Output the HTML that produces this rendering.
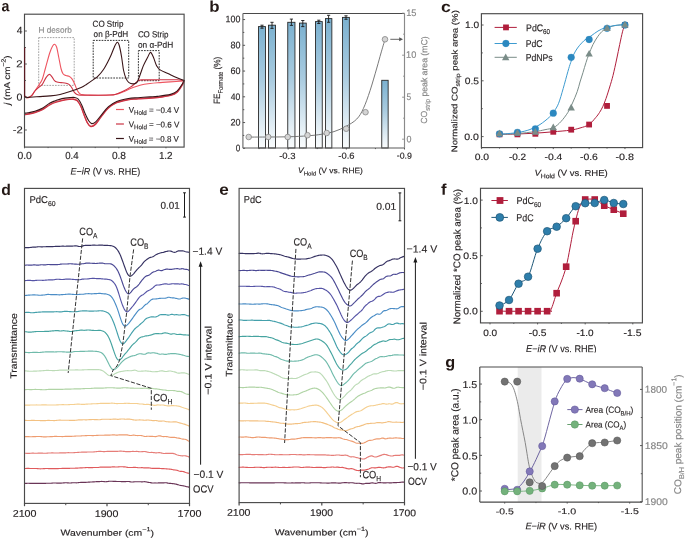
<!DOCTYPE html>
<html><head><meta charset="utf-8"><style>
html,body{margin:0;padding:0;background:#fff;width:685px;height:538px;overflow:hidden}
svg{display:block;font-family:"Liberation Sans",sans-serif;will-change:transform} text{text-rendering:geometricPrecision;paint-order:stroke}
</style></head><body>
<svg width="685" height="538" viewBox="0 0 685 538">
<rect x="0" y="0" width="685" height="538" fill="#fff"/>
<text x="1.44" y="11.22" font-size="15.5" text-anchor="start" fill="#231815" font-weight="bold" textLength="7.89" lengthAdjust="spacingAndGlyphs" transform="rotate(0.2 1.44 11.22)" >a</text>
<rect x="38.7" y="37.6" width="35.5" height="47.8" fill="none" stroke="#9a9a9a" stroke-width="0.9" stroke-dasharray="1.7,1.1" />
<rect x="93.2" y="40.4" width="35.5" height="37.6" fill="none" stroke="#333" stroke-width="1.0" stroke-dasharray="1.7,1.1" />
<rect x="138.4" y="50.6" width="20.8" height="30.1" fill="none" stroke="#333" stroke-width="1.0" stroke-dasharray="1.7,1.1" />
<path d="M184,80.6 C183.7,81.27 183.37,82.72 182.2,84.6 C181.03,86.48 178.95,90.15 177,91.9 C175.05,93.65 173.75,94.22 170.5,95.1 C167.25,95.98 162.92,96.62 157.5,97.2 C152.08,97.78 142.92,98.23 138,98.6 C133.08,98.97 131.58,98.77 128,99.4 C124.42,100.03 119.83,100.97 116.5,102.4 C113.17,103.83 110.58,105.65 108,108 C105.42,110.35 103.08,113.87 101,116.5 C98.92,119.13 97.23,122.18 95.5,123.8 C93.77,125.42 91.98,126.42 90.6,126.2 C89.22,125.98 88.3,124.4 87.2,122.5 C86.1,120.6 85.1,117.58 84,114.8 C82.9,112.02 81.77,108.2 80.6,105.8 C79.43,103.4 78.27,101.55 77,100.4 C75.73,99.25 75,99.03 73,98.9 C71,98.77 67.83,99.12 65,99.6 C62.17,100.08 58.5,101.02 56,101.8 C53.5,102.58 52.28,103.07 50,104.3 C47.72,105.53 44.82,107.88 42.3,109.2 C39.78,110.52 37.28,111.43 34.9,112.2 C32.52,112.97 29.68,113.47 28,113.8 C26.32,114.13 25.33,114.13 24.8,114.2" fill="none" stroke="#ee5560" stroke-width="1.2" stroke-linejoin="round" stroke-linecap="round" />
<path d="M184.2,81 C183.9,81.67 183.57,83.12 182.4,85 C181.23,86.88 179.15,90.55 177.2,92.3 C175.25,94.05 173.95,94.62 170.7,95.5 C167.45,96.38 163.12,97.02 157.7,97.6 C152.28,98.18 143.12,98.63 138.2,99 C133.28,99.37 131.78,99.17 128.2,99.8 C124.62,100.43 120.03,101.37 116.7,102.8 C113.37,104.23 110.78,106.05 108.2,108.4 C105.62,110.75 103.28,114.27 101.2,116.9 C99.12,119.53 97.43,122.58 95.7,124.2 C93.97,125.82 92.18,126.82 90.8,126.6 C89.42,126.38 88.5,124.8 87.4,122.9 C86.3,121 85.3,117.98 84.2,115.2 C83.1,112.42 81.97,108.6 80.8,106.2 C79.63,103.8 78.47,101.95 77.2,100.8 C75.93,99.65 75.2,99.43 73.2,99.3 C71.2,99.17 68.03,99.52 65.2,100 C62.37,100.48 58.7,101.42 56.2,102.2 C53.7,102.98 52.48,103.47 50.2,104.7 C47.92,105.93 45.02,108.28 42.5,109.6 C39.98,110.92 37.48,111.83 35.1,112.6 C32.72,113.37 29.88,113.87 28.2,114.2 C26.52,114.53 25.53,114.53 25,114.6" fill="none" stroke="#cc3344" stroke-width="1.2" stroke-linejoin="round" stroke-linecap="round" />
<path d="M24.8,96.3 C25.08,96.52 25.8,97.45 26.5,97.6 C27.2,97.75 28.08,97.58 29,97.2 C29.92,96.82 31,96.37 32,95.3 C33,94.23 33.88,92.48 35,90.8 C36.12,89.12 37.48,87.13 38.7,85.2 C39.92,83.27 41.17,82.07 42.3,79.2 C43.43,76.33 44.27,72.37 45.5,68 C46.73,63.63 48.53,56.63 49.7,53 C50.87,49.37 51.68,47.65 52.5,46.2 C53.32,44.75 53.92,44.17 54.6,44.3 C55.28,44.43 55.9,44.8 56.6,47 C57.3,49.2 58.07,53.92 58.8,57.5 C59.53,61.08 60.3,65.78 61,68.5 C61.7,71.22 62.17,72.62 63,73.8 C63.83,74.98 65,75.18 66,75.6 C67,76.02 68,75.77 69,76.3 C70,76.83 71.08,77.6 72,78.8 C72.92,80 73.63,81.58 74.5,83.5 C75.37,85.42 76.33,88.62 77.2,90.3 C78.07,91.98 78.73,92.85 79.7,93.6 C80.67,94.35 81.28,94.55 83,94.8 C84.72,95.05 87.17,95.03 90,95.1 C92.83,95.17 96.67,95.22 100,95.2 C103.33,95.18 107.33,95.15 110,95 C112.67,94.85 113.9,94.8 116,94.3 C118.1,93.8 119.95,93.05 122.6,92 C125.25,90.95 129,89.13 131.9,88 C134.8,86.87 136.98,85.95 140,85.2 C143.02,84.45 146.67,83.93 150,83.5 C153.33,83.07 156.67,82.87 160,82.6 C163.33,82.33 166,82.18 170,81.9 C174,81.62 181.67,81.07 184,80.9" fill="none" stroke="#ee5560" stroke-width="1.1" stroke-linejoin="round" stroke-linecap="round" />
<path d="M24.8,96.3 C25.08,96.52 25.8,97.42 26.5,97.6 C27.2,97.78 28.08,97.8 29,97.4 C29.92,97 31.02,96.27 32,95.2 C32.98,94.13 33.82,92.28 34.9,91 C35.98,89.72 37.27,88.6 38.5,87.5 C39.73,86.4 41.05,86.05 42.3,84.4 C43.55,82.75 44.83,79.27 46,77.6 C47.17,75.93 48.3,74.53 49.3,74.4 C50.3,74.27 51.13,75.77 52,76.8 C52.87,77.83 53.67,79.73 54.5,80.6 C55.33,81.47 55.92,81.67 57,82 C58.08,82.33 59.5,82.4 61,82.6 C62.5,82.8 64.67,82.9 66,83.2 C67.33,83.5 68.08,83.72 69,84.4 C69.92,85.08 70.67,86.07 71.5,87.3 C72.33,88.53 73.08,90.62 74,91.8 C74.92,92.98 75.83,93.85 77,94.4 C78.17,94.95 78.83,94.97 81,95.1 C83.17,95.23 85.17,95.22 90,95.2 C94.83,95.18 105.67,95.17 110,95 C114.33,94.83 113.9,94.77 116,94.2 C118.1,93.63 120.27,92.73 122.6,91.6 C124.93,90.47 127.93,88.73 130,87.4 C132.07,86.07 133.57,84.73 135,83.6 C136.43,82.47 137.43,81.22 138.6,80.6 C139.77,79.98 138.43,80.05 142,79.9 C145.57,79.75 154.17,79.72 160,79.7 C165.83,79.68 173,79.67 177,79.8 C181,79.93 182.83,80.38 184,80.5" fill="none" stroke="#cc3344" stroke-width="1.1" stroke-linejoin="round" stroke-linecap="round" />
<path d="M24.8,96.3 C25.08,96.48 25.63,97.25 26.5,97.4 C27.37,97.55 27.75,97.33 30,97.2 C32.25,97.07 36.67,96.82 40,96.6 C43.33,96.38 46.67,96.25 50,95.9 C53.33,95.55 56.67,95.22 60,94.5 C63.33,93.78 66.38,92.82 70,91.6 C73.62,90.38 78.92,88.43 81.7,87.2 C84.48,85.97 84.75,85.47 86.7,84.2 C88.65,82.93 91.52,80.93 93.4,79.6 C95.28,78.27 96.32,77.88 98,76.2 C99.68,74.52 101.83,71.95 103.5,69.5 C105.17,67.05 106.75,63.87 108,61.5 C109.25,59.13 109.93,57.73 111,55.3 C112.07,52.87 113.35,49.07 114.4,46.9 C115.45,44.73 116.47,42.45 117.3,42.3 C118.13,42.15 118.68,43.55 119.4,46 C120.12,48.45 120.9,52.92 121.6,57 C122.3,61.08 122.85,66.9 123.6,70.5 C124.35,74.1 125.2,76.58 126.1,78.6 C127,80.62 127.85,81.72 129,82.6 C130.15,83.48 131.75,83.87 133,83.9 C134.25,83.93 135.62,83.52 136.5,82.8 C137.38,82.08 137.55,81.37 138.3,79.6 C139.05,77.83 140.15,74.53 141,72.2 C141.85,69.87 142.27,68.15 143.4,65.6 C144.53,63.05 146.6,59.1 147.8,56.9 C149,54.7 149.63,52.25 150.6,52.4 C151.57,52.55 152.6,55.57 153.6,57.8 C154.6,60.03 155.52,63.78 156.6,65.8 C157.68,67.82 158.22,68.62 160.1,69.9 C161.98,71.18 165.08,72.2 167.9,73.5 C170.72,74.8 174.32,76.55 177,77.7 C179.68,78.85 182.83,79.95 184,80.4" fill="none" stroke="#3a1518" stroke-width="1.1" stroke-linejoin="round" stroke-linecap="round" />
<path d="M184,80.4 C183.7,81.03 183.37,82.4 182.2,84.2 C181.03,86 178.95,89.5 177,91.2 C175.05,92.9 173.75,93.53 170.5,94.4 C167.25,95.27 160.92,95.98 157.5,96.4 C154.08,96.82 153.25,96.68 150,96.9 C146.75,97.12 141.6,97.43 138,97.7 C134.4,97.97 131.95,97.88 128.4,98.5 C124.85,99.12 120.02,100.03 116.7,101.4 C113.38,102.77 111.03,104.47 108.5,106.7 C105.97,108.93 103.63,112.28 101.5,114.8 C99.37,117.32 97.33,120.33 95.7,121.8 C94.07,123.27 92.87,123.77 91.7,123.6 C90.53,123.43 89.78,122.43 88.7,120.8 C87.62,119.17 86.37,116.43 85.2,113.8 C84.03,111.17 82.87,107.43 81.7,105 C80.53,102.57 79.37,100.45 78.2,99.2 C77.03,97.95 76.07,97.77 74.7,97.5 C73.33,97.23 72.12,97.42 70,97.6 C67.88,97.78 64.42,98.08 62,98.6 C59.58,99.12 57.5,99.97 55.5,100.7 C53.5,101.43 52.2,101.75 50,103 C47.8,104.25 44.82,106.82 42.3,108.2 C39.78,109.58 37.28,110.53 34.9,111.3 C32.52,112.07 29.68,112.48 28,112.8 C26.32,113.12 25.33,113.13 24.8,113.2" fill="none" stroke="#3a1518" stroke-width="1.1" stroke-linejoin="round" stroke-linecap="round" />
<rect x="24.5" y="14.2" width="159.6" height="132.9" fill="none" stroke="#4a4a4a" stroke-width="1.15" />
<line x1="24.6" y1="47" x2="24.6" y2="97" stroke="#5a1a22" stroke-width="1.2" />
<line x1="24.5" y1="130" x2="26.9" y2="130" stroke="#4a4a4a" stroke-width="0.9" />
<line x1="24.5" y1="97" x2="26.9" y2="97" stroke="#4a4a4a" stroke-width="0.9" />
<line x1="24.5" y1="64" x2="26.9" y2="64" stroke="#4a4a4a" stroke-width="0.9" />
<line x1="24.5" y1="31" x2="26.9" y2="31" stroke="#4a4a4a" stroke-width="0.9" />
<line x1="24.5" y1="113.5" x2="26" y2="113.5" stroke="#4a4a4a" stroke-width="0.9" />
<line x1="24.5" y1="80.5" x2="26" y2="80.5" stroke="#4a4a4a" stroke-width="0.9" />
<line x1="24.5" y1="47.5" x2="26" y2="47.5" stroke="#4a4a4a" stroke-width="0.9" />
<line x1="24.5" y1="147.1" x2="24.5" y2="148.3" stroke="#4a4a4a" stroke-width="0.9" />
<line x1="71.66" y1="147.1" x2="71.66" y2="148.3" stroke="#4a4a4a" stroke-width="0.9" />
<line x1="118.82" y1="147.1" x2="118.82" y2="148.3" stroke="#4a4a4a" stroke-width="0.9" />
<line x1="165.98" y1="147.1" x2="165.98" y2="148.3" stroke="#4a4a4a" stroke-width="0.9" />
<line x1="48.08" y1="147.1" x2="48.08" y2="148.1" stroke="#4a4a4a" stroke-width="0.9" />
<line x1="95.24" y1="147.1" x2="95.24" y2="148.1" stroke="#4a4a4a" stroke-width="0.9" />
<line x1="142.4" y1="147.1" x2="142.4" y2="148.1" stroke="#4a4a4a" stroke-width="0.9" />
<text x="16.68" y="33.73" font-size="10" text-anchor="start" fill="#231f20" stroke="#231f20" stroke-width="0.15" textLength="5.67" lengthAdjust="spacingAndGlyphs" transform="rotate(0.2 16.68 33.73)" >4</text>
<text x="16.18" y="67.39" font-size="10" text-anchor="start" fill="#231f20" stroke="#231f20" stroke-width="0.15" textLength="6.32" lengthAdjust="spacingAndGlyphs" transform="rotate(0.2 16.18 67.39)" >2</text>
<text x="16.5" y="100.4" font-size="10" text-anchor="start" fill="#231f20" stroke="#231f20" stroke-width="0.15" textLength="5.9" lengthAdjust="spacingAndGlyphs" transform="rotate(0.2 16.5 100.4)" >0</text>
<text x="12.76" y="133.2" font-size="10" text-anchor="start" fill="#231f20" stroke="#231f20" stroke-width="0.15" textLength="9.97" lengthAdjust="spacingAndGlyphs" transform="rotate(0.2 12.76 133.2)" >-2</text>
<text x="17.44" y="159.1" font-size="10.2" text-anchor="start" fill="#231f20" stroke="#231f20" stroke-width="0.15" textLength="14.46" lengthAdjust="spacingAndGlyphs" transform="rotate(0.2 17.44 159.1)" >0.0</text>
<text x="65.13" y="159.09" font-size="10.2" text-anchor="start" fill="#231f20" stroke="#231f20" stroke-width="0.15" textLength="13.4" lengthAdjust="spacingAndGlyphs" transform="rotate(0.2 65.13 159.09)" >0.4</text>
<text x="111.91" y="158.94" font-size="10.2" text-anchor="start" fill="#231f20" stroke="#231f20" stroke-width="0.15" textLength="14.12" lengthAdjust="spacingAndGlyphs" transform="rotate(0.2 111.91 158.94)" >0.8</text>
<text x="158.89" y="159.1" font-size="10.2" text-anchor="start" fill="#231f20" stroke="#231f20" stroke-width="0.15" textLength="13.73" lengthAdjust="spacingAndGlyphs" transform="rotate(0.2 158.89 159.1)" >1.2</text>
<text x="70.6" y="174.49" font-size="9.51" text-anchor="start" fill="#231f20" stroke="#231f20" stroke-width="0.15" textLength="69.56" lengthAdjust="spacingAndGlyphs" transform="rotate(0.2 70.6 174.49)" ><tspan font-style="italic">E</tspan>−<tspan font-style="italic">iR</tspan> (V vs. RHE)</text>
<text x="9.9" y="105.11" font-size="8.51" text-anchor="start" fill="#231f20" stroke="#231f20" stroke-width="0.15" textLength="49.72" lengthAdjust="spacingAndGlyphs" transform="rotate(-89.8 9.9 105.11)" ><tspan font-style="italic">j</tspan> (mA cm<tspan font-size="70%" dy="-0.75em">−2</tspan><tspan dy="0.525em">)</tspan></text>
<text x="38.42" y="32.69" font-size="8.2" text-anchor="start" fill="#8a8a8a" stroke="#8a8a8a" stroke-width="0.15" textLength="33.37" lengthAdjust="spacingAndGlyphs" transform="rotate(0.2 38.42 32.69)" >H desorb</text>
<text x="92.6" y="26.76" font-size="8.7" text-anchor="start" fill="#231f20" stroke="#231f20" stroke-width="0.15" textLength="30.77" lengthAdjust="spacingAndGlyphs" transform="rotate(0.2 92.6 26.76)" >CO Strip</text>
<text x="93.6" y="36.91" font-size="8.7" text-anchor="start" fill="#231f20" stroke="#231f20" stroke-width="0.15" textLength="34.59" lengthAdjust="spacingAndGlyphs" transform="rotate(0.2 93.6 36.91)" >on β-PdH</text>
<text x="137.88" y="37.31" font-size="8.7" text-anchor="start" fill="#231f20" stroke="#231f20" stroke-width="0.15" textLength="30.52" lengthAdjust="spacingAndGlyphs" transform="rotate(0.2 137.88 37.31)" >CO Strip</text>
<text x="137.92" y="47.66" font-size="8.7" text-anchor="start" fill="#231f20" stroke="#231f20" stroke-width="0.15" textLength="35.31" lengthAdjust="spacingAndGlyphs" transform="rotate(0.2 137.92 47.66)" >on α-PdH</text>
<line x1="116" y1="109.5" x2="123.9" y2="109.5" stroke="#ee5560" stroke-width="1.2" />
<text x="128.68" y="112.77" font-size="8.25" text-anchor="start" fill="#231f20" stroke="#231f20" stroke-width="0.15" textLength="50.4" lengthAdjust="spacingAndGlyphs" transform="rotate(0.2 128.68 112.77)" >V<tspan font-size="78%" dy="0.32em">Hold</tspan><tspan dy="-0.25em"> = −0.4 V</tspan></text>
<line x1="116" y1="124" x2="123.9" y2="124" stroke="#cc3344" stroke-width="1.2" />
<text x="128.77" y="127.26" font-size="8.25" text-anchor="start" fill="#231f20" stroke="#231f20" stroke-width="0.15" textLength="50.49" lengthAdjust="spacingAndGlyphs" transform="rotate(0.2 128.77 127.26)" >V<tspan font-size="78%" dy="0.32em">Hold</tspan><tspan dy="-0.25em"> = −0.6 V</tspan></text>
<line x1="116" y1="138.5" x2="123.9" y2="138.5" stroke="#3a1518" stroke-width="1.2" />
<text x="128.64" y="141.67" font-size="8.25" text-anchor="start" fill="#231f20" stroke="#231f20" stroke-width="0.15" textLength="50.21" lengthAdjust="spacingAndGlyphs" transform="rotate(0.2 128.64 141.67)" >V<tspan font-size="78%" dy="0.32em">Hold</tspan><tspan dy="-0.25em"> = −0.8 V</tspan></text>
<text x="209.24" y="11.77" font-size="15.5" text-anchor="start" fill="#231815" font-weight="bold" textLength="10.26" lengthAdjust="spacingAndGlyphs" transform="rotate(0.2 209.24 11.77)" >b</text>
<defs><linearGradient id="bg" x1="0" y1="0" x2="0" y2="1"><stop offset="0" stop-color="#7bb1d0"/><stop offset="0.45" stop-color="#aacce0"/><stop offset="0.85" stop-color="#e6f0f6"/><stop offset="1" stop-color="#fafcfd"/></linearGradient></defs>
<rect x="258.45" y="26.6" width="7" height="121.4" fill="url(#bg)" stroke="#2a2a2a" stroke-width="0.9" />
<rect x="268.45" y="25.2" width="7" height="122.8" fill="url(#bg)" stroke="#2a2a2a" stroke-width="0.9" />
<rect x="287.75" y="22.3" width="7.2" height="125.7" fill="url(#bg)" stroke="#2a2a2a" stroke-width="0.9" />
<rect x="299.45" y="23.1" width="6.8" height="124.9" fill="url(#bg)" stroke="#2a2a2a" stroke-width="0.9" />
<rect x="315.45" y="21.6" width="6.8" height="126.4" fill="url(#bg)" stroke="#2a2a2a" stroke-width="0.9" />
<rect x="325.45" y="18.6" width="6.4" height="129.4" fill="url(#bg)" stroke="#2a2a2a" stroke-width="0.9" />
<rect x="342.55" y="17.4" width="6.8" height="130.6" fill="url(#bg)" stroke="#2a2a2a" stroke-width="0.9" />
<rect x="381.75" y="80.3" width="6.4" height="67.7" fill="url(#bg)" stroke="#2a2a2a" stroke-width="0.9" />
<line x1="262" y1="25.2" x2="262" y2="28.2" stroke="#1a1a1a" stroke-width="0.9" />
<line x1="260.4" y1="25.2" x2="263.6" y2="25.2" stroke="#1a1a1a" stroke-width="0.9" />
<line x1="260.4" y1="28.2" x2="263.6" y2="28.2" stroke="#1a1a1a" stroke-width="0.9" />
<line x1="272" y1="22.3" x2="272" y2="28.4" stroke="#1a1a1a" stroke-width="0.9" />
<line x1="270.4" y1="22.3" x2="273.6" y2="22.3" stroke="#1a1a1a" stroke-width="0.9" />
<line x1="270.4" y1="28.4" x2="273.6" y2="28.4" stroke="#1a1a1a" stroke-width="0.9" />
<line x1="291.4" y1="19.1" x2="291.4" y2="25.4" stroke="#1a1a1a" stroke-width="0.9" />
<line x1="289.8" y1="19.1" x2="293" y2="19.1" stroke="#1a1a1a" stroke-width="0.9" />
<line x1="289.8" y1="25.4" x2="293" y2="25.4" stroke="#1a1a1a" stroke-width="0.9" />
<line x1="302.8" y1="20.5" x2="302.8" y2="26.6" stroke="#1a1a1a" stroke-width="0.9" />
<line x1="301.2" y1="20.5" x2="304.4" y2="20.5" stroke="#1a1a1a" stroke-width="0.9" />
<line x1="301.2" y1="26.6" x2="304.4" y2="26.6" stroke="#1a1a1a" stroke-width="0.9" />
<line x1="318.8" y1="20.2" x2="318.8" y2="23.5" stroke="#1a1a1a" stroke-width="0.9" />
<line x1="317.2" y1="20.2" x2="320.4" y2="20.2" stroke="#1a1a1a" stroke-width="0.9" />
<line x1="317.2" y1="23.5" x2="320.4" y2="23.5" stroke="#1a1a1a" stroke-width="0.9" />
<line x1="328.6" y1="15.3" x2="328.6" y2="22.3" stroke="#1a1a1a" stroke-width="0.9" />
<line x1="327" y1="15.3" x2="330.2" y2="15.3" stroke="#1a1a1a" stroke-width="0.9" />
<line x1="327" y1="22.3" x2="330.2" y2="22.3" stroke="#1a1a1a" stroke-width="0.9" />
<line x1="346" y1="15.8" x2="346" y2="19.3" stroke="#1a1a1a" stroke-width="0.9" />
<line x1="344.4" y1="15.8" x2="347.6" y2="15.8" stroke="#1a1a1a" stroke-width="0.9" />
<line x1="344.4" y1="19.3" x2="347.6" y2="19.3" stroke="#1a1a1a" stroke-width="0.9" />
<path d="M248.7,137.1 C251.92,137.08 261.45,137.05 268,137 C274.55,136.95 281.33,137 288,136.8 C294.67,136.6 302.33,136.23 308,135.8 C313.67,135.37 317.67,134.9 322,134.2 C326.33,133.5 330,132.9 334,131.6 C338,130.3 342.22,128.48 346,126.4 C349.78,124.32 353.8,122.08 356.7,119.1 C359.6,116.12 361.17,113.27 363.4,108.5 C365.63,103.73 367.87,97.25 370.1,90.5 C372.33,83.75 374.98,74.25 376.8,68 C378.62,61.75 379.63,57.77 381,53 C382.37,48.23 384.33,41.67 385,39.4" fill="none" stroke="#6a6a6a" stroke-width="0.9" stroke-linejoin="round" stroke-linecap="round" />
<circle cx="248.7" cy="137" r="2.8" fill="#d4d4d4" stroke="#858585" stroke-width="0.8"/>
<circle cx="268.2" cy="137" r="2.8" fill="#d4d4d4" stroke="#858585" stroke-width="0.8"/>
<circle cx="287.7" cy="137" r="2.8" fill="#d4d4d4" stroke="#858585" stroke-width="0.8"/>
<circle cx="307.5" cy="135.2" r="2.8" fill="#d4d4d4" stroke="#858585" stroke-width="0.8"/>
<circle cx="326.7" cy="133" r="2.8" fill="#d4d4d4" stroke="#858585" stroke-width="0.8"/>
<circle cx="346.2" cy="128.7" r="2.8" fill="#d4d4d4" stroke="#858585" stroke-width="0.8"/>
<circle cx="365.5" cy="112.2" r="2.8" fill="#d4d4d4" stroke="#858585" stroke-width="0.8"/>
<circle cx="385" cy="39.3" r="2.8" fill="#d4d4d4" stroke="#858585" stroke-width="0.8"/>
<line x1="390.3" y1="39.3" x2="400.5" y2="39.3" stroke="#555" stroke-width="0.9" />
<path d="M403,39.3 L399.2,37.3 L399.2,41.3 Z" fill="#555"/>
<line x1="242.9" y1="13.5" x2="404.5" y2="13.5" stroke="#4a4a4a" stroke-width="1.15" />
<line x1="242.9" y1="148" x2="404.5" y2="148" stroke="#5a5a5a" stroke-width="1.15" />
<line x1="242.9" y1="13.5" x2="242.9" y2="148" stroke="#7a7a7a" stroke-width="1.3" />
<line x1="404.5" y1="13.5" x2="404.5" y2="148" stroke="#8a8a8a" stroke-width="1.15" />
<line x1="242.9" y1="148.3" x2="245.1" y2="148.3" stroke="#4a4a4a" stroke-width="0.9" />
<line x1="242.9" y1="122.55" x2="245.1" y2="122.55" stroke="#4a4a4a" stroke-width="0.9" />
<line x1="242.9" y1="96.8" x2="245.1" y2="96.8" stroke="#4a4a4a" stroke-width="0.9" />
<line x1="242.9" y1="71.05" x2="245.1" y2="71.05" stroke="#4a4a4a" stroke-width="0.9" />
<line x1="242.9" y1="45.3" x2="245.1" y2="45.3" stroke="#4a4a4a" stroke-width="0.9" />
<line x1="242.9" y1="19.55" x2="245.1" y2="19.55" stroke="#4a4a4a" stroke-width="0.9" />
<line x1="242.9" y1="135.43" x2="244.3" y2="135.43" stroke="#4a4a4a" stroke-width="0.9" />
<line x1="242.9" y1="109.68" x2="244.3" y2="109.68" stroke="#4a4a4a" stroke-width="0.9" />
<line x1="242.9" y1="83.93" x2="244.3" y2="83.93" stroke="#4a4a4a" stroke-width="0.9" />
<line x1="242.9" y1="58.18" x2="244.3" y2="58.18" stroke="#4a4a4a" stroke-width="0.9" />
<line x1="242.9" y1="32.42" x2="244.3" y2="32.42" stroke="#4a4a4a" stroke-width="0.9" />
<line x1="288.17" y1="148" x2="288.17" y2="149.5" stroke="#4a4a4a" stroke-width="0.9" />
<line x1="346.34" y1="148" x2="346.34" y2="149.5" stroke="#4a4a4a" stroke-width="0.9" />
<line x1="404.51" y1="148" x2="404.51" y2="149.5" stroke="#4a4a4a" stroke-width="0.9" />
<line x1="259.08" y1="148" x2="259.08" y2="149.1" stroke="#4a4a4a" stroke-width="0.9" />
<line x1="317.25" y1="148" x2="317.25" y2="149.1" stroke="#4a4a4a" stroke-width="0.9" />
<line x1="375.43" y1="148" x2="375.43" y2="149.1" stroke="#4a4a4a" stroke-width="0.9" />
<text x="235.75" y="151.31" font-size="9.45" text-anchor="start" fill="#231f20" stroke="#231f20" stroke-width="0.15" textLength="4.54" lengthAdjust="spacingAndGlyphs" transform="rotate(0.2 235.75 151.31)" >0</text>
<text x="230.59" y="125.48" font-size="9.45" text-anchor="start" fill="#231f20" stroke="#231f20" stroke-width="0.15" textLength="10" lengthAdjust="spacingAndGlyphs" transform="rotate(0.2 230.59 125.48)" >20</text>
<text x="230.67" y="100" font-size="9.45" text-anchor="start" fill="#231f20" stroke="#231f20" stroke-width="0.15" textLength="9.53" lengthAdjust="spacingAndGlyphs" transform="rotate(0.2 230.67 100)" >40</text>
<text x="230.59" y="74.05" font-size="9.45" text-anchor="start" fill="#231f20" stroke="#231f20" stroke-width="0.15" textLength="10" lengthAdjust="spacingAndGlyphs" transform="rotate(0.2 230.59 74.05)" >60</text>
<text x="230.57" y="48.19" font-size="9.45" text-anchor="start" fill="#231f20" stroke="#231f20" stroke-width="0.15" textLength="9.96" lengthAdjust="spacingAndGlyphs" transform="rotate(0.2 230.57 48.19)" >80</text>
<text x="225.56" y="22.3" font-size="9.45" text-anchor="start" fill="#231f20" stroke="#231f20" stroke-width="0.15" textLength="14.76" lengthAdjust="spacingAndGlyphs" transform="rotate(0.2 225.56 22.3)" >100</text>
<text x="279.16" y="158.87" font-size="8.75" text-anchor="start" fill="#231f20" stroke="#231f20" stroke-width="0.15" textLength="16.31" lengthAdjust="spacingAndGlyphs" transform="rotate(0.2 279.16 158.87)" >-0.3</text>
<text x="338.36" y="158.66" font-size="8.75" text-anchor="start" fill="#231f20" stroke="#231f20" stroke-width="0.15" textLength="16.2" lengthAdjust="spacingAndGlyphs" transform="rotate(0.2 338.36 158.66)" >-0.6</text>
<text x="396.82" y="158.63" font-size="8.75" text-anchor="start" fill="#231f20" stroke="#231f20" stroke-width="0.15" textLength="15.11" lengthAdjust="spacingAndGlyphs" transform="rotate(0.2 396.82 158.63)" >-0.9</text>
<line x1="404.5" y1="139.2" x2="402.1" y2="139.2" stroke="#8a8a8a" stroke-width="0.9" />
<line x1="404.5" y1="97.2" x2="402.1" y2="97.2" stroke="#8a8a8a" stroke-width="0.9" />
<line x1="404.5" y1="55.2" x2="402.1" y2="55.2" stroke="#8a8a8a" stroke-width="0.9" />
<line x1="404.5" y1="13.2" x2="402.1" y2="13.2" stroke="#8a8a8a" stroke-width="0.9" />
<line x1="404.5" y1="118.2" x2="403.1" y2="118.2" stroke="#8a8a8a" stroke-width="0.9" />
<line x1="404.5" y1="76.2" x2="403.1" y2="76.2" stroke="#8a8a8a" stroke-width="0.9" />
<line x1="404.5" y1="34.2" x2="403.1" y2="34.2" stroke="#8a8a8a" stroke-width="0.9" />
<text x="406.13" y="15.95" font-size="9.35" text-anchor="start" fill="#858585" stroke="#858585" stroke-width="0.15" textLength="10.33" lengthAdjust="spacingAndGlyphs" transform="rotate(0.2 406.13 15.95)" >15</text>
<text x="406.1" y="57.67" font-size="9.35" text-anchor="start" fill="#858585" stroke="#858585" stroke-width="0.15" textLength="10.21" lengthAdjust="spacingAndGlyphs" transform="rotate(0.2 406.1 57.67)" >10</text>
<text x="406.55" y="100.02" font-size="9.35" text-anchor="start" fill="#858585" stroke="#858585" stroke-width="0.15" textLength="4.65" lengthAdjust="spacingAndGlyphs" transform="rotate(0.2 406.55 100.02)" >5</text>
<text x="406.57" y="142.15" font-size="9.35" text-anchor="start" fill="#858585" stroke="#858585" stroke-width="0.15" textLength="4.96" lengthAdjust="spacingAndGlyphs" transform="rotate(0.2 406.57 142.15)" >0</text>
<text x="298.03" y="173.12" font-size="7.89" text-anchor="start" fill="#231f20" stroke="#231f20" stroke-width="0.15" textLength="64.87" lengthAdjust="spacingAndGlyphs" transform="rotate(0.2 298.03 173.12)" ><tspan font-style="italic">V</tspan><tspan font-size="72%" dy="0.4em">Hold</tspan><tspan dy="-0.288em"> (V vs. RHE)</tspan></text>
<text x="220.06" y="103.93" font-size="9.18" text-anchor="start" fill="#231f20" stroke="#231f20" stroke-width="0.15" textLength="47.26" lengthAdjust="spacingAndGlyphs" transform="rotate(-89.8 220.06 103.93)" >FE<tspan font-size="72%" dy="0.4em">Formate</tspan><tspan dy="-0.288em"> (%)</tspan></text>
<text x="427.1" y="123.76" font-size="8.82" text-anchor="start" fill="#858585" stroke="#858585" stroke-width="0.15" textLength="87.37" lengthAdjust="spacingAndGlyphs" transform="rotate(-89.8 427.1 123.76)" >CO<tspan font-size="72%" dy="0.4em">strip</tspan><tspan dy="-0.288em"> peak area (mC)</tspan></text>
<text x="441" y="11.9" font-size="15.5" text-anchor="start" fill="#231815" font-weight="bold" textLength="9.76" lengthAdjust="spacingAndGlyphs" transform="rotate(0.2 441 11.9)" >c</text>
<path d="M500,134.3 C502.92,134.25 511.67,134.18 517.5,134 C523.33,133.82 529.08,133.57 535,133.2 C540.92,132.83 547.13,132.3 553,131.8 C558.87,131.3 565.7,130.83 570.2,130.2 C574.7,129.57 576.9,128.92 580,128 C583.1,127.08 586.18,126.43 588.8,124.7 C591.42,122.97 593.92,119.63 595.7,117.6 C597.48,115.57 598.33,114.3 599.5,112.5 C600.67,110.7 601.62,109.13 602.7,106.8 C603.78,104.47 604.83,101.8 606,98.5 C607.17,95.2 608.53,90.83 609.7,87 C610.87,83.17 611.83,80.17 613,75.5 C614.17,70.83 615.58,64.17 616.7,59 C617.82,53.83 618.73,49.03 619.7,44.5 C620.67,39.97 621.65,35.12 622.5,31.8 C623.35,28.48 624.42,25.8 624.8,24.6" fill="none" stroke="#b01e3c" stroke-width="1.0" stroke-linejoin="round" stroke-linecap="round" />
<path d="M500,134.4 C502.92,134.27 511.67,134.07 517.5,133.6 C523.33,133.13 530.42,132.25 535,131.6 C539.58,130.95 541.85,130.4 545,129.7 C548.15,129 551.23,128.77 553.9,127.4 C556.57,126.03 558.67,124 561,121.5 C563.33,119 565.98,115.48 567.9,112.4 C569.82,109.32 570.95,106.45 572.5,103 C574.05,99.55 575.95,95.2 577.2,91.7 C578.45,88.2 579.03,85.2 580,82 C580.97,78.8 582,75.75 583,72.5 C584,69.25 585.03,65.5 586,62.5 C586.97,59.5 587.63,57.5 588.8,54.5 C589.97,51.5 591.47,47.55 593,44.5 C594.53,41.45 596.33,38.53 598,36.2 C599.67,33.87 601.43,31.88 603,30.5 C604.57,29.12 605.4,28.72 607.4,27.9 C609.4,27.08 612.1,26.15 615,25.6 C617.9,25.05 623.17,24.77 624.8,24.6" fill="none" stroke="#7a8c88" stroke-width="1.0" stroke-linejoin="round" stroke-linecap="round" />
<path d="M500,134.2 C502.92,133.93 512.5,133.38 517.5,132.6 C522.5,131.82 526.25,130.85 530,129.5 C533.75,128.15 536.78,126.55 540,124.5 C543.22,122.45 546.97,119.37 549.3,117.2 C551.63,115.03 552.45,113.82 554,111.5 C555.55,109.18 557.07,107.13 558.6,103.3 C560.13,99.47 561.65,93.8 563.2,88.5 C564.75,83.2 566.65,75.83 567.9,71.5 C569.15,67.17 569.73,65.33 570.7,62.5 C571.67,59.67 572.57,56.92 573.7,54.5 C574.83,52.08 576.15,49.93 577.5,48 C578.85,46.07 580.38,44.4 581.8,42.9 C583.22,41.4 584.45,40.17 586,39 C587.55,37.83 589.1,37.23 591.1,35.9 C593.1,34.57 595.68,32.35 598,31 C600.32,29.65 602.33,28.7 605,27.8 C607.67,26.9 610.7,26.13 614,25.6 C617.3,25.07 623,24.77 624.8,24.6" fill="none" stroke="#3d9bd0" stroke-width="1.0" stroke-linejoin="round" stroke-linecap="round" />
<rect x="496.62" y="131.47" width="5.8" height="5.8" fill="#b01e3c" stroke="none" stroke-width="0.6"/>
<rect x="514.54" y="131.47" width="5.8" height="5.8" fill="#b01e3c" stroke="none" stroke-width="0.6"/>
<rect x="532.46" y="130.91" width="5.8" height="5.8" fill="#b01e3c" stroke="none" stroke-width="0.6"/>
<rect x="550.38" y="128.9" width="5.8" height="5.8" fill="#b01e3c" stroke="none" stroke-width="0.6"/>
<rect x="568.3" y="126.78" width="5.8" height="5.8" fill="#b01e3c" stroke="none" stroke-width="0.6"/>
<rect x="586.22" y="121.65" width="5.8" height="5.8" fill="#b01e3c" stroke="none" stroke-width="0.6"/>
<rect x="604.14" y="103.01" width="5.8" height="5.8" fill="#b01e3c" stroke="none" stroke-width="0.6"/>
<rect x="622.06" y="22.1" width="5.8" height="5.8" fill="#b01e3c" stroke="none" stroke-width="0.6"/>
<circle cx="499.52" cy="133.81" r="3.4" fill="#2b88c0" stroke="#2b88c0" stroke-width="0.3"/>
<circle cx="517.44" cy="132.36" r="3.4" fill="#2b88c0" stroke="#2b88c0" stroke-width="0.3"/>
<circle cx="535.36" cy="128.79" r="3.4" fill="#2b88c0" stroke="#2b88c0" stroke-width="0.3"/>
<circle cx="553.28" cy="113.16" r="3.4" fill="#2b88c0" stroke="#2b88c0" stroke-width="0.3"/>
<circle cx="571.2" cy="57.36" r="3.4" fill="#2b88c0" stroke="#2b88c0" stroke-width="0.3"/>
<circle cx="589.12" cy="39.51" r="3.4" fill="#2b88c0" stroke="#2b88c0" stroke-width="0.3"/>
<circle cx="607.04" cy="28.35" r="3.4" fill="#2b88c0" stroke="#2b88c0" stroke-width="0.3"/>
<circle cx="624.96" cy="25" r="3.4" fill="#2b88c0" stroke="#2b88c0" stroke-width="0.3"/>
<path d="M499.52,129.68 L503.22,136.34 L495.82,136.34 Z" fill="#7a8c88" stroke="none" stroke-width="0.6"/>
<path d="M517.44,129.12 L521.14,135.78 L513.74,135.78 Z" fill="#7a8c88" stroke="none" stroke-width="0.6"/>
<path d="M535.36,128.01 L539.06,134.67 L531.66,134.67 Z" fill="#7a8c88" stroke="none" stroke-width="0.6"/>
<path d="M553.28,123.54 L556.98,130.2 L549.58,130.2 Z" fill="#7a8c88" stroke="none" stroke-width="0.6"/>
<path d="M571.2,103.79 L574.9,110.45 L567.5,110.45 Z" fill="#7a8c88" stroke="none" stroke-width="0.6"/>
<path d="M589.12,49.89 L592.82,56.55 L585.42,56.55 Z" fill="#7a8c88" stroke="none" stroke-width="0.6"/>
<path d="M607.04,24.22 L610.74,30.88 L603.34,30.88 Z" fill="#7a8c88" stroke="none" stroke-width="0.6"/>
<path d="M624.96,20.87 L628.66,27.53 L621.26,27.53 Z" fill="#7a8c88" stroke="none" stroke-width="0.6"/>
<line x1="494.6" y1="27.4" x2="516.8" y2="27.4" stroke="#b01e3c" stroke-width="1.0" />
<rect x="503.1" y="24.5" width="5.8" height="5.8" fill="#b01e3c" stroke="none" stroke-width="0.6"/>
<line x1="494.6" y1="43.5" x2="516.8" y2="43.5" stroke="#3d9bd0" stroke-width="1.0" />
<circle cx="505.9" cy="43.5" r="3.4" fill="#2b88c0" stroke="#2b88c0" stroke-width="0.3"/>
<line x1="494.6" y1="57.3" x2="516.8" y2="57.3" stroke="#7a8c88" stroke-width="1.0" />
<path d="M505.7,53.47 L509.4,60.13 L502,60.13 Z" fill="#7a8c88" stroke="none" stroke-width="0.6"/>
<text x="526.08" y="31.22" font-size="9.8" text-anchor="start" fill="#231f20" stroke="#231f20" stroke-width="0.15" textLength="24.07" lengthAdjust="spacingAndGlyphs" transform="rotate(0.2 526.08 31.22)" >PdC<tspan font-size="72%" dy="0.4em">60</tspan><tspan dy="-0.288em"></tspan></text>
<text x="525.75" y="47.06" font-size="9.8" text-anchor="start" fill="#231f20" stroke="#231f20" stroke-width="0.15" textLength="16.75" lengthAdjust="spacingAndGlyphs" transform="rotate(0.2 525.75 47.06)" >PdC</text>
<text x="525.75" y="60.87" font-size="9.8" text-anchor="start" fill="#231f20" stroke="#231f20" stroke-width="0.15" textLength="26.95" lengthAdjust="spacingAndGlyphs" transform="rotate(0.2 525.75 60.87)" >PdNPs</text>
<rect x="481.4" y="13.7" width="161.2" height="133.9" fill="none" stroke="#4a4a4a" stroke-width="1.15" />
<line x1="481.4" y1="136.6" x2="483.6" y2="136.6" stroke="#4a4a4a" stroke-width="0.9" />
<line x1="481.4" y1="80.8" x2="483.6" y2="80.8" stroke="#4a4a4a" stroke-width="0.9" />
<line x1="481.4" y1="25" x2="483.6" y2="25" stroke="#4a4a4a" stroke-width="0.9" />
<line x1="481.4" y1="108.7" x2="482.8" y2="108.7" stroke="#4a4a4a" stroke-width="0.9" />
<line x1="481.4" y1="52.9" x2="482.8" y2="52.9" stroke="#4a4a4a" stroke-width="0.9" />
<line x1="481.6" y1="147.6" x2="481.6" y2="149.1" stroke="#4a4a4a" stroke-width="0.9" />
<line x1="499.52" y1="147.6" x2="499.52" y2="148.6" stroke="#4a4a4a" stroke-width="0.9" />
<line x1="517.44" y1="147.6" x2="517.44" y2="149.1" stroke="#4a4a4a" stroke-width="0.9" />
<line x1="535.36" y1="147.6" x2="535.36" y2="148.6" stroke="#4a4a4a" stroke-width="0.9" />
<line x1="553.28" y1="147.6" x2="553.28" y2="149.1" stroke="#4a4a4a" stroke-width="0.9" />
<line x1="571.2" y1="147.6" x2="571.2" y2="148.6" stroke="#4a4a4a" stroke-width="0.9" />
<line x1="589.12" y1="147.6" x2="589.12" y2="149.1" stroke="#4a4a4a" stroke-width="0.9" />
<line x1="607.04" y1="147.6" x2="607.04" y2="148.6" stroke="#4a4a4a" stroke-width="0.9" />
<line x1="624.96" y1="147.6" x2="624.96" y2="149.1" stroke="#4a4a4a" stroke-width="0.9" />
<text x="465.07" y="28.09" font-size="9.35" text-anchor="start" fill="#231f20" stroke="#231f20" stroke-width="0.15" textLength="14.06" lengthAdjust="spacingAndGlyphs" transform="rotate(0.2 465.07 28.09)" >1.0</text>
<text x="464.7" y="84.12" font-size="9.35" text-anchor="start" fill="#231f20" stroke="#231f20" stroke-width="0.15" textLength="14.28" lengthAdjust="spacingAndGlyphs" transform="rotate(0.2 464.7 84.12)" >0.5</text>
<text x="464.21" y="139.91" font-size="9.35" text-anchor="start" fill="#231f20" stroke="#231f20" stroke-width="0.15" textLength="14.65" lengthAdjust="spacingAndGlyphs" transform="rotate(0.2 464.21 139.91)" >0.0</text>
<text x="474.67" y="160" font-size="9.15" text-anchor="start" fill="#231f20" stroke="#231f20" stroke-width="0.15" textLength="14.38" lengthAdjust="spacingAndGlyphs" transform="rotate(0.2 474.67 160)" >0.0</text>
<text x="508.99" y="160.01" font-size="9.15" text-anchor="start" fill="#231f20" stroke="#231f20" stroke-width="0.15" textLength="17.16" lengthAdjust="spacingAndGlyphs" transform="rotate(0.2 508.99 160.01)" >-0.2</text>
<text x="544.49" y="160.09" font-size="9.15" text-anchor="start" fill="#231f20" stroke="#231f20" stroke-width="0.15" textLength="17.79" lengthAdjust="spacingAndGlyphs" transform="rotate(0.2 544.49 160.09)" >-0.4</text>
<text x="579.93" y="160.09" font-size="9.15" text-anchor="start" fill="#231f20" stroke="#231f20" stroke-width="0.15" textLength="17.92" lengthAdjust="spacingAndGlyphs" transform="rotate(0.2 579.93 160.09)" >-0.6</text>
<text x="615.42" y="160.03" font-size="9.15" text-anchor="start" fill="#231f20" stroke="#231f20" stroke-width="0.15" textLength="18.48" lengthAdjust="spacingAndGlyphs" transform="rotate(0.2 615.42 160.03)" >-0.8</text>
<text x="534.42" y="175.78" font-size="8.75" text-anchor="start" fill="#231f20" stroke="#231f20" stroke-width="0.15" textLength="73.27" lengthAdjust="spacingAndGlyphs" transform="rotate(0.2 534.42 175.78)" ><tspan font-style="italic">V</tspan><tspan font-size="72%" dy="0.4em">Hold</tspan><tspan dy="-0.288em">  (V vs. RHE)</tspan></text>
<text x="457.23" y="152.28" font-size="8.32" text-anchor="start" fill="#231f20" stroke="#231f20" stroke-width="0.15" textLength="142.15" lengthAdjust="spacingAndGlyphs" transform="rotate(-89.8 457.23 152.28)" >Normalized CO<tspan font-size="72%" dy="0.4em">strip</tspan><tspan dy="-0.288em"> peak area (%)</tspan></text>
<text x="440.97" y="194.66" font-size="15.5" text-anchor="start" fill="#231815" font-weight="bold" textLength="5.5" lengthAdjust="spacingAndGlyphs" transform="rotate(0.2 440.97 194.66)" >f</text>
<path d="M499.52,311.2 C507.45,311.2 538.54,311.48 547.12,311.2 C555.7,310.92 549.42,312.5 551,309.5 C552.58,306.5 554.85,297.95 556.6,293.2 C558.35,288.45 559.9,285.42 561.5,281 C563.1,276.58 564.78,272.2 566.2,266.7 C567.62,261.2 568.87,253.78 570,248 C571.13,242.22 572,236.83 573,232 C574,227.17 575,222.92 576,219 C577,215.08 578,211.25 579,208.5 C580,205.75 580.97,203.98 582,202.5 C583.03,201.02 583.08,200.08 585.2,199.6 C587.32,199.12 591.53,198.62 594.7,199.6 C597.87,200.58 601.02,203.82 604.2,205.5 C607.38,207.18 610.62,208.33 613.8,209.7 C616.98,211.07 621.72,213.03 623.3,213.7" fill="none" stroke="#b01e3c" stroke-width="1.0" stroke-linejoin="round" stroke-linecap="round" />
<path d="M499.52,305.5 C501.11,304.58 505.87,303.63 509.04,300 C512.21,296.37 515.39,287.58 518.56,283.7 C521.73,279.82 524.91,282.53 528.08,276.7 C531.25,270.87 534.43,256.28 537.6,248.7 C540.77,241.12 543.95,234.87 547.12,231.2 C550.29,227.53 553.47,228.87 556.64,226.7 C559.81,224.53 562.99,221.62 566.16,218.2 C569.33,214.78 572.51,208.7 575.68,206.2 C578.85,203.7 582.03,203.73 585.2,203.2 C588.37,202.67 591.55,203.53 594.72,203 C597.89,202.47 601.07,200 604.24,200 C607.41,200 610.59,202.33 613.76,203 C616.93,203.67 621.69,203.83 623.28,204" fill="none" stroke="#1e5778" stroke-width="1.0" stroke-linejoin="round" stroke-linecap="round" />
<rect x="496.22" y="307.9" width="6.6" height="6.6" fill="#b01e3c" stroke="none" stroke-width="0.6"/>
<rect x="505.74" y="307.9" width="6.6" height="6.6" fill="#b01e3c" stroke="none" stroke-width="0.6"/>
<rect x="515.26" y="307.9" width="6.6" height="6.6" fill="#b01e3c" stroke="none" stroke-width="0.6"/>
<rect x="524.78" y="307.9" width="6.6" height="6.6" fill="#b01e3c" stroke="none" stroke-width="0.6"/>
<rect x="534.3" y="307.9" width="6.6" height="6.6" fill="#b01e3c" stroke="none" stroke-width="0.6"/>
<rect x="543.82" y="307.9" width="6.6" height="6.6" fill="#b01e3c" stroke="none" stroke-width="0.6"/>
<rect x="553.34" y="289.9" width="6.6" height="6.6" fill="#b01e3c" stroke="none" stroke-width="0.6"/>
<rect x="562.86" y="263.4" width="6.6" height="6.6" fill="#b01e3c" stroke="none" stroke-width="0.6"/>
<rect x="572.38" y="217.9" width="6.6" height="6.6" fill="#b01e3c" stroke="none" stroke-width="0.6"/>
<rect x="581.9" y="196.2" width="6.6" height="6.6" fill="#b01e3c" stroke="none" stroke-width="0.6"/>
<rect x="591.42" y="196.2" width="6.6" height="6.6" fill="#b01e3c" stroke="none" stroke-width="0.6"/>
<rect x="600.94" y="202.4" width="6.6" height="6.6" fill="#b01e3c" stroke="none" stroke-width="0.6"/>
<rect x="610.46" y="206.4" width="6.6" height="6.6" fill="#b01e3c" stroke="none" stroke-width="0.6"/>
<rect x="619.98" y="210.4" width="6.6" height="6.6" fill="#b01e3c" stroke="none" stroke-width="0.6"/>
<circle cx="499.52" cy="305.5" r="3.8" fill="#2e7eab" stroke="#1e5778" stroke-width="0.7"/>
<circle cx="509.04" cy="300" r="3.8" fill="#2e7eab" stroke="#1e5778" stroke-width="0.7"/>
<circle cx="518.56" cy="283.7" r="3.8" fill="#2e7eab" stroke="#1e5778" stroke-width="0.7"/>
<circle cx="528.08" cy="276.7" r="3.8" fill="#2e7eab" stroke="#1e5778" stroke-width="0.7"/>
<circle cx="537.6" cy="248.7" r="3.8" fill="#2e7eab" stroke="#1e5778" stroke-width="0.7"/>
<circle cx="547.12" cy="231.2" r="3.8" fill="#2e7eab" stroke="#1e5778" stroke-width="0.7"/>
<circle cx="556.64" cy="226.7" r="3.8" fill="#2e7eab" stroke="#1e5778" stroke-width="0.7"/>
<circle cx="566.16" cy="218.2" r="3.8" fill="#2e7eab" stroke="#1e5778" stroke-width="0.7"/>
<circle cx="575.68" cy="206.2" r="3.8" fill="#2e7eab" stroke="#1e5778" stroke-width="0.7"/>
<circle cx="585.2" cy="203.2" r="3.8" fill="#2e7eab" stroke="#1e5778" stroke-width="0.7"/>
<circle cx="594.72" cy="203" r="3.8" fill="#2e7eab" stroke="#1e5778" stroke-width="0.7"/>
<circle cx="604.24" cy="200" r="3.8" fill="#2e7eab" stroke="#1e5778" stroke-width="0.7"/>
<circle cx="613.76" cy="203" r="3.8" fill="#2e7eab" stroke="#1e5778" stroke-width="0.7"/>
<circle cx="623.28" cy="204" r="3.8" fill="#2e7eab" stroke="#1e5778" stroke-width="0.7"/>
<line x1="491.4" y1="200.5" x2="507.9" y2="200.5" stroke="#b01e3c" stroke-width="1.0" />
<rect x="496.6" y="197.1" width="6.8" height="6.8" fill="#b01e3c" stroke="none" stroke-width="0.6"/>
<line x1="491.4" y1="217.4" x2="507.9" y2="217.4" stroke="#1e5778" stroke-width="1.0" />
<circle cx="499.8" cy="217.4" r="3.9" fill="#2e7eab" stroke="#1e5778" stroke-width="0.7"/>
<text x="516.42" y="204.01" font-size="10" text-anchor="start" fill="#231f20" stroke="#231f20" stroke-width="0.15" textLength="24.8" lengthAdjust="spacingAndGlyphs" transform="rotate(0.2 516.42 204.01)" >PdC<tspan font-size="72%" dy="0.4em">60</tspan><tspan dy="-0.288em"></tspan></text>
<text x="516.36" y="221.11" font-size="10" text-anchor="start" fill="#231f20" stroke="#231f20" stroke-width="0.15" textLength="17.28" lengthAdjust="spacingAndGlyphs" transform="rotate(0.2 516.36 221.11)" >PdC</text>
<rect x="480.5" y="188.3" width="161.9" height="134.6" fill="none" stroke="#4a4a4a" stroke-width="1.15" />
<line x1="480.5" y1="311.3" x2="482.7" y2="311.3" stroke="#4a4a4a" stroke-width="0.9" />
<line x1="480.5" y1="255.7" x2="482.7" y2="255.7" stroke="#4a4a4a" stroke-width="0.9" />
<line x1="480.5" y1="200.1" x2="482.7" y2="200.1" stroke="#4a4a4a" stroke-width="0.9" />
<line x1="480.5" y1="283.5" x2="481.9" y2="283.5" stroke="#4a4a4a" stroke-width="0.9" />
<line x1="480.5" y1="227.9" x2="481.9" y2="227.9" stroke="#4a4a4a" stroke-width="0.9" />
<line x1="490" y1="322.9" x2="490" y2="324.4" stroke="#4a4a4a" stroke-width="0.9" />
<line x1="537.6" y1="322.9" x2="537.6" y2="324.4" stroke="#4a4a4a" stroke-width="0.9" />
<line x1="585.2" y1="322.9" x2="585.2" y2="324.4" stroke="#4a4a4a" stroke-width="0.9" />
<line x1="632.8" y1="322.9" x2="632.8" y2="324.4" stroke="#4a4a4a" stroke-width="0.9" />
<line x1="513.8" y1="322.9" x2="513.8" y2="323.9" stroke="#4a4a4a" stroke-width="0.9" />
<line x1="561.4" y1="322.9" x2="561.4" y2="323.9" stroke="#4a4a4a" stroke-width="0.9" />
<line x1="609" y1="322.9" x2="609" y2="323.9" stroke="#4a4a4a" stroke-width="0.9" />
<text x="463.65" y="203.91" font-size="9.25" text-anchor="start" fill="#231f20" stroke="#231f20" stroke-width="0.15" textLength="14.17" lengthAdjust="spacingAndGlyphs" transform="rotate(0.2 463.65 203.91)" >1.0</text>
<text x="463.21" y="258.9" font-size="9.25" text-anchor="start" fill="#231f20" stroke="#231f20" stroke-width="0.15" textLength="14.58" lengthAdjust="spacingAndGlyphs" transform="rotate(0.2 463.21 258.9)" >0.5</text>
<text x="463.23" y="314.24" font-size="9.25" text-anchor="start" fill="#231f20" stroke="#231f20" stroke-width="0.15" textLength="14.53" lengthAdjust="spacingAndGlyphs" transform="rotate(0.2 463.23 314.24)" >0.0</text>
<text x="483.17" y="335.95" font-size="9.32" text-anchor="start" fill="#231f20" stroke="#231f20" stroke-width="0.15" textLength="13.91" lengthAdjust="spacingAndGlyphs" transform="rotate(0.2 483.17 335.95)" >0.0</text>
<text x="528.88" y="336.03" font-size="9.32" text-anchor="start" fill="#231f20" stroke="#231f20" stroke-width="0.15" textLength="17.71" lengthAdjust="spacingAndGlyphs" transform="rotate(0.2 528.88 336.03)" >-0.5</text>
<text x="576.53" y="336" font-size="9.32" text-anchor="start" fill="#231f20" stroke="#231f20" stroke-width="0.15" textLength="17.14" lengthAdjust="spacingAndGlyphs" transform="rotate(0.2 576.53 336)" >-1.0</text>
<text x="623.58" y="336.06" font-size="9.32" text-anchor="start" fill="#231f20" stroke="#231f20" stroke-width="0.15" textLength="17.93" lengthAdjust="spacingAndGlyphs" transform="rotate(0.2 623.58 336.06)" >-1.5</text>
<text x="526.06" y="352.12" font-size="10.11" text-anchor="start" fill="#231f20" stroke="#231f20" stroke-width="0.15" textLength="70.58" lengthAdjust="spacingAndGlyphs" transform="rotate(0.2 526.06 352.12)" ><tspan font-style="italic">E</tspan>−<tspan font-style="italic">iR</tspan> (V vs. RHE)</text>
<rect x="515" y="352.6" width="95" height="4" fill="#fff" stroke="none" stroke-width="1" />
<text x="460.14" y="324.33" font-size="9.74" text-anchor="start" fill="#231f20" stroke="#231f20" stroke-width="0.15" textLength="135.36" lengthAdjust="spacingAndGlyphs" transform="rotate(-89.8 460.14 324.33)" >Normalized *CO peak area (%)</text>
<text x="445.3" y="367.19" font-size="15.5" text-anchor="start" fill="#231815" font-weight="bold" textLength="9.9" lengthAdjust="spacingAndGlyphs" transform="rotate(0.2 445.3 367.19)" >g</text>
<rect x="517.7" y="367" width="23.8" height="135.1" fill="#ebebeb" stroke="none" stroke-width="1" />
<path d="M504.7,381.6 C505.25,381.7 507,381.87 508,382.2 C509,382.53 509.83,382.72 510.7,383.6 C511.57,384.48 512.4,385.73 513.2,387.5 C514,389.27 514.7,391.37 515.5,394.2 C516.3,397.03 517.18,400.48 518,404.5 C518.82,408.52 519.6,413.97 520.4,418.3 C521.2,422.63 522,426.47 522.8,430.5 C523.6,434.53 524.5,438.67 525.2,442.5 C525.9,446.33 526.4,449.88 527,453.5 C527.6,457.12 528.2,461.28 528.8,464.2 C529.4,467.12 530,468.98 530.6,471 C531.2,473.02 531.78,474.8 532.4,476.3 C533.02,477.8 533.68,479 534.3,480 C534.92,481 535.2,481.72 536.1,482.3 C537,482.88 538.63,483.48 539.7,483.5 C540.77,483.52 541.5,483.2 542.5,482.4 C543.5,481.6 544.45,480.33 545.7,478.7 C546.95,477.07 548.47,474.7 550,472.6 C551.53,470.5 553.2,468.1 554.9,466.1 C556.6,464.1 558.13,462.02 560.2,460.6 C562.27,459.18 565,458.27 567.3,457.6 C569.6,456.93 571.98,456.9 574,456.6 C576.02,456.3 577.57,457.03 579.4,455.8 C581.23,454.57 582.92,451.23 585,449.2 C587.08,447.17 589.73,444.7 591.9,443.6 C594.07,442.5 595.92,442.82 598,442.6 C600.08,442.38 601.25,442.65 604.4,442.3 C607.55,441.95 614.82,440.8 616.9,440.5" fill="none" stroke="#7a7a7a" stroke-width="0.9" stroke-linejoin="round" stroke-linecap="round" />
<path d="M504.7,491.3 C506.78,491.3 513.03,491.38 517.2,491.3 C521.37,491.22 525.53,491.28 529.7,490.8 C533.87,490.32 538.03,489.42 542.2,488.4 C546.37,487.38 550.53,485.32 554.7,484.7 C558.87,484.08 563.03,484.6 567.2,484.7 C571.37,484.8 575.53,485.13 579.7,485.3 C583.87,485.47 588.03,485.63 592.2,485.7 C596.37,485.77 600.53,485.73 604.7,485.7 C608.87,485.67 615.12,485.53 617.2,485.5" fill="none" stroke="#74b27c" stroke-width="0.9" stroke-linejoin="round" stroke-linecap="round" />
<path d="M504.7,489.6 C505.58,489.57 508,489.6 510,489.4 C512,489.2 514.95,489.07 516.7,488.4 C518.45,487.73 519.28,486.62 520.5,485.4 C521.72,484.18 522.92,482.58 524,481.1 C525.08,479.62 526,478.12 527,476.5 C528,474.88 529,473.18 530,471.4 C531,469.62 531.98,467.8 533,465.8 C534.02,463.8 535.1,461.53 536.1,459.4 C537.1,457.27 538,455.22 539,453 C540,450.78 541.1,448.77 542.1,446.1 C543.1,443.43 544,440.42 545,437 C546,433.58 547.02,429.6 548.1,425.6 C549.18,421.6 550.37,417.03 551.5,413 C552.63,408.97 553.9,404.48 554.9,401.4 C555.9,398.32 556.62,396.52 557.5,394.5 C558.38,392.48 559.2,391.12 560.2,389.3 C561.2,387.48 562.28,385.28 563.5,383.6 C564.72,381.92 565.92,380.2 567.5,379.2 C569.08,378.2 571.02,377.7 573,377.6 C574.98,377.5 577.32,377.97 579.4,378.6 C581.48,379.23 583.42,380.45 585.5,381.4 C587.58,382.35 589.82,383.47 591.9,384.3 C593.98,385.13 595.92,385.75 598,386.4 C600.08,387.05 602.32,387.5 604.4,388.2 C606.48,388.9 608.42,389.8 610.5,390.6 C612.58,391.4 615.83,392.6 616.9,393" fill="none" stroke="#5f5596" stroke-width="0.9" stroke-linejoin="round" stroke-linecap="round" />
<circle cx="504.7" cy="488.8" r="3.6" fill="#8278b8" stroke="#5f5596" stroke-width="0.5"/>
<circle cx="517.2" cy="489.8" r="3.6" fill="#8278b8" stroke="#5f5596" stroke-width="0.5"/>
<circle cx="529.7" cy="471.4" r="3.6" fill="#8278b8" stroke="#5f5596" stroke-width="0.5"/>
<circle cx="542.2" cy="446.1" r="3.6" fill="#8278b8" stroke="#5f5596" stroke-width="0.5"/>
<circle cx="554.7" cy="401.4" r="3.6" fill="#8278b8" stroke="#5f5596" stroke-width="0.5"/>
<circle cx="567.2" cy="378.9" r="3.6" fill="#8278b8" stroke="#5f5596" stroke-width="0.5"/>
<circle cx="579.7" cy="378.7" r="3.6" fill="#8278b8" stroke="#5f5596" stroke-width="0.5"/>
<circle cx="592.2" cy="384.3" r="3.6" fill="#8278b8" stroke="#5f5596" stroke-width="0.5"/>
<circle cx="604.7" cy="388.2" r="3.6" fill="#8278b8" stroke="#5f5596" stroke-width="0.5"/>
<circle cx="617.2" cy="393" r="3.6" fill="#8278b8" stroke="#5f5596" stroke-width="0.5"/>
<circle cx="504.7" cy="491.3" r="3.6" fill="#74b27c" stroke="#579560" stroke-width="0.5"/>
<circle cx="517.2" cy="491.3" r="3.6" fill="#74b27c" stroke="#579560" stroke-width="0.5"/>
<circle cx="529.7" cy="490.8" r="3.6" fill="#74b27c" stroke="#579560" stroke-width="0.5"/>
<circle cx="542.2" cy="488.4" r="3.6" fill="#74b27c" stroke="#579560" stroke-width="0.5"/>
<circle cx="554.7" cy="484.7" r="3.6" fill="#74b27c" stroke="#579560" stroke-width="0.5"/>
<circle cx="567.2" cy="484.7" r="3.6" fill="#74b27c" stroke="#579560" stroke-width="0.5"/>
<circle cx="579.7" cy="485.3" r="3.6" fill="#74b27c" stroke="#579560" stroke-width="0.5"/>
<circle cx="592.2" cy="485.7" r="3.6" fill="#74b27c" stroke="#579560" stroke-width="0.5"/>
<circle cx="604.7" cy="485.7" r="3.6" fill="#74b27c" stroke="#579560" stroke-width="0.5"/>
<circle cx="617.2" cy="485.5" r="3.6" fill="#74b27c" stroke="#579560" stroke-width="0.5"/>
<circle cx="504.7" cy="381.6" r="3.6" fill="#727272" stroke="#505050" stroke-width="0.5"/>
<circle cx="517.2" cy="381.6" r="3.6" fill="#727272" stroke="#505050" stroke-width="0.5"/>
<circle cx="529.7" cy="482.3" r="3.6" fill="#727272" stroke="#505050" stroke-width="0.5"/>
<circle cx="542.2" cy="486" r="3.6" fill="#727272" stroke="#505050" stroke-width="0.5"/>
<circle cx="554.7" cy="466.1" r="3.6" fill="#727272" stroke="#505050" stroke-width="0.5"/>
<circle cx="567.2" cy="457.6" r="3.6" fill="#727272" stroke="#505050" stroke-width="0.5"/>
<circle cx="579.7" cy="456.2" r="3.6" fill="#727272" stroke="#505050" stroke-width="0.5"/>
<circle cx="592.2" cy="443.2" r="3.6" fill="#727272" stroke="#505050" stroke-width="0.5"/>
<circle cx="604.7" cy="442.5" r="3.6" fill="#727272" stroke="#505050" stroke-width="0.5"/>
<circle cx="617.2" cy="440.5" r="3.6" fill="#727272" stroke="#505050" stroke-width="0.5"/>
<line x1="567.3" y1="409.6" x2="582.5" y2="409.6" stroke="#5f5596" stroke-width="0.9" />
<circle cx="574.8" cy="409.6" r="3.7" fill="#8278b8" stroke="#5f5596" stroke-width="0.5"/>
<line x1="567.3" y1="424.5" x2="582.5" y2="424.5" stroke="#579560" stroke-width="0.9" />
<circle cx="574.8" cy="424.5" r="3.7" fill="#74b27c" stroke="#579560" stroke-width="0.5"/>
<text x="585.52" y="412.77" font-size="8.8" text-anchor="start" fill="#231f20" stroke="#231f20" stroke-width="0.15" textLength="47.85" lengthAdjust="spacingAndGlyphs" transform="rotate(0.2 585.52 412.77)" >Area (CO<tspan font-size="72%" dy="0.4em">B/H</tspan><tspan dy="-0.288em">)</tspan></text>
<text x="585.58" y="427.42" font-size="8.8" text-anchor="start" fill="#231f20" stroke="#231f20" stroke-width="0.15" textLength="40.55" lengthAdjust="spacingAndGlyphs" transform="rotate(0.2 585.58 427.42)" >Area (CO<tspan font-size="72%" dy="0.4em">A</tspan><tspan dy="-0.288em">)</tspan></text>
<line x1="479.8" y1="367" x2="642.2" y2="367" stroke="#4a4a4a" stroke-width="1.15" />
<line x1="479.8" y1="502.1" x2="642.2" y2="502.1" stroke="#4a4a4a" stroke-width="1.15" />
<line x1="479.8" y1="367" x2="479.8" y2="502.1" stroke="#4a4a4a" stroke-width="1.15" />
<line x1="642.2" y1="367" x2="642.2" y2="502.1" stroke="#5a5a5a" stroke-width="1.15" />
<line x1="479.8" y1="491" x2="482" y2="491" stroke="#4a4a4a" stroke-width="0.9" />
<line x1="479.8" y1="455.35" x2="482" y2="455.35" stroke="#4a4a4a" stroke-width="0.9" />
<line x1="479.8" y1="419.7" x2="482" y2="419.7" stroke="#4a4a4a" stroke-width="0.9" />
<line x1="479.8" y1="384.05" x2="482" y2="384.05" stroke="#4a4a4a" stroke-width="0.9" />
<line x1="479.8" y1="473.18" x2="481.2" y2="473.18" stroke="#4a4a4a" stroke-width="0.9" />
<line x1="479.8" y1="437.52" x2="481.2" y2="437.52" stroke="#4a4a4a" stroke-width="0.9" />
<line x1="479.8" y1="401.88" x2="481.2" y2="401.88" stroke="#4a4a4a" stroke-width="0.9" />
<line x1="504.7" y1="502.1" x2="504.7" y2="503.6" stroke="#4a4a4a" stroke-width="0.9" />
<line x1="567.2" y1="502.1" x2="567.2" y2="503.6" stroke="#4a4a4a" stroke-width="0.9" />
<line x1="629.7" y1="502.1" x2="629.7" y2="503.6" stroke="#4a4a4a" stroke-width="0.9" />
<line x1="535.95" y1="502.1" x2="535.95" y2="503.1" stroke="#4a4a4a" stroke-width="0.9" />
<line x1="598.45" y1="502.1" x2="598.45" y2="503.1" stroke="#4a4a4a" stroke-width="0.9" />
<line x1="642.2" y1="389.4" x2="640" y2="389.4" stroke="#4a4a4a" stroke-width="0.9" />
<line x1="642.2" y1="445.6" x2="640" y2="445.6" stroke="#4a4a4a" stroke-width="0.9" />
<line x1="642.2" y1="501.8" x2="640" y2="501.8" stroke="#4a4a4a" stroke-width="0.9" />
<line x1="642.2" y1="417.5" x2="640.8" y2="417.5" stroke="#4a4a4a" stroke-width="0.9" />
<line x1="642.2" y1="473.7" x2="640.8" y2="473.7" stroke="#4a4a4a" stroke-width="0.9" />
<text x="462.4" y="388.03" font-size="9.95" text-anchor="start" fill="#231f20" stroke="#231f20" stroke-width="0.15" textLength="14.81" lengthAdjust="spacingAndGlyphs" transform="rotate(0.2 462.4 388.03)" >1.5</text>
<text x="462.53" y="423.64" font-size="9.95" text-anchor="start" fill="#231f20" stroke="#231f20" stroke-width="0.15" textLength="15.08" lengthAdjust="spacingAndGlyphs" transform="rotate(0.2 462.53 423.64)" >1.0</text>
<text x="462.25" y="459.5" font-size="9.95" text-anchor="start" fill="#231f20" stroke="#231f20" stroke-width="0.15" textLength="15.26" lengthAdjust="spacingAndGlyphs" transform="rotate(0.2 462.25 459.5)" >0.5</text>
<text x="462.29" y="494.5" font-size="9.95" text-anchor="start" fill="#231f20" stroke="#231f20" stroke-width="0.15" textLength="14.93" lengthAdjust="spacingAndGlyphs" transform="rotate(0.2 462.29 494.5)" >0.0</text>
<text x="495.82" y="514.22" font-size="8.4" text-anchor="start" fill="#231f20" stroke="#231f20" stroke-width="0.15" textLength="17.86" lengthAdjust="spacingAndGlyphs" transform="rotate(0.2 495.82 514.22)" >-0.5</text>
<text x="557.75" y="514.11" font-size="8.4" text-anchor="start" fill="#231f20" stroke="#231f20" stroke-width="0.15" textLength="18.38" lengthAdjust="spacingAndGlyphs" transform="rotate(0.2 557.75 514.11)" >-1.0</text>
<text x="620.74" y="514.08" font-size="8.4" text-anchor="start" fill="#231f20" stroke="#231f20" stroke-width="0.15" textLength="18.05" lengthAdjust="spacingAndGlyphs" transform="rotate(0.2 620.74 514.08)" >-1.5</text>
<text x="644.88" y="392.62" font-size="9.7" text-anchor="start" fill="#858585" stroke="#858585" stroke-width="0.15" textLength="22.05" lengthAdjust="spacingAndGlyphs" transform="rotate(0.2 644.88 392.62)" >1800</text>
<text x="644.66" y="449" font-size="9.7" text-anchor="start" fill="#858585" stroke="#858585" stroke-width="0.15" textLength="23.05" lengthAdjust="spacingAndGlyphs" transform="rotate(0.2 644.66 449)" >1850</text>
<text x="644.86" y="504.95" font-size="9.7" text-anchor="start" fill="#858585" stroke="#858585" stroke-width="0.15" textLength="22.93" lengthAdjust="spacingAndGlyphs" transform="rotate(0.2 644.86 504.95)" >1900</text>
<text x="525.4" y="529.31" font-size="9.48" text-anchor="start" fill="#231f20" stroke="#231f20" stroke-width="0.15" textLength="71.72" lengthAdjust="spacingAndGlyphs" transform="rotate(0.2 525.4 529.31)" ><tspan font-style="italic">E</tspan>−<tspan font-style="italic">iR</tspan> (V vs. RHE)</text>
<text x="458.27" y="481.29" font-size="10.13" text-anchor="start" fill="#231f20" stroke="#231f20" stroke-width="0.15" textLength="93.03" lengthAdjust="spacingAndGlyphs" transform="rotate(-89.8 458.27 481.29)" >*CO peak area (a.u.)</text>
<text x="681.13" y="494.12" font-size="9.85" text-anchor="start" fill="#858585" stroke="#858585" stroke-width="0.15" textLength="119.75" lengthAdjust="spacingAndGlyphs" transform="rotate(-89.8 681.13 494.12)" >CO<tspan font-size="72%" dy="0.4em">B/H</tspan><tspan dy="-0.288em"> peak position (cm</tspan><tspan font-size="70%" dy="-0.75em">−1</tspan><tspan dy="0.525em">)</tspan></text>
<text x="1.39" y="194.97" font-size="15.5" text-anchor="start" fill="#231815" font-weight="bold" textLength="9.59" lengthAdjust="spacingAndGlyphs" transform="rotate(0.2 1.39 194.97)" >d</text>
<path d="M24.5,247.59 L25.25,247.59 L26,247.57 L26.75,247.55 L27.5,247.55 L28.25,247.56 L29,247.56 L29.75,247.52 L30.5,247.43 L31.25,247.32 L32,247.23 L32.75,247.18 L33.5,247.18 L34.25,247.19 L35,247.19 L35.75,247.13 L36.5,247.01 L37.25,246.89 L38,246.79 L38.75,246.75 L39.5,246.76 L40.25,246.8 L41,246.83 L41.75,246.84 L42.5,246.81 L43.25,246.77 L44,246.73 L44.75,246.71 L45.5,246.7 L46.25,246.67 L47,246.64 L47.75,246.6 L48.5,246.58 L49.25,246.6 L50,246.63 L50.75,246.67 L51.5,246.67 L52.25,246.64 L53,246.58 L53.75,246.52 L54.5,246.46 L55.25,246.42 L56,246.38 L56.75,246.35 L57.5,246.33 L58.25,246.34 L59,246.36 L59.75,246.35 L60.5,246.29 L61.25,246.22 L62,246.16 L62.75,246.16 L63.5,246.19 L64.25,246.24 L65,246.26 L65.75,246.24 L66.5,246.18 L67.25,246.12 L68,246.07 L68.75,246.05 L69.5,246.05 L70.25,246.05 L71,246.07 L71.75,246.08 L72.5,246.07 L73.25,246.04 L74,245.97 L74.75,245.89 L75.5,245.84 L76.25,245.86 L77,245.97 L77.75,246.15 L78.5,246.33 L79.25,246.46 L80,246.51 L80.75,246.47 L81.5,246.34 L82.25,246.14 L83,245.9 L83.75,245.67 L84.5,245.47 L85.25,245.35 L86,245.31 L86.75,245.33 L87.5,245.38 L88.25,245.41 L89,245.42 L89.75,245.39 L90.5,245.33 L91.25,245.26 L92,245.2 L92.75,245.15 L93.5,245.14 L94.25,245.14 L95,245.18 L95.75,245.22 L96.5,245.24 L97.25,245.23 L98,245.2 L98.75,245.17 L99.5,245.15 L100.25,245.14 L101,245.13 L101.75,245.13 L102.5,245.16 L103.25,245.23 L104,245.32 L104.75,245.39 L105.5,245.43 L106.25,245.43 L107,245.42 L107.75,245.44 L108.5,245.48 L109.25,245.53 L110,245.57 L110.75,245.64 L111.5,245.78 L112.25,245.98 L113,246.25 L113.75,246.57 L114.5,246.98 L115.25,247.52 L116,248.21 L116.75,249.05 L117.5,250.02 L118.25,251.12 L119,252.4 L119.75,253.88 L120.5,255.58 L121.25,257.46 L122,259.46 L122.75,261.53 L123.5,263.62 L124.25,265.72 L125,267.81 L125.75,269.84 L126.5,271.73 L127.25,273.38 L128,274.69 L128.75,275.61 L129.5,276.11 L130.25,276.2 L131,275.95 L131.75,275.48 L132.5,274.86 L133.25,274.12 L134,273.3 L134.75,272.4 L135.5,271.47 L136.25,270.54 L137,269.64 L137.75,268.81 L138.5,268.05 L139.25,267.37 L140,266.69 L140.75,265.94 L141.5,265.06 L142.25,264.06 L143,263.05 L143.75,262.12 L144.5,261.34 L145.25,260.69 L146,260.12 L146.75,259.56 L147.5,258.99 L148.25,258.43 L149,257.95 L149.75,257.59 L150.5,257.36 L151.25,257.2 L152,257.02 L152.75,256.76 L153.5,256.38 L154.25,255.9 L155,255.37 L155.75,254.87 L156.5,254.45 L157.25,254.12 L158,253.83 L158.75,253.54 L159.5,253.24 L160.25,252.94 L161,252.72 L161.75,252.58 L162.5,252.48 L163.25,252.34 L164,252.12 L164.75,251.86 L165.5,251.62 L166.25,251.45 L167,251.31 L167.75,251.18 L168.5,251.05 L169.25,250.97 L170,250.97 L170.75,251.1 L171.5,251.35 L172.25,251.66 L173,251.99 L173.75,252.24 L174.5,252.35 L175.25,252.27 L176,251.98 L176.75,251.57 L177.5,251.17 L178.25,250.91 L179,250.82 L179.75,250.84 L180.5,250.87 L181.25,250.87 L182,250.86 L182.75,250.9 L183.5,251.03 L184.25,251.26 L185,251.53 L185.75,251.78 L186.5,251.94 L187.25,252.02 L188,252.08 L188.75,252.21 L189.5,252.46" fill="none" stroke="#363262" stroke-width="1.15" stroke-linejoin="round" stroke-linecap="round" />
<path d="M24.5,265.52 L25.25,265.31 L26,265.12 L26.75,265.02 L27.5,265.01 L28.25,265.06 L29,265.13 L29.75,265.18 L30.5,265.19 L31.25,265.16 L32,265.09 L32.75,264.99 L33.5,264.9 L34.25,264.85 L35,264.88 L35.75,264.97 L36.5,265.08 L37.25,265.15 L38,265.15 L38.75,265.07 L39.5,264.95 L40.25,264.83 L41,264.77 L41.75,264.77 L42.5,264.8 L43.25,264.85 L44,264.88 L44.75,264.87 L45.5,264.81 L46.25,264.71 L47,264.61 L47.75,264.54 L48.5,264.53 L49.25,264.55 L50,264.59 L50.75,264.61 L51.5,264.62 L52.25,264.62 L53,264.62 L53.75,264.64 L54.5,264.65 L55.25,264.66 L56,264.64 L56.75,264.61 L57.5,264.58 L58.25,264.53 L59,264.45 L59.75,264.33 L60.5,264.19 L61.25,264.06 L62,263.98 L62.75,263.95 L63.5,263.96 L64.25,264 L65,264.02 L65.75,264.03 L66.5,264.01 L67.25,263.98 L68,263.92 L68.75,263.85 L69.5,263.78 L70.25,263.76 L71,263.79 L71.75,263.84 L72.5,263.9 L73.25,263.96 L74,264.02 L74.75,264.08 L75.5,264.13 L76.25,264.19 L77,264.24 L77.75,264.27 L78.5,264.27 L79.25,264.22 L80,264.12 L80.75,264.01 L81.5,263.9 L82.25,263.8 L83,263.72 L83.75,263.61 L84.5,263.48 L85.25,263.32 L86,263.18 L86.75,263.09 L87.5,263.06 L88.25,263.08 L89,263.11 L89.75,263.16 L90.5,263.21 L91.25,263.26 L92,263.3 L92.75,263.33 L93.5,263.36 L94.25,263.4 L95,263.44 L95.75,263.45 L96.5,263.43 L97.25,263.38 L98,263.3 L98.75,263.22 L99.5,263.15 L100.25,263.1 L101,263.09 L101.75,263.1 L102.5,263.17 L103.25,263.3 L104,263.47 L104.75,263.64 L105.5,263.75 L106.25,263.79 L107,263.77 L107.75,263.73 L108.5,263.71 L109.25,263.72 L110,263.78 L110.75,263.9 L111.5,264.13 L112.25,264.48 L113,264.97 L113.75,265.58 L114.5,266.28 L115.25,267.09 L116,268.01 L116.75,269.08 L117.5,270.33 L118.25,271.78 L119,273.45 L119.75,275.3 L120.5,277.29 L121.25,279.38 L122,281.53 L122.75,283.71 L123.5,285.85 L124.25,287.84 L125,289.58 L125.75,291.05 L126.5,292.25 L127.25,293.16 L128,293.73 L128.75,293.88 L129.5,293.59 L130.25,292.93 L131,292.03 L131.75,291.04 L132.5,290.09 L133.25,289.28 L134,288.63 L134.75,288.08 L135.5,287.55 L136.25,287.01 L137,286.43 L137.75,285.76 L138.5,284.96 L139.25,283.99 L140,282.92 L140.75,281.85 L141.5,280.87 L142.25,279.97 L143,279.08 L143.75,278.19 L144.5,277.35 L145.25,276.65 L146,276.15 L146.75,275.83 L147.5,275.61 L148.25,275.41 L149,275.12 L149.75,274.68 L150.5,274.06 L151.25,273.37 L152,272.73 L152.75,272.24 L153.5,271.92 L154.25,271.69 L155,271.48 L155.75,271.21 L156.5,270.85 L157.25,270.47 L158,270.18 L158.75,270.12 L159.5,270.28 L160.25,270.53 L161,270.68 L161.75,270.61 L162.5,270.36 L163.25,270.06 L164,269.78 L164.75,269.55 L165.5,269.34 L166.25,269.16 L167,269.07 L167.75,269.11 L168.5,269.22 L169.25,269.34 L170,269.42 L170.75,269.44 L171.5,269.39 L172.25,269.28 L173,269.14 L173.75,269.02 L174.5,268.91 L175.25,268.8 L176,268.7 L176.75,268.63 L177.5,268.65 L178.25,268.78 L179,268.96 L179.75,269.07 L180.5,269.01 L181.25,268.83 L182,268.68 L182.75,268.7 L183.5,268.9 L184.25,269.15 L185,269.3 L185.75,269.33 L186.5,269.36 L187.25,269.48 L188,269.75 L188.75,270.15 L189.5,270.62" fill="none" stroke="#4b4994" stroke-width="1.15" stroke-linejoin="round" stroke-linecap="round" />
<path d="M24.5,280.62 L25.25,280.6 L26,280.55 L26.75,280.48 L27.5,280.42 L28.25,280.37 L29,280.36 L29.75,280.38 L30.5,280.43 L31.25,280.49 L32,280.56 L32.75,280.63 L33.5,280.66 L34.25,280.62 L35,280.53 L35.75,280.41 L36.5,280.33 L37.25,280.28 L38,280.26 L38.75,280.25 L39.5,280.23 L40.25,280.22 L41,280.25 L41.75,280.29 L42.5,280.32 L43.25,280.31 L44,280.28 L44.75,280.22 L45.5,280.16 L46.25,280.1 L47,280.04 L47.75,279.97 L48.5,279.91 L49.25,279.87 L50,279.85 L50.75,279.84 L51.5,279.84 L52.25,279.83 L53,279.81 L53.75,279.77 L54.5,279.68 L55.25,279.55 L56,279.4 L56.75,279.28 L57.5,279.21 L58.25,279.22 L59,279.28 L59.75,279.36 L60.5,279.44 L61.25,279.5 L62,279.52 L62.75,279.5 L63.5,279.43 L64.25,279.34 L65,279.24 L65.75,279.17 L66.5,279.12 L67.25,279.11 L68,279.13 L68.75,279.16 L69.5,279.18 L70.25,279.19 L71,279.2 L71.75,279.25 L72.5,279.32 L73.25,279.41 L74,279.49 L74.75,279.54 L75.5,279.57 L76.25,279.61 L77,279.67 L77.75,279.72 L78.5,279.75 L79.25,279.71 L80,279.6 L80.75,279.46 L81.5,279.32 L82.25,279.19 L83,279.11 L83.75,279.06 L84.5,279.04 L85.25,279.03 L86,279.02 L86.75,278.99 L87.5,278.93 L88.25,278.85 L89,278.75 L89.75,278.63 L90.5,278.53 L91.25,278.46 L92,278.42 L92.75,278.41 L93.5,278.41 L94.25,278.42 L95,278.47 L95.75,278.53 L96.5,278.58 L97.25,278.61 L98,278.62 L98.75,278.63 L99.5,278.65 L100.25,278.69 L101,278.75 L101.75,278.82 L102.5,278.9 L103.25,278.97 L104,279.02 L104.75,279.06 L105.5,279.11 L106.25,279.18 L107,279.27 L107.75,279.38 L108.5,279.48 L109.25,279.59 L110,279.76 L110.75,280.05 L111.5,280.48 L112.25,281.06 L113,281.76 L113.75,282.56 L114.5,283.5 L115.25,284.63 L116,286.03 L116.75,287.73 L117.5,289.72 L118.25,291.96 L119,294.38 L119.75,296.88 L120.5,299.35 L121.25,301.69 L122,303.87 L122.75,305.85 L123.5,307.6 L124.25,309.1 L125,310.32 L125.75,311.21 L126.5,311.72 L127.25,311.81 L128,311.48 L128.75,310.86 L129.5,310.04 L130.25,309.14 L131,308.26 L131.75,307.39 L132.5,306.5 L133.25,305.57 L134,304.58 L134.75,303.57 L135.5,302.56 L136.25,301.52 L137,300.47 L137.75,299.4 L138.5,298.37 L139.25,297.44 L140,296.66 L140.75,296.05 L141.5,295.56 L142.25,295.12 L143,294.67 L143.75,294.15 L144.5,293.55 L145.25,292.88 L146,292.19 L146.75,291.55 L147.5,291.04 L148.25,290.65 L149,290.32 L149.75,289.96 L150.5,289.53 L151.25,289.03 L152,288.47 L152.75,287.85 L153.5,287.2 L154.25,286.52 L155,285.87 L155.75,285.36 L156.5,285.07 L157.25,284.98 L158,285 L158.75,285.01 L159.5,284.94 L160.25,284.81 L161,284.65 L161.75,284.48 L162.5,284.31 L163.25,284.14 L164,283.98 L164.75,283.86 L165.5,283.81 L166.25,283.85 L167,283.99 L167.75,284.15 L168.5,284.24 L169.25,284.21 L170,284.08 L170.75,283.95 L171.5,283.85 L172.25,283.78 L173,283.76 L173.75,283.8 L174.5,283.87 L175.25,283.92 L176,283.91 L176.75,283.87 L177.5,283.86 L178.25,283.92 L179,284.01 L179.75,284.06 L180.5,284.02 L181.25,283.94 L182,283.92 L182.75,284.02 L183.5,284.18 L184.25,284.34 L185,284.45 L185.75,284.55 L186.5,284.7 L187.25,284.93 L188,285.21 L188.75,285.45 L189.5,285.6" fill="none" stroke="#5654a6" stroke-width="1.15" stroke-linejoin="round" stroke-linecap="round" />
<path d="M24.5,295.55 L25.25,295.49 L26,295.43 L26.75,295.36 L27.5,295.28 L28.25,295.19 L29,295.12 L29.75,295.07 L30.5,295.03 L31.25,294.99 L32,294.96 L32.75,294.92 L33.5,294.9 L34.25,294.9 L35,294.91 L35.75,294.95 L36.5,294.99 L37.25,295.05 L38,295.12 L38.75,295.2 L39.5,295.26 L40.25,295.28 L41,295.24 L41.75,295.17 L42.5,295.09 L43.25,295.03 L44,294.96 L44.75,294.86 L45.5,294.73 L46.25,294.59 L47,294.47 L47.75,294.41 L48.5,294.41 L49.25,294.46 L50,294.52 L50.75,294.57 L51.5,294.6 L52.25,294.61 L53,294.6 L53.75,294.58 L54.5,294.56 L55.25,294.54 L56,294.56 L56.75,294.62 L57.5,294.71 L58.25,294.79 L59,294.82 L59.75,294.81 L60.5,294.75 L61.25,294.69 L62,294.62 L62.75,294.57 L63.5,294.52 L64.25,294.48 L65,294.44 L65.75,294.38 L66.5,294.29 L67.25,294.2 L68,294.13 L68.75,294.1 L69.5,294.11 L70.25,294.16 L71,294.22 L71.75,294.3 L72.5,294.36 L73.25,294.41 L74,294.45 L74.75,294.48 L75.5,294.53 L76.25,294.57 L77,294.58 L77.75,294.53 L78.5,294.45 L79.25,294.36 L80,294.31 L80.75,294.29 L81.5,294.3 L82.25,294.28 L83,294.22 L83.75,294.11 L84.5,293.97 L85.25,293.86 L86,293.79 L86.75,293.75 L87.5,293.72 L88.25,293.69 L89,293.68 L89.75,293.71 L90.5,293.78 L91.25,293.85 L92,293.85 L92.75,293.8 L93.5,293.72 L94.25,293.66 L95,293.63 L95.75,293.61 L96.5,293.59 L97.25,293.54 L98,293.48 L98.75,293.43 L99.5,293.41 L100.25,293.43 L101,293.5 L101.75,293.59 L102.5,293.69 L103.25,293.76 L104,293.81 L104.75,293.85 L105.5,293.91 L106.25,294.03 L107,294.21 L107.75,294.44 L108.5,294.71 L109.25,295.04 L110,295.47 L110.75,296.06 L111.5,296.82 L112.25,297.79 L113,298.97 L113.75,300.35 L114.5,301.87 L115.25,303.49 L116,305.22 L116.75,307.09 L117.5,309.12 L118.25,311.33 L119,313.67 L119.75,316.07 L120.5,318.42 L121.25,320.61 L122,322.54 L122.75,324.1 L123.5,325.25 L124.25,325.94 L125,326.17 L125.75,326 L126.5,325.55 L127.25,324.93 L128,324.2 L128.75,323.37 L129.5,322.46 L130.25,321.46 L131,320.43 L131.75,319.37 L132.5,318.3 L133.25,317.23 L134,316.17 L134.75,315.13 L135.5,314.1 L136.25,313.05 L137,312.02 L137.75,311.08 L138.5,310.29 L139.25,309.69 L140,309.25 L140.75,308.9 L141.5,308.5 L142.25,307.94 L143,307.18 L143.75,306.31 L144.5,305.48 L145.25,304.83 L146,304.36 L146.75,303.95 L147.5,303.42 L148.25,302.7 L149,301.88 L149.75,301.08 L150.5,300.38 L151.25,299.83 L152,299.41 L152.75,299.14 L153.5,299.02 L154.25,298.98 L155,298.96 L155.75,298.92 L156.5,298.85 L157.25,298.77 L158,298.67 L158.75,298.55 L159.5,298.43 L160.25,298.33 L161,298.26 L161.75,298.23 L162.5,298.22 L163.25,298.22 L164,298.22 L164.75,298.2 L165.5,298.12 L166.25,297.94 L167,297.68 L167.75,297.42 L168.5,297.27 L169.25,297.3 L170,297.46 L170.75,297.66 L171.5,297.8 L172.25,297.86 L173,297.88 L173.75,297.93 L174.5,298.05 L175.25,298.21 L176,298.39 L176.75,298.56 L177.5,298.73 L178.25,298.9 L179,299 L179.75,298.98 L180.5,298.83 L181.25,298.57 L182,298.29 L182.75,298.09 L183.5,297.99 L184.25,298 L185,298.11 L185.75,298.28 L186.5,298.48 L187.25,298.68 L188,298.87 L188.75,299.1 L189.5,299.37" fill="none" stroke="#4b8dc6" stroke-width="1.15" stroke-linejoin="round" stroke-linecap="round" />
<path d="M24.5,312.56 L25.25,312.49 L26,312.4 L26.75,312.32 L27.5,312.28 L28.25,312.31 L29,312.39 L29.75,312.51 L30.5,312.62 L31.25,312.7 L32,312.73 L32.75,312.72 L33.5,312.68 L34.25,312.61 L35,312.52 L35.75,312.44 L36.5,312.35 L37.25,312.28 L38,312.21 L38.75,312.15 L39.5,312.1 L40.25,312.06 L41,312.01 L41.75,311.97 L42.5,311.93 L43.25,311.89 L44,311.87 L44.75,311.85 L45.5,311.85 L46.25,311.85 L47,311.87 L47.75,311.89 L48.5,311.88 L49.25,311.84 L50,311.81 L50.75,311.81 L51.5,311.83 L52.25,311.86 L53,311.86 L53.75,311.83 L54.5,311.78 L55.25,311.73 L56,311.7 L56.75,311.69 L57.5,311.72 L58.25,311.77 L59,311.83 L59.75,311.87 L60.5,311.86 L61.25,311.81 L62,311.72 L62.75,311.61 L63.5,311.5 L64.25,311.41 L65,311.36 L65.75,311.35 L66.5,311.38 L67.25,311.43 L68,311.48 L68.75,311.53 L69.5,311.58 L70.25,311.62 L71,311.67 L71.75,311.71 L72.5,311.75 L73.25,311.77 L74,311.77 L74.75,311.75 L75.5,311.71 L76.25,311.66 L77,311.59 L77.75,311.49 L78.5,311.35 L79.25,311.2 L80,311.07 L80.75,310.99 L81.5,310.95 L82.25,310.94 L83,310.92 L83.75,310.88 L84.5,310.84 L85.25,310.8 L86,310.81 L86.75,310.86 L87.5,310.95 L88.25,311.04 L89,311.09 L89.75,311.09 L90.5,311.08 L91.25,311.08 L92,311.08 L92.75,311.07 L93.5,311.06 L94.25,311.04 L95,311.04 L95.75,311.05 L96.5,311.05 L97.25,311.02 L98,310.93 L98.75,310.83 L99.5,310.76 L100.25,310.75 L101,310.77 L101.75,310.81 L102.5,310.88 L103.25,311.01 L104,311.2 L104.75,311.46 L105.5,311.76 L106.25,312.08 L107,312.42 L107.75,312.81 L108.5,313.32 L109.25,314.02 L110,314.97 L110.75,316.18 L111.5,317.62 L112.25,319.22 L113,320.95 L113.75,322.81 L114.5,324.79 L115.25,326.89 L116,329.1 L116.75,331.42 L117.5,333.78 L118.25,336.11 L119,338.3 L119.75,340.22 L120.5,341.78 L121.25,342.92 L122,343.63 L122.75,343.88 L123.5,343.7 L124.25,343.19 L125,342.43 L125.75,341.48 L126.5,340.44 L127.25,339.39 L128,338.37 L128.75,337.35 L129.5,336.28 L130.25,335.16 L131,334.03 L131.75,332.92 L132.5,331.86 L133.25,330.83 L134,329.85 L134.75,328.97 L135.5,328.23 L136.25,327.61 L137,327.05 L137.75,326.48 L138.5,325.85 L139.25,325.17 L140,324.47 L140.75,323.79 L141.5,323.15 L142.25,322.52 L143,321.84 L143.75,321.06 L144.5,320.22 L145.25,319.43 L146,318.78 L146.75,318.31 L147.5,317.98 L148.25,317.71 L149,317.45 L149.75,317.2 L150.5,317 L151.25,316.87 L152,316.82 L152.75,316.83 L153.5,316.89 L154.25,316.95 L155,316.95 L155.75,316.86 L156.5,316.65 L157.25,316.32 L158,315.91 L158.75,315.46 L159.5,315.05 L160.25,314.75 L161,314.6 L161.75,314.58 L162.5,314.63 L163.25,314.66 L164,314.66 L164.75,314.64 L165.5,314.67 L166.25,314.77 L167,314.94 L167.75,315.08 L168.5,315.13 L169.25,315.02 L170,314.78 L170.75,314.51 L171.5,314.35 L172.25,314.38 L173,314.55 L173.75,314.74 L174.5,314.82 L175.25,314.77 L176,314.67 L176.75,314.64 L177.5,314.72 L178.25,314.86 L179,314.97 L179.75,314.98 L180.5,314.9 L181.25,314.78 L182,314.67 L182.75,314.59 L183.5,314.56 L184.25,314.59 L185,314.73 L185.75,314.99 L186.5,315.31 L187.25,315.59 L188,315.76 L188.75,315.84 L189.5,315.91" fill="none" stroke="#44a0ab" stroke-width="1.15" stroke-linejoin="round" stroke-linecap="round" />
<path d="M24.5,331.75 L25.25,331.75 L26,331.79 L26.75,331.86 L27.5,331.96 L28.25,332.08 L29,332.16 L29.75,332.18 L30.5,332.14 L31.25,332.07 L32,331.98 L32.75,331.89 L33.5,331.81 L34.25,331.73 L35,331.65 L35.75,331.59 L36.5,331.53 L37.25,331.49 L38,331.46 L38.75,331.45 L39.5,331.45 L40.25,331.48 L41,331.51 L41.75,331.53 L42.5,331.54 L43.25,331.51 L44,331.47 L44.75,331.41 L45.5,331.36 L46.25,331.33 L47,331.34 L47.75,331.35 L48.5,331.34 L49.25,331.28 L50,331.17 L50.75,331.06 L51.5,330.98 L52.25,330.92 L53,330.88 L53.75,330.83 L54.5,330.75 L55.25,330.66 L56,330.58 L56.75,330.55 L57.5,330.58 L58.25,330.68 L59,330.81 L59.75,330.92 L60.5,330.97 L61.25,330.93 L62,330.83 L62.75,330.73 L63.5,330.69 L64.25,330.73 L65,330.85 L65.75,330.97 L66.5,331.05 L67.25,331.1 L68,331.17 L68.75,331.28 L69.5,331.41 L70.25,331.51 L71,331.53 L71.75,331.46 L72.5,331.33 L73.25,331.16 L74,330.99 L74.75,330.83 L75.5,330.7 L76.25,330.62 L77,330.56 L77.75,330.52 L78.5,330.45 L79.25,330.35 L80,330.26 L80.75,330.18 L81.5,330.16 L82.25,330.19 L83,330.25 L83.75,330.3 L84.5,330.3 L85.25,330.25 L86,330.17 L86.75,330.09 L87.5,330.03 L88.25,330.01 L89,330.04 L89.75,330.1 L90.5,330.18 L91.25,330.26 L92,330.33 L92.75,330.39 L93.5,330.43 L94.25,330.46 L95,330.48 L95.75,330.48 L96.5,330.47 L97.25,330.46 L98,330.44 L98.75,330.43 L99.5,330.41 L100.25,330.44 L101,330.54 L101.75,330.71 L102.5,330.94 L103.25,331.23 L104,331.61 L104.75,332.12 L105.5,332.79 L106.25,333.59 L107,334.54 L107.75,335.63 L108.5,336.93 L109.25,338.45 L110,340.22 L110.75,342.18 L111.5,344.29 L112.25,346.48 L113,348.71 L113.75,350.93 L114.5,353.1 L115.25,355.12 L116,356.9 L116.75,358.34 L117.5,359.37 L118.25,359.97 L119,360.13 L119.75,359.92 L120.5,359.41 L121.25,358.69 L122,357.8 L122.75,356.78 L123.5,355.74 L124.25,354.79 L125,353.94 L125.75,353.14 L126.5,352.31 L127.25,351.42 L128,350.47 L128.75,349.51 L129.5,348.56 L130.25,347.61 L131,346.65 L131.75,345.71 L132.5,344.86 L133.25,344.12 L134,343.48 L134.75,342.86 L135.5,342.19 L136.25,341.42 L137,340.58 L137.75,339.71 L138.5,338.89 L139.25,338.19 L140,337.64 L140.75,337.25 L141.5,337.01 L142.25,336.85 L143,336.7 L143.75,336.49 L144.5,336.25 L145.25,336.03 L146,335.89 L146.75,335.82 L147.5,335.76 L148.25,335.66 L149,335.5 L149.75,335.29 L150.5,335.08 L151.25,334.87 L152,334.63 L152.75,334.37 L153.5,334.08 L154.25,333.84 L155,333.7 L155.75,333.67 L156.5,333.68 L157.25,333.66 L158,333.64 L158.75,333.66 L159.5,333.74 L160.25,333.8 L161,333.78 L161.75,333.63 L162.5,333.4 L163.25,333.18 L164,333.01 L164.75,332.91 L165.5,332.9 L166.25,332.95 L167,333.07 L167.75,333.25 L168.5,333.48 L169.25,333.72 L170,333.95 L170.75,334.08 L171.5,334.07 L172.25,333.93 L173,333.77 L173.75,333.71 L174.5,333.79 L175.25,333.97 L176,334.19 L176.75,334.38 L177.5,334.5 L178.25,334.51 L179,334.43 L179.75,334.34 L180.5,334.33 L181.25,334.44 L182,334.6 L182.75,334.76 L183.5,334.84 L184.25,334.88 L185,334.89 L185.75,334.92 L186.5,334.96 L187.25,335.01 L188,335.08 L188.75,335.19 L189.5,335.32" fill="none" stroke="#46a4a0" stroke-width="1.15" stroke-linejoin="round" stroke-linecap="round" />
<path d="M24.5,352.36 L25.25,352.37 L26,352.41 L26.75,352.47 L27.5,352.53 L28.25,352.56 L29,352.57 L29.75,352.57 L30.5,352.54 L31.25,352.51 L32,352.46 L32.75,352.42 L33.5,352.39 L34.25,352.37 L35,352.36 L35.75,352.38 L36.5,352.41 L37.25,352.44 L38,352.48 L38.75,352.49 L39.5,352.48 L40.25,352.43 L41,352.34 L41.75,352.25 L42.5,352.16 L43.25,352.09 L44,352.04 L44.75,351.98 L45.5,351.93 L46.25,351.9 L47,351.89 L47.75,351.9 L48.5,351.92 L49.25,351.93 L50,351.93 L50.75,351.92 L51.5,351.91 L52.25,351.91 L53,351.92 L53.75,351.94 L54.5,351.95 L55.25,351.93 L56,351.89 L56.75,351.84 L57.5,351.79 L58.25,351.76 L59,351.74 L59.75,351.73 L60.5,351.73 L61.25,351.76 L62,351.8 L62.75,351.85 L63.5,351.9 L64.25,351.94 L65,351.97 L65.75,352.02 L66.5,352.06 L67.25,352.09 L68,352.11 L68.75,352.11 L69.5,352.1 L70.25,352.11 L71,352.11 L71.75,352.06 L72.5,351.96 L73.25,351.81 L74,351.66 L74.75,351.55 L75.5,351.5 L76.25,351.49 L77,351.49 L77.75,351.5 L78.5,351.49 L79.25,351.47 L80,351.44 L80.75,351.4 L81.5,351.37 L82.25,351.34 L83,351.33 L83.75,351.33 L84.5,351.32 L85.25,351.3 L86,351.27 L86.75,351.23 L87.5,351.2 L88.25,351.17 L89,351.14 L89.75,351.11 L90.5,351.08 L91.25,351.08 L92,351.11 L92.75,351.15 L93.5,351.21 L94.25,351.24 L95,351.27 L95.75,351.31 L96.5,351.38 L97.25,351.49 L98,351.63 L98.75,351.79 L99.5,351.96 L100.25,352.18 L101,352.49 L101.75,352.94 L102.5,353.52 L103.25,354.26 L104,355.15 L104.75,356.19 L105.5,357.39 L106.25,358.72 L107,360.16 L107.75,361.66 L108.5,363.19 L109.25,364.69 L110,366.11 L110.75,367.39 L111.5,368.46 L112.25,369.27 L113,369.72 L113.75,369.79 L114.5,369.52 L115.25,369.03 L116,368.44 L116.75,367.79 L117.5,367.09 L118.25,366.3 L119,365.42 L119.75,364.49 L120.5,363.56 L121.25,362.69 L122,361.89 L122.75,361.17 L123.5,360.51 L124.25,359.89 L125,359.33 L125.75,358.84 L126.5,358.42 L127.25,358.05 L128,357.69 L128.75,357.33 L129.5,356.96 L130.25,356.61 L131,356.32 L131.75,356.1 L132.5,355.93 L133.25,355.8 L134,355.64 L134.75,355.43 L135.5,355.18 L136.25,354.88 L137,354.55 L137.75,354.23 L138.5,353.97 L139.25,353.79 L140,353.72 L140.75,353.75 L141.5,353.83 L142.25,353.96 L143,354.11 L143.75,354.24 L144.5,354.26 L145.25,354.11 L146,353.77 L146.75,353.37 L147.5,353.03 L148.25,352.88 L149,352.91 L149.75,353.02 L150.5,353.07 L151.25,352.99 L152,352.84 L152.75,352.72 L153.5,352.72 L154.25,352.81 L155,352.95 L155.75,353.08 L156.5,353.21 L157.25,353.41 L158,353.68 L158.75,353.97 L159.5,354.17 L160.25,354.22 L161,354.15 L161.75,354.05 L162.5,354.03 L163.25,354.12 L164,354.28 L164.75,354.4 L165.5,354.43 L166.25,354.35 L167,354.2 L167.75,354.05 L168.5,353.92 L169.25,353.81 L170,353.71 L170.75,353.64 L171.5,353.6 L172.25,353.57 L173,353.56 L173.75,353.56 L174.5,353.59 L175.25,353.66 L176,353.77 L176.75,353.89 L177.5,354.02 L178.25,354.14 L179,354.27 L179.75,354.41 L180.5,354.56 L181.25,354.73 L182,354.91 L182.75,355.11 L183.5,355.32 L184.25,355.54 L185,355.77 L185.75,356 L186.5,356.19 L187.25,356.32 L188,356.42 L188.75,356.53 L189.5,356.67" fill="none" stroke="#70bbab" stroke-width="1.15" stroke-linejoin="round" stroke-linecap="round" />
<path d="M24.5,370.89 L25.25,370.87 L26,370.9 L26.75,370.98 L27.5,371.07 L28.25,371.16 L29,371.24 L29.75,371.29 L30.5,371.3 L31.25,371.29 L32,371.25 L32.75,371.21 L33.5,371.17 L34.25,371.13 L35,371.09 L35.75,371.07 L36.5,371.06 L37.25,371.05 L38,371.04 L38.75,371 L39.5,370.93 L40.25,370.86 L41,370.81 L41.75,370.77 L42.5,370.72 L43.25,370.66 L44,370.59 L44.75,370.52 L45.5,370.46 L46.25,370.43 L47,370.42 L47.75,370.42 L48.5,370.43 L49.25,370.45 L50,370.46 L50.75,370.49 L51.5,370.53 L52.25,370.57 L53,370.59 L53.75,370.59 L54.5,370.57 L55.25,370.55 L56,370.51 L56.75,370.47 L57.5,370.41 L58.25,370.32 L59,370.22 L59.75,370.14 L60.5,370.1 L61.25,370.1 L62,370.13 L62.75,370.16 L63.5,370.18 L64.25,370.18 L65,370.16 L65.75,370.14 L66.5,370.11 L67.25,370.09 L68,370.05 L68.75,370.01 L69.5,369.97 L70.25,369.95 L71,369.95 L71.75,369.97 L72.5,370 L73.25,370.02 L74,370 L74.75,369.96 L75.5,369.92 L76.25,369.9 L77,369.9 L77.75,369.92 L78.5,369.95 L79.25,369.98 L80,369.99 L80.75,369.98 L81.5,369.95 L82.25,369.9 L83,369.85 L83.75,369.81 L84.5,369.78 L85.25,369.75 L86,369.73 L86.75,369.71 L87.5,369.69 L88.25,369.65 L89,369.61 L89.75,369.57 L90.5,369.56 L91.25,369.57 L92,369.61 L92.75,369.65 L93.5,369.68 L94.25,369.69 L95,369.67 L95.75,369.64 L96.5,369.59 L97.25,369.57 L98,369.6 L98.75,369.67 L99.5,369.79 L100.25,369.93 L101,370.1 L101.75,370.34 L102.5,370.67 L103.25,371.11 L104,371.65 L104.75,372.24 L105.5,372.88 L106.25,373.51 L107,374.12 L107.75,374.68 L108.5,375.16 L109.25,375.51 L110,375.7 L110.75,375.73 L111.5,375.58 L112.25,375.29 L113,374.9 L113.75,374.46 L114.5,374.03 L115.25,373.61 L116,373.23 L116.75,372.86 L117.5,372.51 L118.25,372.19 L119,371.92 L119.75,371.72 L120.5,371.58 L121.25,371.47 L122,371.35 L122.75,371.23 L123.5,371.11 L124.25,370.99 L125,370.88 L125.75,370.78 L126.5,370.7 L127.25,370.66 L128,370.68 L128.75,370.73 L129.5,370.78 L130.25,370.8 L131,370.77 L131.75,370.67 L132.5,370.52 L133.25,370.34 L134,370.2 L134.75,370.17 L135.5,370.29 L136.25,370.54 L137,370.83 L137.75,371.07 L138.5,371.23 L139.25,371.28 L140,371.27 L140.75,371.21 L141.5,371.15 L142.25,371.11 L143,371.07 L143.75,371.03 L144.5,370.97 L145.25,370.93 L146,370.94 L146.75,370.99 L147.5,371.07 L148.25,371.14 L149,371.21 L149.75,371.28 L150.5,371.38 L151.25,371.5 L152,371.62 L152.75,371.7 L153.5,371.73 L154.25,371.74 L155,371.71 L155.75,371.67 L156.5,371.63 L157.25,371.57 L158,371.46 L158.75,371.3 L159.5,371.12 L160.25,370.97 L161,370.87 L161.75,370.86 L162.5,370.93 L163.25,371.07 L164,371.23 L164.75,371.37 L165.5,371.45 L166.25,371.46 L167,371.39 L167.75,371.26 L168.5,371.11 L169.25,371 L170,370.97 L170.75,371.04 L171.5,371.2 L172.25,371.39 L173,371.56 L173.75,371.71 L174.5,371.87 L175.25,372.09 L176,372.39 L176.75,372.72 L177.5,372.98 L178.25,373.11 L179,373.12 L179.75,373.07 L180.5,373.01 L181.25,372.94 L182,372.89 L182.75,372.85 L183.5,372.86 L184.25,372.92 L185,373.03 L185.75,373.2 L186.5,373.42 L187.25,373.71 L188,374.03 L188.75,374.34 L189.5,374.63" fill="none" stroke="#bcdbb6" stroke-width="1.15" stroke-linejoin="round" stroke-linecap="round" />
<path d="M24.5,389.62 L25.25,389.6 L26,389.57 L26.75,389.53 L27.5,389.51 L28.25,389.51 L29,389.53 L29.75,389.56 L30.5,389.58 L31.25,389.59 L32,389.58 L32.75,389.54 L33.5,389.49 L34.25,389.45 L35,389.44 L35.75,389.44 L36.5,389.46 L37.25,389.47 L38,389.48 L38.75,389.5 L39.5,389.54 L40.25,389.59 L41,389.63 L41.75,389.67 L42.5,389.71 L43.25,389.73 L44,389.74 L44.75,389.72 L45.5,389.67 L46.25,389.6 L47,389.53 L47.75,389.45 L48.5,389.41 L49.25,389.39 L50,389.39 L50.75,389.4 L51.5,389.39 L52.25,389.37 L53,389.37 L53.75,389.37 L54.5,389.39 L55.25,389.4 L56,389.4 L56.75,389.39 L57.5,389.39 L58.25,389.38 L59,389.38 L59.75,389.38 L60.5,389.39 L61.25,389.4 L62,389.4 L62.75,389.36 L63.5,389.3 L64.25,389.23 L65,389.17 L65.75,389.12 L66.5,389.1 L67.25,389.1 L68,389.11 L68.75,389.11 L69.5,389.1 L70.25,389.08 L71,389.06 L71.75,389.04 L72.5,389 L73.25,388.96 L74,388.92 L74.75,388.89 L75.5,388.87 L76.25,388.86 L77,388.87 L77.75,388.87 L78.5,388.88 L79.25,388.87 L80,388.85 L80.75,388.82 L81.5,388.78 L82.25,388.74 L83,388.68 L83.75,388.62 L84.5,388.56 L85.25,388.52 L86,388.5 L86.75,388.5 L87.5,388.52 L88.25,388.54 L89,388.55 L89.75,388.53 L90.5,388.49 L91.25,388.43 L92,388.37 L92.75,388.29 L93.5,388.22 L94.25,388.15 L95,388.1 L95.75,388.06 L96.5,388.05 L97.25,388.07 L98,388.11 L98.75,388.15 L99.5,388.16 L100.25,388.16 L101,388.15 L101.75,388.14 L102.5,388.12 L103.25,388.08 L104,388.03 L104.75,387.96 L105.5,387.89 L106.25,387.81 L107,387.76 L107.75,387.72 L108.5,387.7 L109.25,387.7 L110,387.71 L110.75,387.71 L111.5,387.72 L112.25,387.74 L113,387.78 L113.75,387.84 L114.5,387.91 L115.25,387.97 L116,388.02 L116.75,388.06 L117.5,388.11 L118.25,388.16 L119,388.18 L119.75,388.16 L120.5,388.1 L121.25,388.02 L122,387.93 L122.75,387.86 L123.5,387.8 L124.25,387.77 L125,387.76 L125.75,387.79 L126.5,387.83 L127.25,387.89 L128,387.94 L128.75,387.99 L129.5,388.05 L130.25,388.1 L131,388.14 L131.75,388.15 L132.5,388.16 L133.25,388.18 L134,388.2 L134.75,388.24 L135.5,388.27 L136.25,388.28 L137,388.27 L137.75,388.25 L138.5,388.24 L139.25,388.25 L140,388.28 L140.75,388.32 L141.5,388.36 L142.25,388.36 L143,388.31 L143.75,388.22 L144.5,388.14 L145.25,388.12 L146,388.18 L146.75,388.31 L147.5,388.47 L148.25,388.58 L149,388.61 L149.75,388.56 L150.5,388.45 L151.25,388.38 L152,388.39 L152.75,388.5 L153.5,388.64 L154.25,388.76 L155,388.84 L155.75,388.89 L156.5,388.94 L157.25,389.04 L158,389.16 L158.75,389.28 L159.5,389.39 L160.25,389.5 L161,389.63 L161.75,389.77 L162.5,389.87 L163.25,389.93 L164,389.96 L164.75,390.02 L165.5,390.15 L166.25,390.31 L167,390.44 L167.75,390.52 L168.5,390.55 L169.25,390.55 L170,390.53 L170.75,390.51 L171.5,390.5 L172.25,390.5 L173,390.51 L173.75,390.56 L174.5,390.66 L175.25,390.81 L176,391 L176.75,391.18 L177.5,391.31 L178.25,391.37 L179,391.39 L179.75,391.42 L180.5,391.48 L181.25,391.62 L182,391.87 L182.75,392.23 L183.5,392.66 L184.25,393.09 L185,393.47 L185.75,393.78 L186.5,394.02 L187.25,394.19 L188,394.31 L188.75,394.39 L189.5,394.48" fill="none" stroke="#b0d4a5" stroke-width="1.15" stroke-linejoin="round" stroke-linecap="round" />
<path d="M24.5,405.06 L25.25,405.09 L26,405.09 L26.75,405.09 L27.5,405.09 L28.25,405.09 L29,405.08 L29.75,405.06 L30.5,405.03 L31.25,405.01 L32,405.01 L32.75,405.02 L33.5,405.01 L34.25,404.99 L35,404.97 L35.75,404.95 L36.5,404.94 L37.25,404.95 L38,404.95 L38.75,404.96 L39.5,404.96 L40.25,404.96 L41,404.95 L41.75,404.94 L42.5,404.92 L43.25,404.9 L44,404.9 L44.75,404.9 L45.5,404.92 L46.25,404.94 L47,404.96 L47.75,404.99 L48.5,405.01 L49.25,405.02 L50,405.02 L50.75,405 L51.5,404.97 L52.25,404.96 L53,404.96 L53.75,404.98 L54.5,404.99 L55.25,404.99 L56,404.97 L56.75,404.92 L57.5,404.86 L58.25,404.82 L59,404.78 L59.75,404.76 L60.5,404.74 L61.25,404.71 L62,404.68 L62.75,404.67 L63.5,404.68 L64.25,404.71 L65,404.75 L65.75,404.79 L66.5,404.8 L67.25,404.79 L68,404.74 L68.75,404.67 L69.5,404.59 L70.25,404.54 L71,404.52 L71.75,404.52 L72.5,404.52 L73.25,404.5 L74,404.45 L74.75,404.37 L75.5,404.29 L76.25,404.22 L77,404.17 L77.75,404.15 L78.5,404.16 L79.25,404.19 L80,404.24 L80.75,404.3 L81.5,404.35 L82.25,404.39 L83,404.4 L83.75,404.37 L84.5,404.31 L85.25,404.23 L86,404.16 L86.75,404.1 L87.5,404.06 L88.25,404.02 L89,404 L89.75,403.98 L90.5,403.96 L91.25,403.91 L92,403.85 L92.75,403.78 L93.5,403.73 L94.25,403.71 L95,403.71 L95.75,403.7 L96.5,403.68 L97.25,403.64 L98,403.59 L98.75,403.53 L99.5,403.47 L100.25,403.44 L101,403.42 L101.75,403.42 L102.5,403.43 L103.25,403.43 L104,403.42 L104.75,403.41 L105.5,403.41 L106.25,403.42 L107,403.43 L107.75,403.44 L108.5,403.43 L109.25,403.38 L110,403.3 L110.75,403.23 L111.5,403.19 L112.25,403.19 L113,403.22 L113.75,403.29 L114.5,403.37 L115.25,403.47 L116,403.55 L116.75,403.59 L117.5,403.58 L118.25,403.55 L119,403.52 L119.75,403.5 L120.5,403.5 L121.25,403.51 L122,403.51 L122.75,403.5 L123.5,403.46 L124.25,403.41 L125,403.36 L125.75,403.31 L126.5,403.29 L127.25,403.3 L128,403.33 L128.75,403.38 L129.5,403.42 L130.25,403.45 L131,403.48 L131.75,403.51 L132.5,403.52 L133.25,403.53 L134,403.52 L134.75,403.49 L135.5,403.46 L136.25,403.47 L137,403.53 L137.75,403.65 L138.5,403.79 L139.25,403.9 L140,403.96 L140.75,403.97 L141.5,403.98 L142.25,404.04 L143,404.16 L143.75,404.32 L144.5,404.44 L145.25,404.48 L146,404.42 L146.75,404.34 L147.5,404.32 L148.25,404.37 L149,404.49 L149.75,404.61 L150.5,404.72 L151.25,404.82 L152,404.92 L152.75,405.05 L153.5,405.2 L154.25,405.32 L155,405.35 L155.75,405.26 L156.5,405.1 L157.25,404.94 L158,404.9 L158.75,404.95 L159.5,405.03 L160.25,405.07 L161,405.03 L161.75,404.98 L162.5,404.98 L163.25,405.05 L164,405.19 L164.75,405.36 L165.5,405.54 L166.25,405.68 L167,405.77 L167.75,405.84 L168.5,405.89 L169.25,405.91 L170,405.87 L170.75,405.78 L171.5,405.68 L172.25,405.63 L173,405.65 L173.75,405.69 L174.5,405.72 L175.25,405.73 L176,405.76 L176.75,405.83 L177.5,405.95 L178.25,406.08 L179,406.24 L179.75,406.43 L180.5,406.67 L181.25,406.94 L182,407.24 L182.75,407.52 L183.5,407.78 L184.25,408.03 L185,408.26 L185.75,408.49 L186.5,408.73 L187.25,409.01 L188,409.32 L188.75,409.65 L189.5,409.98" fill="none" stroke="#f5cf90" stroke-width="1.15" stroke-linejoin="round" stroke-linecap="round" />
<path d="M24.5,420.34 L25.25,420.36 L26,420.4 L26.75,420.46 L27.5,420.51 L28.25,420.54 L29,420.54 L29.75,420.5 L30.5,420.45 L31.25,420.41 L32,420.39 L32.75,420.39 L33.5,420.4 L34.25,420.43 L35,420.46 L35.75,420.48 L36.5,420.49 L37.25,420.49 L38,420.5 L38.75,420.52 L39.5,420.55 L40.25,420.59 L41,420.62 L41.75,420.65 L42.5,420.68 L43.25,420.69 L44,420.68 L44.75,420.66 L45.5,420.61 L46.25,420.54 L47,420.48 L47.75,420.44 L48.5,420.43 L49.25,420.44 L50,420.46 L50.75,420.48 L51.5,420.5 L52.25,420.53 L53,420.55 L53.75,420.57 L54.5,420.56 L55.25,420.52 L56,420.46 L56.75,420.38 L57.5,420.29 L58.25,420.23 L59,420.19 L59.75,420.18 L60.5,420.19 L61.25,420.21 L62,420.22 L62.75,420.23 L63.5,420.23 L64.25,420.23 L65,420.23 L65.75,420.24 L66.5,420.25 L67.25,420.25 L68,420.27 L68.75,420.29 L69.5,420.33 L70.25,420.35 L71,420.36 L71.75,420.34 L72.5,420.31 L73.25,420.3 L74,420.31 L74.75,420.31 L75.5,420.28 L76.25,420.21 L77,420.11 L77.75,420.01 L78.5,419.94 L79.25,419.92 L80,419.92 L80.75,419.92 L81.5,419.88 L82.25,419.83 L83,419.78 L83.75,419.77 L84.5,419.79 L85.25,419.82 L86,419.84 L86.75,419.83 L87.5,419.8 L88.25,419.75 L89,419.69 L89.75,419.64 L90.5,419.6 L91.25,419.56 L92,419.54 L92.75,419.53 L93.5,419.54 L94.25,419.57 L95,419.6 L95.75,419.62 L96.5,419.65 L97.25,419.69 L98,419.72 L98.75,419.73 L99.5,419.7 L100.25,419.62 L101,419.51 L101.75,419.39 L102.5,419.29 L103.25,419.22 L104,419.21 L104.75,419.23 L105.5,419.27 L106.25,419.29 L107,419.29 L107.75,419.28 L108.5,419.29 L109.25,419.3 L110,419.31 L110.75,419.31 L111.5,419.28 L112.25,419.23 L113,419.17 L113.75,419.11 L114.5,419.09 L115.25,419.12 L116,419.19 L116.75,419.27 L117.5,419.31 L118.25,419.31 L119,419.27 L119.75,419.19 L120.5,419.11 L121.25,419.04 L122,419 L122.75,419 L123.5,419.04 L124.25,419.1 L125,419.17 L125.75,419.2 L126.5,419.19 L127.25,419.15 L128,419.11 L128.75,419.11 L129.5,419.16 L130.25,419.25 L131,419.38 L131.75,419.53 L132.5,419.69 L133.25,419.83 L134,419.94 L134.75,420.01 L135.5,420.06 L136.25,420.06 L137,420.03 L137.75,419.99 L138.5,419.95 L139.25,419.93 L140,419.94 L140.75,419.96 L141.5,420 L142.25,420.04 L143,420.12 L143.75,420.19 L144.5,420.23 L145.25,420.2 L146,420.13 L146.75,420.06 L147.5,420.03 L148.25,420.05 L149,420.11 L149.75,420.2 L150.5,420.3 L151.25,420.42 L152,420.53 L152.75,420.61 L153.5,420.63 L154.25,420.6 L155,420.55 L155.75,420.52 L156.5,420.58 L157.25,420.73 L158,420.91 L158.75,421.07 L159.5,421.15 L160.25,421.16 L161,421.12 L161.75,421.06 L162.5,420.99 L163.25,420.97 L164,421.04 L164.75,421.23 L165.5,421.47 L166.25,421.66 L167,421.76 L167.75,421.79 L168.5,421.82 L169.25,421.88 L170,421.95 L170.75,421.99 L171.5,421.98 L172.25,421.95 L173,421.91 L173.75,421.88 L174.5,421.86 L175.25,421.86 L176,421.91 L176.75,422.04 L177.5,422.25 L178.25,422.5 L179,422.74 L179.75,422.93 L180.5,423.09 L181.25,423.28 L182,423.49 L182.75,423.71 L183.5,423.94 L184.25,424.15 L185,424.38 L185.75,424.64 L186.5,424.93 L187.25,425.25 L188,425.57 L188.75,425.89 L189.5,426.2" fill="none" stroke="#f3c182" stroke-width="1.15" stroke-linejoin="round" stroke-linecap="round" />
<path d="M24.5,436.62 L25.25,436.59 L26,436.58 L26.75,436.59 L27.5,436.61 L28.25,436.63 L29,436.66 L29.75,436.71 L30.5,436.75 L31.25,436.76 L32,436.73 L32.75,436.67 L33.5,436.6 L34.25,436.56 L35,436.56 L35.75,436.56 L36.5,436.55 L37.25,436.52 L38,436.49 L38.75,436.47 L39.5,436.49 L40.25,436.53 L41,436.59 L41.75,436.67 L42.5,436.75 L43.25,436.82 L44,436.87 L44.75,436.87 L45.5,436.85 L46.25,436.82 L47,436.79 L47.75,436.78 L48.5,436.76 L49.25,436.73 L50,436.69 L50.75,436.66 L51.5,436.63 L52.25,436.59 L53,436.53 L53.75,436.46 L54.5,436.4 L55.25,436.38 L56,436.39 L56.75,436.42 L57.5,436.46 L58.25,436.49 L59,436.5 L59.75,436.51 L60.5,436.53 L61.25,436.55 L62,436.57 L62.75,436.56 L63.5,436.52 L64.25,436.46 L65,436.42 L65.75,436.39 L66.5,436.37 L67.25,436.35 L68,436.34 L68.75,436.32 L69.5,436.32 L70.25,436.33 L71,436.33 L71.75,436.32 L72.5,436.3 L73.25,436.25 L74,436.2 L74.75,436.15 L75.5,436.09 L76.25,436.05 L77,436.03 L77.75,436.01 L78.5,436 L79.25,435.99 L80,435.97 L80.75,435.93 L81.5,435.87 L82.25,435.8 L83,435.75 L83.75,435.72 L84.5,435.71 L85.25,435.69 L86,435.66 L86.75,435.61 L87.5,435.55 L88.25,435.51 L89,435.48 L89.75,435.49 L90.5,435.51 L91.25,435.55 L92,435.58 L92.75,435.59 L93.5,435.57 L94.25,435.53 L95,435.49 L95.75,435.45 L96.5,435.41 L97.25,435.37 L98,435.31 L98.75,435.26 L99.5,435.21 L100.25,435.2 L101,435.21 L101.75,435.23 L102.5,435.24 L103.25,435.23 L104,435.21 L104.75,435.17 L105.5,435.15 L106.25,435.14 L107,435.15 L107.75,435.17 L108.5,435.17 L109.25,435.14 L110,435.08 L110.75,435.01 L111.5,434.95 L112.25,434.89 L113,434.86 L113.75,434.87 L114.5,434.92 L115.25,435 L116,435.08 L116.75,435.12 L117.5,435.08 L118.25,435 L119,434.91 L119.75,434.86 L120.5,434.86 L121.25,434.89 L122,434.92 L122.75,434.93 L123.5,434.94 L124.25,434.93 L125,434.91 L125.75,434.89 L126.5,434.88 L127.25,434.93 L128,435.07 L128.75,435.26 L129.5,435.44 L130.25,435.55 L131,435.54 L131.75,435.43 L132.5,435.29 L133.25,435.19 L134,435.17 L134.75,435.25 L135.5,435.38 L136.25,435.49 L137,435.55 L137.75,435.56 L138.5,435.52 L139.25,435.48 L140,435.47 L140.75,435.51 L141.5,435.63 L142.25,435.81 L143,436.02 L143.75,436.23 L144.5,436.38 L145.25,436.45 L146,436.43 L146.75,436.35 L147.5,436.28 L148.25,436.26 L149,436.29 L149.75,436.36 L150.5,436.41 L151.25,436.41 L152,436.39 L152.75,436.39 L153.5,436.45 L154.25,436.54 L155,436.6 L155.75,436.56 L156.5,436.43 L157.25,436.24 L158,436.04 L158.75,435.9 L159.5,435.85 L160.25,435.92 L161,436.11 L161.75,436.32 L162.5,436.49 L163.25,436.57 L164,436.57 L164.75,436.55 L165.5,436.53 L166.25,436.56 L167,436.65 L167.75,436.8 L168.5,437 L169.25,437.18 L170,437.3 L170.75,437.34 L171.5,437.32 L172.25,437.3 L173,437.3 L173.75,437.32 L174.5,437.4 L175.25,437.52 L176,437.67 L176.75,437.83 L177.5,437.95 L178.25,438.06 L179,438.18 L179.75,438.34 L180.5,438.55 L181.25,438.77 L182,438.95 L182.75,439.07 L183.5,439.14 L184.25,439.2 L185,439.3 L185.75,439.49 L186.5,439.81 L187.25,440.24 L188,440.7 L188.75,441.12 L189.5,441.42" fill="none" stroke="#ee9c70" stroke-width="1.15" stroke-linejoin="round" stroke-linecap="round" />
<path d="M24.5,453.24 L25.25,453.26 L26,453.29 L26.75,453.33 L27.5,453.37 L28.25,453.39 L29,453.38 L29.75,453.35 L30.5,453.3 L31.25,453.24 L32,453.19 L32.75,453.17 L33.5,453.19 L34.25,453.24 L35,453.28 L35.75,453.29 L36.5,453.26 L37.25,453.22 L38,453.19 L38.75,453.17 L39.5,453.16 L40.25,453.16 L41,453.17 L41.75,453.18 L42.5,453.19 L43.25,453.21 L44,453.23 L44.75,453.25 L45.5,453.24 L46.25,453.2 L47,453.15 L47.75,453.09 L48.5,453.05 L49.25,453.01 L50,452.98 L50.75,452.95 L51.5,452.93 L52.25,452.92 L53,452.93 L53.75,452.95 L54.5,452.97 L55.25,452.99 L56,453.01 L56.75,453.03 L57.5,453.04 L58.25,453.02 L59,452.98 L59.75,452.92 L60.5,452.86 L61.25,452.82 L62,452.81 L62.75,452.83 L63.5,452.86 L64.25,452.89 L65,452.88 L65.75,452.84 L66.5,452.78 L67.25,452.72 L68,452.69 L68.75,452.69 L69.5,452.71 L70.25,452.73 L71,452.74 L71.75,452.75 L72.5,452.74 L73.25,452.7 L74,452.65 L74.75,452.6 L75.5,452.55 L76.25,452.51 L77,452.47 L77.75,452.42 L78.5,452.36 L79.25,452.3 L80,452.25 L80.75,452.2 L81.5,452.16 L82.25,452.13 L83,452.1 L83.75,452.1 L84.5,452.11 L85.25,452.12 L86,452.11 L86.75,452.08 L87.5,452.03 L88.25,451.99 L89,451.97 L89.75,451.97 L90.5,451.99 L91.25,452 L92,452 L92.75,451.98 L93.5,451.94 L94.25,451.88 L95,451.79 L95.75,451.7 L96.5,451.61 L97.25,451.54 L98,451.48 L98.75,451.42 L99.5,451.39 L100.25,451.37 L101,451.39 L101.75,451.46 L102.5,451.55 L103.25,451.62 L104,451.65 L104.75,451.62 L105.5,451.55 L106.25,451.49 L107,451.43 L107.75,451.38 L108.5,451.35 L109.25,451.33 L110,451.32 L110.75,451.31 L111.5,451.33 L112.25,451.36 L113,451.4 L113.75,451.42 L114.5,451.42 L115.25,451.4 L116,451.38 L116.75,451.35 L117.5,451.31 L118.25,451.27 L119,451.22 L119.75,451.19 L120.5,451.18 L121.25,451.18 L122,451.2 L122.75,451.25 L123.5,451.32 L124.25,451.42 L125,451.51 L125.75,451.57 L126.5,451.59 L127.25,451.59 L128,451.6 L128.75,451.62 L129.5,451.63 L130.25,451.61 L131,451.54 L131.75,451.46 L132.5,451.43 L133.25,451.44 L134,451.48 L134.75,451.5 L135.5,451.48 L136.25,451.44 L137,451.43 L137.75,451.48 L138.5,451.58 L139.25,451.67 L140,451.71 L140.75,451.7 L141.5,451.67 L142.25,451.62 L143,451.57 L143.75,451.53 L144.5,451.52 L145.25,451.58 L146,451.72 L146.75,451.9 L147.5,452.1 L148.25,452.28 L149,452.4 L149.75,452.46 L150.5,452.46 L151.25,452.44 L152,452.43 L152.75,452.47 L153.5,452.56 L154.25,452.66 L155,452.75 L155.75,452.81 L156.5,452.82 L157.25,452.78 L158,452.71 L158.75,452.66 L159.5,452.68 L160.25,452.77 L161,452.92 L161.75,453.09 L162.5,453.25 L163.25,453.38 L164,453.46 L164.75,453.47 L165.5,453.42 L166.25,453.36 L167,453.33 L167.75,453.34 L168.5,453.38 L169.25,453.41 L170,453.41 L170.75,453.38 L171.5,453.34 L172.25,453.34 L173,453.41 L173.75,453.57 L174.5,453.8 L175.25,454.09 L176,454.41 L176.75,454.73 L177.5,455.02 L178.25,455.25 L179,455.42 L179.75,455.55 L180.5,455.66 L181.25,455.75 L182,455.81 L182.75,455.81 L183.5,455.77 L184.25,455.74 L185,455.77 L185.75,455.89 L186.5,456.09 L187.25,456.32 L188,456.58 L188.75,456.87 L189.5,457.19" fill="none" stroke="#e67d78" stroke-width="1.15" stroke-linejoin="round" stroke-linecap="round" />
<path d="M24.5,468.58 L25.25,468.54 L26,468.48 L26.75,468.42 L27.5,468.39 L28.25,468.39 L29,468.42 L29.75,468.45 L30.5,468.47 L31.25,468.47 L32,468.46 L32.75,468.45 L33.5,468.45 L34.25,468.46 L35,468.48 L35.75,468.51 L36.5,468.55 L37.25,468.62 L38,468.69 L38.75,468.76 L39.5,468.8 L40.25,468.82 L41,468.8 L41.75,468.76 L42.5,468.72 L43.25,468.66 L44,468.61 L44.75,468.57 L45.5,468.54 L46.25,468.53 L47,468.53 L47.75,468.55 L48.5,468.57 L49.25,468.57 L50,468.57 L50.75,468.57 L51.5,468.57 L52.25,468.58 L53,468.61 L53.75,468.64 L54.5,468.66 L55.25,468.66 L56,468.65 L56.75,468.61 L57.5,468.58 L58.25,468.56 L59,468.54 L59.75,468.52 L60.5,468.49 L61.25,468.46 L62,468.41 L62.75,468.36 L63.5,468.32 L64.25,468.3 L65,468.3 L65.75,468.34 L66.5,468.38 L67.25,468.41 L68,468.42 L68.75,468.39 L69.5,468.35 L70.25,468.3 L71,468.26 L71.75,468.23 L72.5,468.22 L73.25,468.22 L74,468.21 L74.75,468.2 L75.5,468.18 L76.25,468.17 L77,468.15 L77.75,468.11 L78.5,468.05 L79.25,467.97 L80,467.89 L80.75,467.84 L81.5,467.81 L82.25,467.81 L83,467.8 L83.75,467.78 L84.5,467.72 L85.25,467.64 L86,467.57 L86.75,467.53 L87.5,467.53 L88.25,467.57 L89,467.62 L89.75,467.66 L90.5,467.68 L91.25,467.66 L92,467.62 L92.75,467.58 L93.5,467.55 L94.25,467.52 L95,467.51 L95.75,467.51 L96.5,467.51 L97.25,467.49 L98,467.45 L98.75,467.38 L99.5,467.29 L100.25,467.19 L101,467.12 L101.75,467.09 L102.5,467.11 L103.25,467.13 L104,467.16 L104.75,467.16 L105.5,467.14 L106.25,467.12 L107,467.11 L107.75,467.12 L108.5,467.14 L109.25,467.15 L110,467.13 L110.75,467.07 L111.5,466.99 L112.25,466.91 L113,466.86 L113.75,466.87 L114.5,466.92 L115.25,466.99 L116,467.04 L116.75,467.05 L117.5,467.01 L118.25,466.92 L119,466.82 L119.75,466.74 L120.5,466.71 L121.25,466.72 L122,466.75 L122.75,466.78 L123.5,466.81 L124.25,466.85 L125,466.93 L125.75,467.05 L126.5,467.19 L127.25,467.31 L128,467.4 L128.75,467.46 L129.5,467.49 L130.25,467.5 L131,467.5 L131.75,467.49 L132.5,467.46 L133.25,467.43 L134,467.41 L134.75,467.39 L135.5,467.4 L136.25,467.45 L137,467.54 L137.75,467.65 L138.5,467.74 L139.25,467.77 L140,467.75 L140.75,467.71 L141.5,467.68 L142.25,467.69 L143,467.75 L143.75,467.82 L144.5,467.88 L145.25,467.91 L146,467.9 L146.75,467.88 L147.5,467.87 L148.25,467.88 L149,467.92 L149.75,468.01 L150.5,468.12 L151.25,468.23 L152,468.31 L152.75,468.36 L153.5,468.38 L154.25,468.39 L155,468.39 L155.75,468.39 L156.5,468.4 L157.25,468.42 L158,468.43 L158.75,468.44 L159.5,468.44 L160.25,468.47 L161,468.53 L161.75,468.59 L162.5,468.63 L163.25,468.65 L164,468.68 L164.75,468.72 L165.5,468.77 L166.25,468.83 L167,468.89 L167.75,468.95 L168.5,469.01 L169.25,469.07 L170,469.16 L170.75,469.27 L171.5,469.41 L172.25,469.56 L173,469.71 L173.75,469.84 L174.5,469.94 L175.25,470.02 L176,470.1 L176.75,470.23 L177.5,470.43 L178.25,470.7 L179,470.99 L179.75,471.23 L180.5,471.36 L181.25,471.41 L182,471.44 L182.75,471.51 L183.5,471.67 L184.25,471.91 L185,472.19 L185.75,472.48 L186.5,472.72 L187.25,472.91 L188,473.07 L188.75,473.22 L189.5,473.38" fill="none" stroke="#e05a5c" stroke-width="1.15" stroke-linejoin="round" stroke-linecap="round" />
<path d="M24.5,483.32 L25.25,483.33 L26,483.33 L26.75,483.31 L27.5,483.3 L28.25,483.29 L29,483.3 L29.75,483.32 L30.5,483.35 L31.25,483.39 L32,483.4 L32.75,483.41 L33.5,483.4 L34.25,483.39 L35,483.37 L35.75,483.35 L36.5,483.32 L37.25,483.31 L38,483.31 L38.75,483.33 L39.5,483.36 L40.25,483.37 L41,483.36 L41.75,483.35 L42.5,483.34 L43.25,483.36 L44,483.38 L44.75,483.38 L45.5,483.35 L46.25,483.3 L47,483.25 L47.75,483.22 L48.5,483.21 L49.25,483.23 L50,483.24 L50.75,483.24 L51.5,483.19 L52.25,483.11 L53,483.03 L53.75,482.97 L54.5,482.97 L55.25,483 L56,483.05 L56.75,483.09 L57.5,483.1 L58.25,483.1 L59,483.09 L59.75,483.09 L60.5,483.08 L61.25,483.06 L62,483.02 L62.75,482.96 L63.5,482.89 L64.25,482.83 L65,482.8 L65.75,482.78 L66.5,482.79 L67.25,482.81 L68,482.85 L68.75,482.91 L69.5,482.95 L70.25,482.97 L71,482.93 L71.75,482.86 L72.5,482.8 L73.25,482.75 L74,482.75 L74.75,482.77 L75.5,482.8 L76.25,482.81 L77,482.79 L77.75,482.74 L78.5,482.65 L79.25,482.55 L80,482.46 L80.75,482.41 L81.5,482.39 L82.25,482.4 L83,482.4 L83.75,482.39 L84.5,482.37 L85.25,482.34 L86,482.31 L86.75,482.27 L87.5,482.23 L88.25,482.18 L89,482.13 L89.75,482.09 L90.5,482.04 L91.25,482 L92,481.97 L92.75,481.94 L93.5,481.9 L94.25,481.85 L95,481.79 L95.75,481.72 L96.5,481.67 L97.25,481.64 L98,481.62 L98.75,481.6 L99.5,481.56 L100.25,481.51 L101,481.46 L101.75,481.43 L102.5,481.45 L103.25,481.52 L104,481.6 L104.75,481.68 L105.5,481.7 L106.25,481.66 L107,481.57 L107.75,481.47 L108.5,481.36 L109.25,481.28 L110,481.23 L110.75,481.22 L111.5,481.23 L112.25,481.27 L113,481.31 L113.75,481.35 L114.5,481.38 L115.25,481.41 L116,481.43 L116.75,481.46 L117.5,481.48 L118.25,481.5 L119,481.52 L119.75,481.53 L120.5,481.54 L121.25,481.56 L122,481.59 L122.75,481.64 L123.5,481.68 L124.25,481.68 L125,481.65 L125.75,481.58 L126.5,481.5 L127.25,481.45 L128,481.45 L128.75,481.53 L129.5,481.66 L130.25,481.81 L131,481.92 L131.75,481.97 L132.5,481.96 L133.25,481.91 L134,481.84 L134.75,481.78 L135.5,481.74 L136.25,481.73 L137,481.73 L137.75,481.73 L138.5,481.73 L139.25,481.74 L140,481.76 L140.75,481.8 L141.5,481.83 L142.25,481.82 L143,481.77 L143.75,481.71 L144.5,481.68 L145.25,481.72 L146,481.82 L146.75,481.98 L147.5,482.16 L148.25,482.32 L149,482.44 L149.75,482.54 L150.5,482.67 L151.25,482.81 L152,482.93 L152.75,482.99 L153.5,482.99 L154.25,482.96 L155,482.94 L155.75,482.95 L156.5,482.96 L157.25,482.97 L158,482.94 L158.75,482.89 L159.5,482.83 L160.25,482.81 L161,482.84 L161.75,482.9 L162.5,482.93 L163.25,482.9 L164,482.84 L164.75,482.78 L165.5,482.75 L166.25,482.8 L167,482.92 L167.75,483.07 L168.5,483.22 L169.25,483.33 L170,483.39 L170.75,483.44 L171.5,483.5 L172.25,483.56 L173,483.63 L173.75,483.7 L174.5,483.81 L175.25,483.97 L176,484.16 L176.75,484.37 L177.5,484.58 L178.25,484.79 L179,485.01 L179.75,485.21 L180.5,485.37 L181.25,485.49 L182,485.59 L182.75,485.7 L183.5,485.84 L184.25,486.01 L185,486.21 L185.75,486.42 L186.5,486.6 L187.25,486.74 L188,486.89 L188.75,487.1 L189.5,487.4" fill="none" stroke="#6a3557" stroke-width="1.15" stroke-linejoin="round" stroke-linecap="round" />
<path d="M82.6,238.8 L68.2,372.6" fill="none" stroke="#333333" stroke-width="1.0" stroke-linejoin="round" stroke-linecap="round" stroke-dasharray="3.4,2.4" stroke-linecap="butt"/>
<path d="M133.6,249.8 L130,276.2 L128.4,294 L126.8,311.6 L125,326.2 L122.8,344 L119.6,360.3 L117,366 L113.4,369.5 L110.8,375.6 L151.3,388.3 L151.3,409.4" fill="none" stroke="#333333" stroke-width="1.0" stroke-linejoin="round" stroke-linecap="round" stroke-dasharray="3.4,2.4" stroke-linecap="butt"/>
<rect x="24.5" y="188.4" width="165" height="315" fill="none" stroke="#4a4a4a" stroke-width="1.15" />
<line x1="24.5" y1="503.4" x2="24.5" y2="506.2" stroke="#4a4a4a" stroke-width="1.2" />
<line x1="107" y1="503.4" x2="107" y2="506.2" stroke="#4a4a4a" stroke-width="1.2" />
<line x1="189.5" y1="503.4" x2="189.5" y2="506.2" stroke="#4a4a4a" stroke-width="1.2" />
<line x1="65.75" y1="503.4" x2="65.75" y2="505.2" stroke="#4a4a4a" stroke-width="1.0" />
<line x1="148.25" y1="503.4" x2="148.25" y2="505.2" stroke="#4a4a4a" stroke-width="1.0" />
<line x1="184.5" y1="192.8" x2="184.5" y2="217.1" stroke="#1a1a1a" stroke-width="1.0" />
<line x1="183.1" y1="192.8" x2="185.9" y2="192.8" stroke="#1a1a1a" stroke-width="1.0" />
<line x1="183.1" y1="217.1" x2="185.9" y2="217.1" stroke="#1a1a1a" stroke-width="1.0" />
<text x="29.46" y="203.04" font-size="9.9" text-anchor="start" fill="#231f20" stroke="#231f20" stroke-width="0.15" textLength="26.12" lengthAdjust="spacingAndGlyphs" transform="rotate(0.2 29.46 203.04)" >PdC<tspan font-size="72%" dy="0.4em">60</tspan><tspan dy="-0.288em"></tspan></text>
<text x="79.35" y="235.14" font-size="10.5" text-anchor="start" fill="#231f20" stroke="#231f20" stroke-width="0.15" textLength="18.08" lengthAdjust="spacingAndGlyphs" transform="rotate(0.2 79.35 235.14)" >CO<tspan font-size="72%" dy="0.4em">A</tspan><tspan dy="-0.288em"></tspan></text>
<text x="130.32" y="245.65" font-size="10.5" text-anchor="start" fill="#231f20" stroke="#231f20" stroke-width="0.15" textLength="18.23" lengthAdjust="spacingAndGlyphs" transform="rotate(0.2 130.32 245.65)" >CO<tspan font-size="72%" dy="0.4em">B</tspan><tspan dy="-0.288em"></tspan></text>
<text x="153.22" y="401.19" font-size="10.5" text-anchor="start" fill="#231f20" stroke="#231f20" stroke-width="0.15" textLength="19.2" lengthAdjust="spacingAndGlyphs" transform="rotate(0.2 153.22 401.19)" >CO<tspan font-size="72%" dy="0.4em">H</tspan><tspan dy="-0.288em"></tspan></text>
<text x="160.51" y="208.8" font-size="9.85" text-anchor="start" fill="#231f20" stroke="#231f20" stroke-width="0.15" textLength="19.18" lengthAdjust="spacingAndGlyphs" transform="rotate(0.2 160.51 208.8)" >0.01</text>
<text x="12.73" y="516.65" font-size="9.7" text-anchor="start" fill="#231f20" stroke="#231f20" stroke-width="0.15" textLength="23.75" lengthAdjust="spacingAndGlyphs" transform="rotate(0.2 12.73 516.65)" >2100</text>
<text x="94.72" y="516.99" font-size="9.7" text-anchor="start" fill="#231f20" stroke="#231f20" stroke-width="0.15" textLength="23.68" lengthAdjust="spacingAndGlyphs" transform="rotate(0.2 94.72 516.99)" >1900</text>
<text x="177.64" y="516.71" font-size="9.7" text-anchor="start" fill="#231f20" stroke="#231f20" stroke-width="0.15" textLength="23.82" lengthAdjust="spacingAndGlyphs" transform="rotate(0.2 177.64 516.71)" >1700</text>
<text x="60.46" y="535.6" font-size="8.7" text-anchor="start" fill="#231f20" stroke="#231f20" stroke-width="0.15" textLength="93.59" lengthAdjust="spacingAndGlyphs" transform="rotate(0.2 60.46 535.6)" >Wavenumber (cm<tspan font-size="70%" dy="-0.75em">−1</tspan><tspan dy="0.525em">)</tspan></text>
<text x="16.72" y="378.66" font-size="9.2" text-anchor="start" fill="#231f20" stroke="#231f20" stroke-width="0.15" textLength="65.53" lengthAdjust="spacingAndGlyphs" transform="rotate(-89.8 16.72 378.66)" >Transmittance</text>
<line x1="200.6" y1="265.7" x2="200.6" y2="464.7" stroke="#1a1a1a" stroke-width="1.0" />
<path d="M200.6,261.2 L198.6,266.8 L202.6,266.8 Z" fill="#1a1a1a"/>
<text x="192.49" y="254.68" font-size="10.3" text-anchor="start" fill="#231f20" stroke="#231f20" stroke-width="0.15" textLength="29.72" lengthAdjust="spacingAndGlyphs" transform="rotate(0.2 192.49 254.68)" >−1.4 V</text>
<text x="193.59" y="477.8" font-size="10.3" text-anchor="start" fill="#231f20" stroke="#231f20" stroke-width="0.15" textLength="29.82" lengthAdjust="spacingAndGlyphs" transform="rotate(0.2 193.59 477.8)" >−0.1 V</text>
<text x="193.08" y="492.47" font-size="10.3" text-anchor="start" fill="#231f20" stroke="#231f20" stroke-width="0.15" textLength="20.46" lengthAdjust="spacingAndGlyphs" transform="rotate(0.2 193.08 492.47)" >OCV</text>
<text x="211.35" y="394.62" font-size="9.4" text-anchor="start" fill="#231f20" stroke="#231f20" stroke-width="0.15" textLength="68.56" lengthAdjust="spacingAndGlyphs" transform="rotate(-89.8 211.35 394.62)" >−0.1 V interval</text>
<text x="219.21" y="194.8" font-size="15.5" text-anchor="start" fill="#231815" font-weight="bold" textLength="9.48" lengthAdjust="spacingAndGlyphs" transform="rotate(0.2 219.21 194.8)" >e</text>
<path d="M239.1,253.3 L239.85,253.31 L240.6,253.33 L241.35,253.34 L242.1,253.37 L242.85,253.42 L243.6,253.48 L244.35,253.54 L245.1,253.57 L245.85,253.57 L246.6,253.56 L247.35,253.56 L248.1,253.57 L248.85,253.59 L249.6,253.61 L250.35,253.63 L251.1,253.65 L251.85,253.64 L252.6,253.62 L253.35,253.59 L254.1,253.56 L254.85,253.55 L255.6,253.51 L256.35,253.43 L257.1,253.31 L257.85,253.19 L258.6,253.14 L259.35,253.21 L260.1,253.37 L260.85,253.58 L261.6,253.74 L262.35,253.81 L263.1,253.8 L263.85,253.73 L264.6,253.64 L265.35,253.53 L266.1,253.42 L266.85,253.33 L267.6,253.31 L268.35,253.35 L269.1,253.44 L269.85,253.53 L270.6,253.59 L271.35,253.64 L272.1,253.68 L272.85,253.72 L273.6,253.77 L274.35,253.84 L275.1,253.93 L275.85,254.03 L276.6,254.13 L277.35,254.23 L278.1,254.34 L278.85,254.47 L279.6,254.62 L280.35,254.78 L281.1,254.97 L281.85,255.19 L282.6,255.45 L283.35,255.73 L284.1,256 L284.85,256.24 L285.6,256.44 L286.35,256.6 L287.1,256.76 L287.85,256.95 L288.6,257.15 L289.35,257.37 L290.1,257.59 L290.85,257.83 L291.6,258.08 L292.35,258.33 L293.1,258.54 L293.85,258.7 L294.6,258.82 L295.35,258.91 L296.1,258.99 L296.85,259.07 L297.6,259.13 L298.35,259.16 L299.1,259.15 L299.85,259.12 L300.6,259.07 L301.35,259.03 L302.1,258.99 L302.85,258.96 L303.6,258.96 L304.35,258.96 L305.1,258.95 L305.85,258.9 L306.6,258.81 L307.35,258.68 L308.1,258.55 L308.85,258.4 L309.6,258.24 L310.35,258.05 L311.1,257.81 L311.85,257.53 L312.6,257.23 L313.35,256.93 L314.1,256.65 L314.85,256.4 L315.6,256.18 L316.35,255.98 L317.1,255.78 L317.85,255.58 L318.6,255.4 L319.35,255.27 L320.1,255.18 L320.85,255.13 L321.6,255.09 L322.35,255.05 L323.1,255.01 L323.85,255 L324.6,255.06 L325.35,255.21 L326.1,255.43 L326.85,255.7 L327.6,256.01 L328.35,256.36 L329.1,256.77 L329.85,257.26 L330.6,257.85 L331.35,258.56 L332.1,259.39 L332.85,260.36 L333.6,261.46 L334.35,262.67 L335.1,263.95 L335.85,265.25 L336.6,266.59 L337.35,268.02 L338.1,269.56 L338.85,271.21 L339.6,272.92 L340.35,274.63 L341.1,276.32 L341.85,277.98 L342.6,279.59 L343.35,281.15 L344.1,282.65 L344.85,284.09 L345.6,285.47 L346.35,286.76 L347.1,287.9 L347.85,288.83 L348.6,289.56 L349.35,290.03 L350.1,290.24 L350.85,290.17 L351.6,289.83 L352.35,289.31 L353.1,288.68 L353.85,287.97 L354.6,287.19 L355.35,286.36 L356.1,285.53 L356.85,284.8 L357.6,284.2 L358.35,283.69 L359.1,283.15 L359.85,282.53 L360.6,281.8 L361.35,280.98 L362.1,280.08 L362.85,279.11 L363.6,278.1 L364.35,277.09 L365.1,276.15 L365.85,275.31 L366.6,274.57 L367.35,273.92 L368.1,273.34 L368.85,272.82 L369.6,272.36 L370.35,271.92 L371.1,271.47 L371.85,270.99 L372.6,270.46 L373.35,269.86 L374.1,269.2 L374.85,268.55 L375.6,267.96 L376.35,267.46 L377.1,267 L377.85,266.58 L378.6,266.18 L379.35,265.82 L380.1,265.53 L380.85,265.32 L381.6,265.15 L382.35,264.93 L383.1,264.55 L383.85,263.99 L384.6,263.3 L385.35,262.59 L386.1,261.94 L386.85,261.41 L387.6,261.05 L388.35,260.83 L389.1,260.66 L389.85,260.42 L390.6,260.07 L391.35,259.66 L392.1,259.31 L392.85,259.09 L393.6,258.97 L394.35,258.92 L395.1,258.95 L395.85,259.05 L396.6,259.15 L397.35,259.16 L398.1,259.01 L398.85,258.69 L399.6,258.28 L400.35,257.86 L401.1,257.48 L401.85,257.16 L402.6,256.87 L403.35,256.6 L404.1,256.4" fill="none" stroke="#363262" stroke-width="1.15" stroke-linejoin="round" stroke-linecap="round" />
<path d="M239.1,270.52 L239.85,270.55 L240.6,270.57 L241.35,270.55 L242.1,270.49 L242.85,270.42 L243.6,270.38 L244.35,270.41 L245.1,270.48 L245.85,270.55 L246.6,270.59 L247.35,270.58 L248.1,270.53 L248.85,270.47 L249.6,270.4 L250.35,270.33 L251.1,270.27 L251.85,270.24 L252.6,270.26 L253.35,270.33 L254.1,270.44 L254.85,270.54 L255.6,270.6 L256.35,270.6 L257.1,270.54 L257.85,270.44 L258.6,270.33 L259.35,270.28 L260.1,270.28 L260.85,270.33 L261.6,270.39 L262.35,270.42 L263.1,270.41 L263.85,270.38 L264.6,270.33 L265.35,270.27 L266.1,270.24 L266.85,270.26 L267.6,270.31 L268.35,270.38 L269.1,270.42 L269.85,270.44 L270.6,270.43 L271.35,270.45 L272.1,270.52 L272.85,270.66 L273.6,270.83 L274.35,271.01 L275.1,271.17 L275.85,271.29 L276.6,271.42 L277.35,271.58 L278.1,271.8 L278.85,272.06 L279.6,272.33 L280.35,272.6 L281.1,272.87 L281.85,273.14 L282.6,273.41 L283.35,273.66 L284.1,273.91 L284.85,274.15 L285.6,274.41 L286.35,274.66 L287.1,274.89 L287.85,275.12 L288.6,275.34 L289.35,275.58 L290.1,275.83 L290.85,276.07 L291.6,276.25 L292.35,276.37 L293.1,276.45 L293.85,276.53 L294.6,276.61 L295.35,276.69 L296.1,276.75 L296.85,276.8 L297.6,276.84 L298.35,276.85 L299.1,276.84 L299.85,276.8 L300.6,276.76 L301.35,276.73 L302.1,276.71 L302.85,276.68 L303.6,276.61 L304.35,276.48 L305.1,276.29 L305.85,276.03 L306.6,275.74 L307.35,275.47 L308.1,275.24 L308.85,275.05 L309.6,274.87 L310.35,274.69 L311.1,274.48 L311.85,274.26 L312.6,274.03 L313.35,273.8 L314.1,273.56 L314.85,273.32 L315.6,273.05 L316.35,272.77 L317.1,272.48 L317.85,272.22 L318.6,272 L319.35,271.86 L320.1,271.81 L320.85,271.82 L321.6,271.87 L322.35,271.92 L323.1,271.96 L323.85,272.01 L324.6,272.15 L325.35,272.4 L326.1,272.78 L326.85,273.26 L327.6,273.79 L328.35,274.35 L329.1,274.94 L329.85,275.59 L330.6,276.31 L331.35,277.15 L332.1,278.14 L332.85,279.27 L333.6,280.53 L334.35,281.88 L335.1,283.28 L335.85,284.71 L336.6,286.18 L337.35,287.69 L338.1,289.23 L338.85,290.8 L339.6,292.4 L340.35,294 L341.1,295.57 L341.85,297.09 L342.6,298.54 L343.35,299.91 L344.1,301.17 L344.85,302.29 L345.6,303.21 L346.35,303.95 L347.1,304.57 L347.85,305.12 L348.6,305.59 L349.35,305.91 L350.1,305.96 L350.85,305.72 L351.6,305.21 L352.35,304.56 L353.1,303.86 L353.85,303.16 L354.6,302.45 L355.35,301.68 L356.1,300.86 L356.85,300.05 L357.6,299.29 L358.35,298.6 L359.1,297.96 L359.85,297.34 L360.6,296.69 L361.35,296 L362.1,295.28 L362.85,294.5 L363.6,293.66 L364.35,292.8 L365.1,291.96 L365.85,291.19 L366.6,290.51 L367.35,289.91 L368.1,289.34 L368.85,288.75 L369.6,288.09 L370.35,287.36 L371.1,286.58 L371.85,285.8 L372.6,285.08 L373.35,284.43 L374.1,283.82 L374.85,283.22 L375.6,282.6 L376.35,281.99 L377.1,281.43 L377.85,280.91 L378.6,280.41 L379.35,279.93 L380.1,279.52 L380.85,279.25 L381.6,279.13 L382.35,279.04 L383.1,278.83 L383.85,278.39 L384.6,277.78 L385.35,277.12 L386.1,276.58 L386.85,276.23 L387.6,276.06 L388.35,276.02 L389.1,276.04 L389.85,276.01 L390.6,275.84 L391.35,275.47 L392.1,274.96 L392.85,274.48 L393.6,274.21 L394.35,274.2 L395.1,274.33 L395.85,274.4 L396.6,274.29 L397.35,273.98 L398.1,273.58 L398.85,273.2 L399.6,272.91 L400.35,272.72 L401.1,272.59 L401.85,272.52 L402.6,272.48 L403.35,272.53 L404.1,272.66" fill="none" stroke="#4b4994" stroke-width="1.15" stroke-linejoin="round" stroke-linecap="round" />
<path d="M239.1,286.24 L239.85,286.23 L240.6,286.23 L241.35,286.25 L242.1,286.25 L242.85,286.26 L243.6,286.26 L244.35,286.26 L245.1,286.27 L245.85,286.29 L246.6,286.34 L247.35,286.4 L248.1,286.43 L248.85,286.44 L249.6,286.44 L250.35,286.45 L251.1,286.48 L251.85,286.51 L252.6,286.49 L253.35,286.44 L254.1,286.37 L254.85,286.31 L255.6,286.29 L256.35,286.28 L257.1,286.27 L257.85,286.25 L258.6,286.25 L259.35,286.25 L260.1,286.27 L260.85,286.3 L261.6,286.34 L262.35,286.4 L263.1,286.49 L263.85,286.59 L264.6,286.67 L265.35,286.72 L266.1,286.72 L266.85,286.69 L267.6,286.66 L268.35,286.65 L269.1,286.66 L269.85,286.68 L270.6,286.72 L271.35,286.75 L272.1,286.77 L272.85,286.83 L273.6,286.95 L274.35,287.15 L275.1,287.42 L275.85,287.72 L276.6,288.02 L277.35,288.28 L278.1,288.5 L278.85,288.72 L279.6,288.95 L280.35,289.26 L281.1,289.66 L281.85,290.14 L282.6,290.63 L283.35,291.05 L284.1,291.32 L284.85,291.47 L285.6,291.56 L286.35,291.65 L287.1,291.79 L287.85,291.96 L288.6,292.12 L289.35,292.25 L290.1,292.35 L290.85,292.44 L291.6,292.57 L292.35,292.74 L293.1,292.92 L293.85,293.08 L294.6,293.19 L295.35,293.22 L296.1,293.18 L296.85,293.1 L297.6,293.03 L298.35,292.99 L299.1,292.99 L299.85,293 L300.6,292.98 L301.35,292.92 L302.1,292.82 L302.85,292.71 L303.6,292.59 L304.35,292.48 L305.1,292.37 L305.85,292.22 L306.6,292.02 L307.35,291.77 L308.1,291.49 L308.85,291.22 L309.6,290.97 L310.35,290.73 L311.1,290.46 L311.85,290.14 L312.6,289.81 L313.35,289.49 L314.1,289.22 L314.85,289 L315.6,288.8 L316.35,288.65 L317.1,288.54 L317.85,288.49 L318.6,288.46 L319.35,288.42 L320.1,288.38 L320.85,288.36 L321.6,288.41 L322.35,288.56 L323.1,288.8 L323.85,289.13 L324.6,289.51 L325.35,289.92 L326.1,290.35 L326.85,290.82 L327.6,291.36 L328.35,291.99 L329.1,292.72 L329.85,293.54 L330.6,294.48 L331.35,295.54 L332.1,296.73 L332.85,298 L333.6,299.31 L334.35,300.65 L335.1,302.01 L335.85,303.39 L336.6,304.83 L337.35,306.35 L338.1,307.95 L338.85,309.65 L339.6,311.38 L340.35,313.1 L341.1,314.75 L341.85,316.3 L342.6,317.72 L343.35,318.99 L344.1,320.11 L344.85,321.04 L345.6,321.75 L346.35,322.24 L347.1,322.46 L347.85,322.4 L348.6,322.08 L349.35,321.56 L350.1,320.93 L350.85,320.27 L351.6,319.6 L352.35,318.91 L353.1,318.18 L353.85,317.41 L354.6,316.65 L355.35,315.95 L356.1,315.31 L356.85,314.69 L357.6,314.05 L358.35,313.35 L359.1,312.64 L359.85,311.99 L360.6,311.4 L361.35,310.77 L362.1,309.99 L362.85,309.02 L363.6,307.93 L364.35,306.88 L365.1,306.01 L365.85,305.32 L366.6,304.71 L367.35,304.09 L368.1,303.43 L368.85,302.78 L369.6,302.2 L370.35,301.75 L371.1,301.43 L371.85,301.17 L372.6,300.89 L373.35,300.49 L374.1,299.89 L374.85,299.12 L375.6,298.26 L376.35,297.48 L377.1,296.91 L377.85,296.58 L378.6,296.43 L379.35,296.34 L380.1,296.19 L380.85,295.94 L381.6,295.57 L382.35,295.08 L383.1,294.51 L383.85,293.93 L384.6,293.44 L385.35,293.08 L386.1,292.8 L386.85,292.56 L387.6,292.33 L388.35,292.15 L389.1,292.05 L389.85,292.04 L390.6,292.08 L391.35,292.15 L392.1,292.22 L392.85,292.23 L393.6,292.13 L394.35,291.9 L395.1,291.57 L395.85,291.22 L396.6,290.91 L397.35,290.64 L398.1,290.38 L398.85,290.15 L399.6,289.96 L400.35,289.85 L401.1,289.78 L401.85,289.69 L402.6,289.56 L403.35,289.41 L404.1,289.29" fill="none" stroke="#5654a6" stroke-width="1.15" stroke-linejoin="round" stroke-linecap="round" />
<path d="M239.1,303.94 L239.85,303.96 L240.6,303.99 L241.35,304.01 L242.1,303.99 L242.85,303.93 L243.6,303.86 L244.35,303.83 L245.1,303.84 L245.85,303.89 L246.6,303.95 L247.35,303.99 L248.1,304.02 L248.85,304.04 L249.6,304.07 L250.35,304.11 L251.1,304.16 L251.85,304.2 L252.6,304.21 L253.35,304.21 L254.1,304.17 L254.85,304.12 L255.6,304.06 L256.35,304.02 L257.1,304.02 L257.85,304.05 L258.6,304.08 L259.35,304.1 L260.1,304.08 L260.85,304.02 L261.6,303.94 L262.35,303.85 L263.1,303.78 L263.85,303.73 L264.6,303.71 L265.35,303.72 L266.1,303.75 L266.85,303.82 L267.6,303.92 L268.35,304.04 L269.1,304.19 L269.85,304.33 L270.6,304.46 L271.35,304.57 L272.1,304.66 L272.85,304.73 L273.6,304.82 L274.35,304.93 L275.1,305.06 L275.85,305.2 L276.6,305.35 L277.35,305.53 L278.1,305.76 L278.85,306.06 L279.6,306.44 L280.35,306.84 L281.1,307.22 L281.85,307.54 L282.6,307.79 L283.35,308.01 L284.1,308.23 L284.85,308.47 L285.6,308.74 L286.35,309 L287.1,309.23 L287.85,309.46 L288.6,309.69 L289.35,309.95 L290.1,310.2 L290.85,310.41 L291.6,310.56 L292.35,310.67 L293.1,310.77 L293.85,310.85 L294.6,310.91 L295.35,310.92 L296.1,310.89 L296.85,310.86 L297.6,310.83 L298.35,310.81 L299.1,310.78 L299.85,310.73 L300.6,310.67 L301.35,310.58 L302.1,310.49 L302.85,310.39 L303.6,310.26 L304.35,310.09 L305.1,309.88 L305.85,309.65 L306.6,309.43 L307.35,309.24 L308.1,309.1 L308.85,308.99 L309.6,308.87 L310.35,308.71 L311.1,308.48 L311.85,308.18 L312.6,307.84 L313.35,307.52 L314.1,307.23 L314.85,307 L315.6,306.86 L316.35,306.78 L317.1,306.76 L317.85,306.78 L318.6,306.83 L319.35,306.89 L320.1,306.95 L320.85,307.02 L321.6,307.12 L322.35,307.25 L323.1,307.46 L323.85,307.77 L324.6,308.2 L325.35,308.72 L326.1,309.31 L326.85,309.99 L327.6,310.78 L328.35,311.69 L329.1,312.72 L329.85,313.83 L330.6,315 L331.35,316.23 L332.1,317.54 L332.85,318.89 L333.6,320.28 L334.35,321.75 L335.1,323.3 L335.85,324.96 L336.6,326.67 L337.35,328.41 L338.1,330.13 L338.85,331.79 L339.6,333.36 L340.35,334.77 L341.1,336 L341.85,337.08 L342.6,338.05 L343.35,338.94 L344.1,339.72 L344.85,340.3 L345.6,340.57 L346.35,340.49 L347.1,340.12 L347.85,339.53 L348.6,338.84 L349.35,338.09 L350.1,337.3 L350.85,336.48 L351.6,335.65 L352.35,334.81 L353.1,333.99 L353.85,333.17 L354.6,332.33 L355.35,331.47 L356.1,330.61 L356.85,329.8 L357.6,329.1 L358.35,328.48 L359.1,327.88 L359.85,327.25 L360.6,326.58 L361.35,325.91 L362.1,325.28 L362.85,324.71 L363.6,324.19 L364.35,323.69 L365.1,323.18 L365.85,322.62 L366.6,321.99 L367.35,321.27 L368.1,320.49 L368.85,319.7 L369.6,318.94 L370.35,318.21 L371.1,317.53 L371.85,316.93 L372.6,316.45 L373.35,316.08 L374.1,315.73 L374.85,315.31 L375.6,314.79 L376.35,314.3 L377.1,313.99 L377.85,313.94 L378.6,314.09 L379.35,314.22 L380.1,314.1 L380.85,313.62 L381.6,312.85 L382.35,312.01 L383.1,311.3 L383.85,310.87 L384.6,310.68 L385.35,310.59 L386.1,310.45 L386.85,310.19 L387.6,309.83 L388.35,309.44 L389.1,309.07 L389.85,308.77 L390.6,308.57 L391.35,308.48 L392.1,308.49 L392.85,308.53 L393.6,308.58 L394.35,308.64 L395.1,308.72 L395.85,308.8 L396.6,308.81 L397.35,308.69 L398.1,308.43 L398.85,308.02 L399.6,307.55 L400.35,307.1 L401.1,306.75 L401.85,306.57 L402.6,306.54 L403.35,306.62 L404.1,306.73" fill="none" stroke="#4b8dc6" stroke-width="1.15" stroke-linejoin="round" stroke-linecap="round" />
<path d="M239.1,319.95 L239.85,319.93 L240.6,319.96 L241.35,320.03 L242.1,320.13 L242.85,320.23 L243.6,320.31 L244.35,320.35 L245.1,320.35 L245.85,320.34 L246.6,320.32 L247.35,320.29 L248.1,320.28 L248.85,320.27 L249.6,320.25 L250.35,320.23 L251.1,320.19 L251.85,320.17 L252.6,320.19 L253.35,320.25 L254.1,320.32 L254.85,320.36 L255.6,320.38 L256.35,320.37 L257.1,320.36 L257.85,320.33 L258.6,320.31 L259.35,320.3 L260.1,320.31 L260.85,320.35 L261.6,320.4 L262.35,320.45 L263.1,320.48 L263.85,320.5 L264.6,320.51 L265.35,320.52 L266.1,320.5 L266.85,320.45 L267.6,320.38 L268.35,320.33 L269.1,320.35 L269.85,320.44 L270.6,320.6 L271.35,320.81 L272.1,321.01 L272.85,321.18 L273.6,321.3 L274.35,321.43 L275.1,321.6 L275.85,321.81 L276.6,322.05 L277.35,322.28 L278.1,322.5 L278.85,322.71 L279.6,322.92 L280.35,323.13 L281.1,323.35 L281.85,323.62 L282.6,323.96 L283.35,324.34 L284.1,324.71 L284.85,325.02 L285.6,325.26 L286.35,325.49 L287.1,325.76 L287.85,326.07 L288.6,326.38 L289.35,326.61 L290.1,326.75 L290.85,326.82 L291.6,326.87 L292.35,326.95 L293.1,327.04 L293.85,327.13 L294.6,327.2 L295.35,327.24 L296.1,327.26 L296.85,327.26 L297.6,327.22 L298.35,327.17 L299.1,327.11 L299.85,327.05 L300.6,326.96 L301.35,326.84 L302.1,326.7 L302.85,326.53 L303.6,326.32 L304.35,326.07 L305.1,325.81 L305.85,325.59 L306.6,325.41 L307.35,325.25 L308.1,325.04 L308.85,324.76 L309.6,324.43 L310.35,324.13 L311.1,323.87 L311.85,323.68 L312.6,323.53 L313.35,323.38 L314.1,323.24 L314.85,323.12 L315.6,323.05 L316.35,323.04 L317.1,323.1 L317.85,323.2 L318.6,323.31 L319.35,323.42 L320.1,323.52 L320.85,323.66 L321.6,323.84 L322.35,324.11 L323.1,324.45 L323.85,324.88 L324.6,325.41 L325.35,326.05 L326.1,326.81 L326.85,327.67 L327.6,328.65 L328.35,329.71 L329.1,330.84 L329.85,332.03 L330.6,333.28 L331.35,334.63 L332.1,336.13 L332.85,337.73 L333.6,339.4 L334.35,341.1 L335.1,342.81 L335.85,344.5 L336.6,346.14 L337.35,347.65 L338.1,348.99 L338.85,350.18 L339.6,351.28 L340.35,352.3 L341.1,353.22 L341.85,353.96 L342.6,354.49 L343.35,354.8 L344.1,354.88 L344.85,354.74 L345.6,354.43 L346.35,354 L347.1,353.51 L347.85,352.95 L348.6,352.26 L349.35,351.41 L350.1,350.44 L350.85,349.52 L351.6,348.76 L352.35,348.18 L353.1,347.64 L353.85,347.01 L354.6,346.22 L355.35,345.33 L356.1,344.46 L356.85,343.7 L357.6,343.07 L358.35,342.53 L359.1,341.96 L359.85,341.29 L360.6,340.52 L361.35,339.69 L362.1,338.87 L362.85,338.13 L363.6,337.5 L364.35,337 L365.1,336.57 L365.85,336.13 L366.6,335.6 L367.35,334.98 L368.1,334.31 L368.85,333.65 L369.6,333.09 L370.35,332.66 L371.1,332.35 L371.85,332.07 L372.6,331.69 L373.35,331.09 L374.1,330.32 L374.85,329.51 L375.6,328.84 L376.35,328.36 L377.1,328.05 L377.85,327.9 L378.6,327.88 L379.35,327.92 L380.1,327.91 L380.85,327.76 L381.6,327.49 L382.35,327.2 L383.1,326.95 L383.85,326.73 L384.6,326.42 L385.35,325.98 L386.1,325.43 L386.85,324.86 L387.6,324.37 L388.35,324.04 L389.1,323.9 L389.85,323.95 L390.6,324.13 L391.35,324.34 L392.1,324.48 L392.85,324.46 L393.6,324.24 L394.35,323.89 L395.1,323.52 L395.85,323.23 L396.6,323.11 L397.35,323.16 L398.1,323.35 L398.85,323.6 L399.6,323.79 L400.35,323.84 L401.1,323.76 L401.85,323.63 L402.6,323.6 L403.35,323.71 L404.1,323.91" fill="none" stroke="#44a0ab" stroke-width="1.15" stroke-linejoin="round" stroke-linecap="round" />
<path d="M239.1,336.65 L239.85,336.6 L240.6,336.54 L241.35,336.47 L242.1,336.42 L242.85,336.4 L243.6,336.4 L244.35,336.4 L245.1,336.38 L245.85,336.34 L246.6,336.29 L247.35,336.27 L248.1,336.29 L248.85,336.35 L249.6,336.41 L250.35,336.44 L251.1,336.46 L251.85,336.46 L252.6,336.45 L253.35,336.43 L254.1,336.4 L254.85,336.37 L255.6,336.36 L256.35,336.36 L257.1,336.38 L257.85,336.4 L258.6,336.44 L259.35,336.48 L260.1,336.52 L260.85,336.57 L261.6,336.61 L262.35,336.64 L263.1,336.66 L263.85,336.65 L264.6,336.63 L265.35,336.6 L266.1,336.63 L266.85,336.75 L267.6,336.95 L268.35,337.18 L269.1,337.38 L269.85,337.51 L270.6,337.62 L271.35,337.76 L272.1,337.96 L272.85,338.24 L273.6,338.59 L274.35,338.95 L275.1,339.3 L275.85,339.59 L276.6,339.86 L277.35,340.12 L278.1,340.39 L278.85,340.7 L279.6,341.06 L280.35,341.45 L281.1,341.85 L281.85,342.22 L282.6,342.51 L283.35,342.74 L284.1,342.89 L284.85,342.99 L285.6,343.07 L286.35,343.17 L287.1,343.32 L287.85,343.5 L288.6,343.71 L289.35,343.9 L290.1,344.06 L290.85,344.18 L291.6,344.28 L292.35,344.35 L293.1,344.41 L293.85,344.47 L294.6,344.5 L295.35,344.52 L296.1,344.5 L296.85,344.45 L297.6,344.38 L298.35,344.29 L299.1,344.18 L299.85,344.04 L300.6,343.89 L301.35,343.71 L302.1,343.51 L302.85,343.28 L303.6,343.02 L304.35,342.76 L305.1,342.5 L305.85,342.25 L306.6,342 L307.35,341.75 L308.1,341.49 L308.85,341.23 L309.6,340.96 L310.35,340.7 L311.1,340.43 L311.85,340.18 L312.6,339.94 L313.35,339.69 L314.1,339.45 L314.85,339.24 L315.6,339.07 L316.35,338.97 L317.1,338.97 L317.85,339.08 L318.6,339.3 L319.35,339.6 L320.1,339.95 L320.85,340.31 L321.6,340.71 L322.35,341.16 L323.1,341.68 L323.85,342.27 L324.6,342.91 L325.35,343.62 L326.1,344.42 L326.85,345.36 L327.6,346.45 L328.35,347.69 L329.1,349.03 L329.85,350.43 L330.6,351.86 L331.35,353.32 L332.1,354.82 L332.85,356.37 L333.6,357.96 L334.35,359.55 L335.1,361.11 L335.85,362.59 L336.6,363.98 L337.35,365.26 L338.1,366.41 L338.85,367.42 L339.6,368.27 L340.35,368.93 L341.1,369.43 L341.85,369.77 L342.6,369.96 L343.35,370.02 L344.1,369.95 L344.85,369.76 L345.6,369.45 L346.35,368.99 L347.1,368.34 L347.85,367.52 L348.6,366.59 L349.35,365.66 L350.1,364.82 L350.85,364.07 L351.6,363.31 L352.35,362.45 L353.1,361.51 L353.85,360.59 L354.6,359.77 L355.35,359.07 L356.1,358.43 L356.85,357.79 L357.6,357.14 L358.35,356.5 L359.1,355.87 L359.85,355.25 L360.6,354.64 L361.35,354.06 L362.1,353.53 L362.85,353.08 L363.6,352.67 L364.35,352.27 L365.1,351.83 L365.85,351.3 L366.6,350.7 L367.35,350.03 L368.1,349.37 L368.85,348.78 L369.6,348.26 L370.35,347.76 L371.1,347.2 L371.85,346.55 L372.6,345.88 L373.35,345.26 L374.1,344.75 L374.85,344.36 L375.6,344.02 L376.35,343.69 L377.1,343.3 L377.85,342.86 L378.6,342.44 L379.35,342.11 L380.1,341.88 L380.85,341.66 L381.6,341.39 L382.35,341.1 L383.1,340.94 L383.85,340.97 L384.6,341.16 L385.35,341.33 L386.1,341.3 L386.85,341.04 L387.6,340.62 L388.35,340.17 L389.1,339.81 L389.85,339.6 L390.6,339.52 L391.35,339.5 L392.1,339.46 L392.85,339.36 L393.6,339.23 L394.35,339.18 L395.1,339.27 L395.85,339.47 L396.6,339.68 L397.35,339.8 L398.1,339.78 L398.85,339.64 L399.6,339.44 L400.35,339.22 L401.1,338.97 L401.85,338.72 L402.6,338.53 L403.35,338.42 L404.1,338.38" fill="none" stroke="#46a4a0" stroke-width="1.15" stroke-linejoin="round" stroke-linecap="round" />
<path d="M239.1,353.12 L239.85,353.06 L240.6,353 L241.35,352.93 L242.1,352.88 L242.85,352.84 L243.6,352.84 L244.35,352.86 L245.1,352.92 L245.85,353.02 L246.6,353.13 L247.35,353.23 L248.1,353.28 L248.85,353.27 L249.6,353.23 L250.35,353.19 L251.1,353.17 L251.85,353.15 L252.6,353.14 L253.35,353.12 L254.1,353.12 L254.85,353.16 L255.6,353.22 L256.35,353.28 L257.1,353.3 L257.85,353.26 L258.6,353.19 L259.35,353.14 L260.1,353.15 L260.85,353.26 L261.6,353.43 L262.35,353.6 L263.1,353.74 L263.85,353.84 L264.6,353.91 L265.35,353.98 L266.1,354.07 L266.85,354.18 L267.6,354.28 L268.35,354.35 L269.1,354.43 L269.85,354.53 L270.6,354.68 L271.35,354.9 L272.1,355.17 L272.85,355.5 L273.6,355.85 L274.35,356.17 L275.1,356.43 L275.85,356.66 L276.6,356.9 L277.35,357.21 L278.1,357.6 L278.85,358.04 L279.6,358.48 L280.35,358.87 L281.1,359.2 L281.85,359.47 L282.6,359.72 L283.35,359.97 L284.1,360.23 L284.85,360.49 L285.6,360.73 L286.35,360.93 L287.1,361.06 L287.85,361.14 L288.6,361.17 L289.35,361.18 L290.1,361.18 L290.85,361.18 L291.6,361.18 L292.35,361.2 L293.1,361.21 L293.85,361.21 L294.6,361.18 L295.35,361.14 L296.1,361.09 L296.85,361.03 L297.6,360.95 L298.35,360.83 L299.1,360.69 L299.85,360.53 L300.6,360.34 L301.35,360.12 L302.1,359.87 L302.85,359.6 L303.6,359.3 L304.35,358.95 L305.1,358.54 L305.85,358.11 L306.6,357.69 L307.35,357.34 L308.1,357.05 L308.85,356.81 L309.6,356.57 L310.35,356.32 L311.1,356.06 L311.85,355.78 L312.6,355.49 L313.35,355.22 L314.1,354.99 L314.85,354.83 L315.6,354.75 L316.35,354.75 L317.1,354.83 L317.85,354.97 L318.6,355.22 L319.35,355.57 L320.1,356.01 L320.85,356.53 L321.6,357.08 L322.35,357.69 L323.1,358.34 L323.85,359.05 L324.6,359.83 L325.35,360.68 L326.1,361.63 L326.85,362.71 L327.6,363.92 L328.35,365.23 L329.1,366.64 L329.85,368.1 L330.6,369.6 L331.35,371.12 L332.1,372.64 L332.85,374.16 L333.6,375.66 L334.35,377.11 L335.1,378.5 L335.85,379.81 L336.6,381.06 L337.35,382.21 L338.1,383.26 L338.85,384.16 L339.6,384.87 L340.35,385.34 L341.1,385.54 L341.85,385.45 L342.6,385.15 L343.35,384.69 L344.1,384.16 L344.85,383.57 L345.6,382.95 L346.35,382.3 L347.1,381.6 L347.85,380.86 L348.6,380.07 L349.35,379.22 L350.1,378.32 L350.85,377.37 L351.6,376.38 L352.35,375.39 L353.1,374.46 L353.85,373.64 L354.6,372.93 L355.35,372.28 L356.1,371.61 L356.85,370.9 L357.6,370.16 L358.35,369.47 L359.1,368.85 L359.85,368.26 L360.6,367.68 L361.35,367.07 L362.1,366.45 L362.85,365.8 L363.6,365.13 L364.35,364.45 L365.1,363.84 L365.85,363.33 L366.6,362.95 L367.35,362.67 L368.1,362.45 L368.85,362.26 L369.6,362.06 L370.35,361.82 L371.1,361.56 L371.85,361.24 L372.6,360.84 L373.35,360.33 L374.1,359.75 L374.85,359.19 L375.6,358.77 L376.35,358.46 L377.1,358.19 L377.85,357.85 L378.6,357.44 L379.35,357.04 L380.1,356.75 L380.85,356.62 L381.6,356.62 L382.35,356.68 L383.1,356.74 L383.85,356.73 L384.6,356.65 L385.35,356.53 L386.1,356.38 L386.85,356.19 L387.6,355.97 L388.35,355.77 L389.1,355.64 L389.85,355.59 L390.6,355.57 L391.35,355.48 L392.1,355.32 L392.85,355.14 L393.6,355 L394.35,354.94 L395.1,354.94 L395.85,354.94 L396.6,354.92 L397.35,354.89 L398.1,354.91 L398.85,354.97 L399.6,355.02 L400.35,355.02 L401.1,355 L401.85,354.99 L402.6,355.02 L403.35,355.07 L404.1,355.15" fill="none" stroke="#70bbab" stroke-width="1.15" stroke-linejoin="round" stroke-linecap="round" />
<path d="M239.1,369.95 L239.85,369.89 L240.6,369.82 L241.35,369.77 L242.1,369.76 L242.85,369.79 L243.6,369.85 L244.35,369.92 L245.1,369.99 L245.85,370.05 L246.6,370.08 L247.35,370.06 L248.1,370.02 L248.85,369.98 L249.6,369.97 L250.35,369.99 L251.1,370.02 L251.85,370.04 L252.6,370.05 L253.35,370.03 L254.1,369.98 L254.85,369.93 L255.6,369.89 L256.35,369.89 L257.1,369.94 L257.85,370.06 L258.6,370.24 L259.35,370.44 L260.1,370.6 L260.85,370.68 L261.6,370.67 L262.35,370.62 L263.1,370.59 L263.85,370.61 L264.6,370.69 L265.35,370.8 L266.1,370.95 L266.85,371.13 L267.6,371.32 L268.35,371.53 L269.1,371.75 L269.85,372 L270.6,372.27 L271.35,372.57 L272.1,372.89 L272.85,373.21 L273.6,373.54 L274.35,373.87 L275.1,374.2 L275.85,374.54 L276.6,374.88 L277.35,375.22 L278.1,375.56 L278.85,375.94 L279.6,376.34 L280.35,376.77 L281.1,377.19 L281.85,377.56 L282.6,377.87 L283.35,378.12 L284.1,378.31 L284.85,378.44 L285.6,378.51 L286.35,378.51 L287.1,378.49 L287.85,378.46 L288.6,378.45 L289.35,378.46 L290.1,378.46 L290.85,378.44 L291.6,378.42 L292.35,378.42 L293.1,378.45 L293.85,378.49 L294.6,378.51 L295.35,378.47 L296.1,378.35 L296.85,378.15 L297.6,377.89 L298.35,377.59 L299.1,377.27 L299.85,376.91 L300.6,376.54 L301.35,376.14 L302.1,375.76 L302.85,375.41 L303.6,375.09 L304.35,374.8 L305.1,374.53 L305.85,374.26 L306.6,373.98 L307.35,373.68 L308.1,373.36 L308.85,373 L309.6,372.64 L310.35,372.34 L311.1,372.14 L311.85,372.05 L312.6,372.01 L313.35,371.99 L314.1,371.96 L314.85,371.92 L315.6,371.91 L316.35,371.95 L317.1,372.06 L317.85,372.23 L318.6,372.49 L319.35,372.84 L320.1,373.29 L320.85,373.87 L321.6,374.58 L322.35,375.41 L323.1,376.34 L323.85,377.31 L324.6,378.31 L325.35,379.33 L326.1,380.39 L326.85,381.54 L327.6,382.78 L328.35,384.11 L329.1,385.52 L329.85,386.96 L330.6,388.39 L331.35,389.77 L332.1,391.12 L332.85,392.44 L333.6,393.72 L334.35,394.91 L335.1,396 L335.85,396.98 L336.6,397.85 L337.35,398.58 L338.1,399.12 L338.85,399.46 L339.6,399.56 L340.35,399.43 L341.1,399.11 L341.85,398.65 L342.6,398.08 L343.35,397.4 L344.1,396.62 L344.85,395.78 L345.6,394.9 L346.35,394.05 L347.1,393.26 L347.85,392.57 L348.6,391.95 L349.35,391.37 L350.1,390.75 L350.85,390.08 L351.6,389.33 L352.35,388.5 L353.1,387.61 L353.85,386.69 L354.6,385.83 L355.35,385.13 L356.1,384.61 L356.85,384.23 L357.6,383.86 L358.35,383.39 L359.1,382.74 L359.85,381.97 L360.6,381.18 L361.35,380.48 L362.1,379.92 L362.85,379.48 L363.6,379.1 L364.35,378.72 L365.1,378.28 L365.85,377.79 L366.6,377.28 L367.35,376.77 L368.1,376.33 L368.85,375.96 L369.6,375.64 L370.35,375.33 L371.1,375 L371.85,374.65 L372.6,374.31 L373.35,374.04 L374.1,373.89 L374.85,373.86 L375.6,373.88 L376.35,373.87 L377.1,373.74 L377.85,373.5 L378.6,373.18 L379.35,372.82 L380.1,372.48 L380.85,372.18 L381.6,371.95 L382.35,371.78 L383.1,371.65 L383.85,371.51 L384.6,371.34 L385.35,371.12 L386.1,370.91 L386.85,370.74 L387.6,370.62 L388.35,370.53 L389.1,370.48 L389.85,370.47 L390.6,370.54 L391.35,370.65 L392.1,370.77 L392.85,370.86 L393.6,370.93 L394.35,370.98 L395.1,370.99 L395.85,370.95 L396.6,370.86 L397.35,370.75 L398.1,370.66 L398.85,370.62 L399.6,370.63 L400.35,370.66 L401.1,370.67 L401.85,370.64 L402.6,370.59 L403.35,370.58 L404.1,370.67" fill="none" stroke="#bcdbb6" stroke-width="1.15" stroke-linejoin="round" stroke-linecap="round" />
<path d="M239.1,387.36 L239.85,387.39 L240.6,387.45 L241.35,387.52 L242.1,387.57 L242.85,387.59 L243.6,387.57 L244.35,387.52 L245.1,387.46 L245.85,387.41 L246.6,387.36 L247.35,387.3 L248.1,387.24 L248.85,387.18 L249.6,387.14 L250.35,387.12 L251.1,387.11 L251.85,387.1 L252.6,387.1 L253.35,387.1 L254.1,387.12 L254.85,387.16 L255.6,387.23 L256.35,387.31 L257.1,387.38 L257.85,387.4 L258.6,387.36 L259.35,387.3 L260.1,387.27 L260.85,387.3 L261.6,387.38 L262.35,387.49 L263.1,387.6 L263.85,387.71 L264.6,387.82 L265.35,387.95 L266.1,388.1 L266.85,388.26 L267.6,388.41 L268.35,388.55 L269.1,388.67 L269.85,388.8 L270.6,388.97 L271.35,389.2 L272.1,389.5 L272.85,389.83 L273.6,390.16 L274.35,390.48 L275.1,390.81 L275.85,391.15 L276.6,391.52 L277.35,391.89 L278.1,392.25 L278.85,392.54 L279.6,392.78 L280.35,392.98 L281.1,393.17 L281.85,393.38 L282.6,393.62 L283.35,393.85 L284.1,394.07 L284.85,394.27 L285.6,394.44 L286.35,394.58 L287.1,394.69 L287.85,394.78 L288.6,394.86 L289.35,394.91 L290.1,394.94 L290.85,394.95 L291.6,394.96 L292.35,394.96 L293.1,394.93 L293.85,394.87 L294.6,394.8 L295.35,394.73 L296.1,394.66 L296.85,394.56 L297.6,394.4 L298.35,394.15 L299.1,393.83 L299.85,393.47 L300.6,393.09 L301.35,392.73 L302.1,392.39 L302.85,392.08 L303.6,391.8 L304.35,391.51 L305.1,391.21 L305.85,390.91 L306.6,390.6 L307.35,390.28 L308.1,389.96 L308.85,389.65 L309.6,389.34 L310.35,389.06 L311.1,388.82 L311.85,388.61 L312.6,388.42 L313.35,388.26 L314.1,388.16 L314.85,388.13 L315.6,388.2 L316.35,388.38 L317.1,388.65 L317.85,388.98 L318.6,389.37 L319.35,389.82 L320.1,390.33 L320.85,390.93 L321.6,391.6 L322.35,392.35 L323.1,393.18 L323.85,394.07 L324.6,395.01 L325.35,396 L326.1,397.02 L326.85,398.07 L327.6,399.15 L328.35,400.24 L329.1,401.34 L329.85,402.45 L330.6,403.55 L331.35,404.65 L332.1,405.71 L332.85,406.73 L333.6,407.7 L334.35,408.58 L335.1,409.38 L335.85,410.07 L336.6,410.6 L337.35,410.95 L338.1,411.1 L338.85,411.07 L339.6,410.89 L340.35,410.58 L341.1,410.18 L341.85,409.69 L342.6,409.11 L343.35,408.44 L344.1,407.7 L344.85,406.94 L345.6,406.2 L346.35,405.5 L347.1,404.84 L347.85,404.21 L348.6,403.62 L349.35,403.06 L350.1,402.52 L350.85,402 L351.6,401.47 L352.35,400.92 L353.1,400.34 L353.85,399.73 L354.6,399.08 L355.35,398.4 L356.1,397.73 L356.85,397.1 L357.6,396.53 L358.35,396.05 L359.1,395.62 L359.85,395.22 L360.6,394.84 L361.35,394.47 L362.1,394.13 L362.85,393.8 L363.6,393.5 L364.35,393.22 L365.1,392.93 L365.85,392.6 L366.6,392.22 L367.35,391.83 L368.1,391.49 L368.85,391.24 L369.6,391.03 L370.35,390.8 L371.1,390.51 L371.85,390.16 L372.6,389.75 L373.35,389.36 L374.1,389.02 L374.85,388.75 L375.6,388.56 L376.35,388.4 L377.1,388.26 L377.85,388.14 L378.6,388.03 L379.35,387.95 L380.1,387.89 L380.85,387.84 L381.6,387.8 L382.35,387.8 L383.1,387.86 L383.85,387.93 L384.6,387.96 L385.35,387.88 L386.1,387.69 L386.85,387.44 L387.6,387.21 L388.35,387.08 L389.1,387.07 L389.85,387.18 L390.6,387.38 L391.35,387.64 L392.1,387.92 L392.85,388.16 L393.6,388.29 L394.35,388.25 L395.1,388.03 L395.85,387.71 L396.6,387.4 L397.35,387.2 L398.1,387.17 L398.85,387.26 L399.6,387.4 L400.35,387.5 L401.1,387.55 L401.85,387.57 L402.6,387.61 L403.35,387.68 L404.1,387.75" fill="none" stroke="#b0d4a5" stroke-width="1.15" stroke-linejoin="round" stroke-linecap="round" />
<path d="M239.1,403.12 L239.85,403.12 L240.6,403.11 L241.35,403.1 L242.1,403.08 L242.85,403.06 L243.6,403.02 L244.35,403 L245.1,403.02 L245.85,403.1 L246.6,403.22 L247.35,403.33 L248.1,403.41 L248.85,403.45 L249.6,403.45 L250.35,403.44 L251.1,403.42 L251.85,403.39 L252.6,403.35 L253.35,403.31 L254.1,403.28 L254.85,403.25 L255.6,403.24 L256.35,403.22 L257.1,403.2 L257.85,403.16 L258.6,403.12 L259.35,403.09 L260.1,403.08 L260.85,403.08 L261.6,403.1 L262.35,403.12 L263.1,403.13 L263.85,403.15 L264.6,403.17 L265.35,403.24 L266.1,403.35 L266.85,403.5 L267.6,403.67 L268.35,403.84 L269.1,404.01 L269.85,404.21 L270.6,404.44 L271.35,404.68 L272.1,404.91 L272.85,405.12 L273.6,405.32 L274.35,405.55 L275.1,405.8 L275.85,406.08 L276.6,406.39 L277.35,406.73 L278.1,407.07 L278.85,407.38 L279.6,407.63 L280.35,407.8 L281.1,407.92 L281.85,408.05 L282.6,408.22 L283.35,408.44 L284.1,408.69 L284.85,408.94 L285.6,409.17 L286.35,409.36 L287.1,409.52 L287.85,409.66 L288.6,409.77 L289.35,409.84 L290.1,409.86 L290.85,409.83 L291.6,409.78 L292.35,409.75 L293.1,409.77 L293.85,409.81 L294.6,409.83 L295.35,409.8 L296.1,409.72 L296.85,409.6 L297.6,409.45 L298.35,409.31 L299.1,409.16 L299.85,408.99 L300.6,408.79 L301.35,408.56 L302.1,408.28 L302.85,408 L303.6,407.73 L304.35,407.49 L305.1,407.27 L305.85,407.06 L306.6,406.82 L307.35,406.56 L308.1,406.28 L308.85,406.02 L309.6,405.83 L310.35,405.7 L311.1,405.61 L311.85,405.52 L312.6,405.42 L313.35,405.31 L314.1,405.22 L314.85,405.16 L315.6,405.14 L316.35,405.16 L317.1,405.26 L317.85,405.41 L318.6,405.64 L319.35,405.92 L320.1,406.26 L320.85,406.66 L321.6,407.14 L322.35,407.69 L323.1,408.33 L323.85,409.07 L324.6,409.9 L325.35,410.79 L326.1,411.7 L326.85,412.62 L327.6,413.55 L328.35,414.5 L329.1,415.46 L329.85,416.42 L330.6,417.35 L331.35,418.23 L332.1,419.06 L332.85,419.83 L333.6,420.51 L334.35,421.11 L335.1,421.62 L335.85,422.04 L336.6,422.37 L337.35,422.61 L338.1,422.74 L338.85,422.75 L339.6,422.61 L340.35,422.35 L341.1,421.96 L341.85,421.49 L342.6,420.95 L343.35,420.37 L344.1,419.79 L344.85,419.22 L345.6,418.68 L346.35,418.16 L347.1,417.64 L347.85,417.11 L348.6,416.58 L349.35,416.06 L350.1,415.55 L350.85,415.05 L351.6,414.56 L352.35,414.09 L353.1,413.62 L353.85,413.12 L354.6,412.63 L355.35,412.19 L356.1,411.84 L356.85,411.6 L357.6,411.44 L358.35,411.33 L359.1,411.22 L359.85,411.05 L360.6,410.78 L361.35,410.4 L362.1,409.94 L362.85,409.46 L363.6,408.97 L364.35,408.48 L365.1,408 L365.85,407.55 L366.6,407.15 L367.35,406.82 L368.1,406.53 L368.85,406.26 L369.6,406.03 L370.35,405.85 L371.1,405.75 L371.85,405.72 L372.6,405.7 L373.35,405.65 L374.1,405.54 L374.85,405.4 L375.6,405.23 L376.35,405.06 L377.1,404.89 L377.85,404.71 L378.6,404.54 L379.35,404.39 L380.1,404.26 L380.85,404.11 L381.6,403.91 L382.35,403.69 L383.1,403.56 L383.85,403.59 L384.6,403.77 L385.35,404.01 L386.1,404.18 L386.85,404.19 L387.6,404.04 L388.35,403.85 L389.1,403.74 L389.85,403.78 L390.6,403.94 L391.35,404.1 L392.1,404.13 L392.85,403.95 L393.6,403.61 L394.35,403.2 L395.1,402.84 L395.85,402.6 L396.6,402.54 L397.35,402.66 L398.1,402.93 L398.85,403.27 L399.6,403.57 L400.35,403.75 L401.1,403.81 L401.85,403.77 L402.6,403.72 L403.35,403.69 L404.1,403.71" fill="none" stroke="#f5cf90" stroke-width="1.15" stroke-linejoin="round" stroke-linecap="round" />
<path d="M239.1,420.78 L239.85,420.8 L240.6,420.84 L241.35,420.87 L242.1,420.87 L242.85,420.84 L243.6,420.81 L244.35,420.8 L245.1,420.8 L245.85,420.8 L246.6,420.78 L247.35,420.76 L248.1,420.77 L248.85,420.8 L249.6,420.85 L250.35,420.88 L251.1,420.89 L251.85,420.88 L252.6,420.87 L253.35,420.88 L254.1,420.9 L254.85,420.91 L255.6,420.91 L256.35,420.89 L257.1,420.9 L257.85,420.92 L258.6,420.95 L259.35,421 L260.1,421.03 L260.85,421.05 L261.6,421.03 L262.35,420.99 L263.1,420.96 L263.85,420.97 L264.6,421.03 L265.35,421.13 L266.1,421.24 L266.85,421.32 L267.6,421.38 L268.35,421.43 L269.1,421.48 L269.85,421.55 L270.6,421.63 L271.35,421.72 L272.1,421.81 L272.85,421.89 L273.6,421.96 L274.35,422.05 L275.1,422.16 L275.85,422.28 L276.6,422.41 L277.35,422.54 L278.1,422.67 L278.85,422.8 L279.6,422.95 L280.35,423.09 L281.1,423.2 L281.85,423.26 L282.6,423.29 L283.35,423.34 L284.1,423.44 L284.85,423.59 L285.6,423.76 L286.35,423.89 L287.1,424 L287.85,424.07 L288.6,424.12 L289.35,424.16 L290.1,424.17 L290.85,424.16 L291.6,424.11 L292.35,424.03 L293.1,423.92 L293.85,423.81 L294.6,423.71 L295.35,423.65 L296.1,423.61 L296.85,423.6 L297.6,423.59 L298.35,423.55 L299.1,423.49 L299.85,423.39 L300.6,423.24 L301.35,423.06 L302.1,422.86 L302.85,422.67 L303.6,422.51 L304.35,422.41 L305.1,422.35 L305.85,422.31 L306.6,422.28 L307.35,422.24 L308.1,422.17 L308.85,422.07 L309.6,421.96 L310.35,421.86 L311.1,421.79 L311.85,421.74 L312.6,421.7 L313.35,421.66 L314.1,421.63 L314.85,421.63 L315.6,421.67 L316.35,421.73 L317.1,421.81 L317.85,421.9 L318.6,421.98 L319.35,422.06 L320.1,422.14 L320.85,422.27 L321.6,422.44 L322.35,422.66 L323.1,422.9 L323.85,423.15 L324.6,423.39 L325.35,423.61 L326.1,423.84 L326.85,424.11 L327.6,424.41 L328.35,424.75 L329.1,425.07 L329.85,425.37 L330.6,425.66 L331.35,425.97 L332.1,426.35 L332.85,426.8 L333.6,427.28 L334.35,427.71 L335.1,428.05 L335.85,428.31 L336.6,428.57 L337.35,428.87 L338.1,429.2 L338.85,429.48 L339.6,429.69 L340.35,429.82 L341.1,429.91 L341.85,430.01 L342.6,430.14 L343.35,430.31 L344.1,430.49 L344.85,430.64 L345.6,430.7 L346.35,430.63 L347.1,430.43 L347.85,430.12 L348.6,429.77 L349.35,429.42 L350.1,429.14 L350.85,428.93 L351.6,428.76 L352.35,428.57 L353.1,428.33 L353.85,428 L354.6,427.62 L355.35,427.24 L356.1,426.93 L356.85,426.72 L357.6,426.59 L358.35,426.49 L359.1,426.35 L359.85,426.14 L360.6,425.89 L361.35,425.62 L362.1,425.38 L362.85,425.15 L363.6,424.88 L364.35,424.56 L365.1,424.23 L365.85,423.96 L366.6,423.79 L367.35,423.69 L368.1,423.62 L368.85,423.56 L369.6,423.49 L370.35,423.41 L371.1,423.32 L371.85,423.25 L372.6,423.22 L373.35,423.22 L374.1,423.2 L374.85,423.11 L375.6,422.96 L376.35,422.8 L377.1,422.67 L377.85,422.58 L378.6,422.55 L379.35,422.58 L380.1,422.66 L380.85,422.78 L381.6,422.86 L382.35,422.84 L383.1,422.74 L383.85,422.62 L384.6,422.53 L385.35,422.43 L386.1,422.27 L386.85,422.03 L387.6,421.77 L388.35,421.6 L389.1,421.59 L389.85,421.7 L390.6,421.87 L391.35,422.03 L392.1,422.14 L392.85,422.21 L393.6,422.25 L394.35,422.24 L395.1,422.21 L395.85,422.17 L396.6,422.17 L397.35,422.21 L398.1,422.25 L398.85,422.28 L399.6,422.3 L400.35,422.34 L401.1,422.4 L401.85,422.45 L402.6,422.41 L403.35,422.29 L404.1,422.14" fill="none" stroke="#f3c182" stroke-width="1.15" stroke-linejoin="round" stroke-linecap="round" />
<path d="M239.1,437.05 L239.85,437.04 L240.6,437.05 L241.35,437.07 L242.1,437.09 L242.85,437.1 L243.6,437.06 L244.35,437 L245.1,436.93 L245.85,436.89 L246.6,436.92 L247.35,437.01 L248.1,437.12 L248.85,437.22 L249.6,437.3 L250.35,437.39 L251.1,437.49 L251.85,437.59 L252.6,437.64 L253.35,437.62 L254.1,437.55 L254.85,437.44 L255.6,437.31 L256.35,437.18 L257.1,437.06 L257.85,437 L258.6,437 L259.35,437.08 L260.1,437.18 L260.85,437.28 L261.6,437.34 L262.35,437.37 L263.1,437.37 L263.85,437.35 L264.6,437.34 L265.35,437.37 L266.1,437.46 L266.85,437.58 L267.6,437.71 L268.35,437.8 L269.1,437.85 L269.85,437.87 L270.6,437.88 L271.35,437.89 L272.1,437.92 L272.85,437.96 L273.6,438.02 L274.35,438.09 L275.1,438.17 L275.85,438.26 L276.6,438.36 L277.35,438.48 L278.1,438.61 L278.85,438.76 L279.6,438.9 L280.35,439.02 L281.1,439.11 L281.85,439.19 L282.6,439.29 L283.35,439.4 L284.1,439.51 L284.85,439.59 L285.6,439.62 L286.35,439.62 L287.1,439.6 L287.85,439.58 L288.6,439.56 L289.35,439.51 L290.1,439.42 L290.85,439.3 L291.6,439.18 L292.35,439.1 L293.1,439.08 L293.85,439.08 L294.6,439.06 L295.35,439 L296.1,438.89 L296.85,438.75 L297.6,438.6 L298.35,438.46 L299.1,438.33 L299.85,438.2 L300.6,438.06 L301.35,437.92 L302.1,437.8 L302.85,437.73 L303.6,437.69 L304.35,437.66 L305.1,437.64 L305.85,437.61 L306.6,437.59 L307.35,437.58 L308.1,437.58 L308.85,437.59 L309.6,437.6 L310.35,437.63 L311.1,437.66 L311.85,437.68 L312.6,437.71 L313.35,437.75 L314.1,437.8 L314.85,437.83 L315.6,437.83 L316.35,437.81 L317.1,437.75 L317.85,437.69 L318.6,437.62 L319.35,437.58 L320.1,437.57 L320.85,437.62 L321.6,437.72 L322.35,437.82 L323.1,437.89 L323.85,437.9 L324.6,437.84 L325.35,437.75 L326.1,437.66 L326.85,437.6 L327.6,437.59 L328.35,437.6 L329.1,437.62 L329.85,437.64 L330.6,437.65 L331.35,437.66 L332.1,437.71 L332.85,437.77 L333.6,437.85 L334.35,437.9 L335.1,437.93 L335.85,437.91 L336.6,437.86 L337.35,437.78 L338.1,437.7 L338.85,437.67 L339.6,437.72 L340.35,437.89 L341.1,438.14 L341.85,438.44 L342.6,438.74 L343.35,439 L344.1,439.21 L344.85,439.35 L345.6,439.45 L346.35,439.55 L347.1,439.74 L347.85,440.01 L348.6,440.29 L349.35,440.54 L350.1,440.75 L350.85,440.95 L351.6,441.14 L352.35,441.35 L353.1,441.61 L353.85,441.94 L354.6,442.32 L355.35,442.7 L356.1,443 L356.85,443.19 L357.6,443.27 L358.35,443.27 L359.1,443.23 L359.85,443.22 L360.6,443.26 L361.35,443.34 L362.1,443.39 L362.85,443.3 L363.6,443.07 L364.35,442.73 L365.1,442.37 L365.85,442 L366.6,441.6 L367.35,441.18 L368.1,440.79 L368.85,440.51 L369.6,440.36 L370.35,440.32 L371.1,440.29 L371.85,440.21 L372.6,440.05 L373.35,439.82 L374.1,439.57 L374.85,439.31 L375.6,439.09 L376.35,438.94 L377.1,438.87 L377.85,438.86 L378.6,438.88 L379.35,438.85 L380.1,438.7 L380.85,438.45 L381.6,438.19 L382.35,438.05 L383.1,438.12 L383.85,438.37 L384.6,438.66 L385.35,438.83 L386.1,438.8 L386.85,438.63 L387.6,438.4 L388.35,438.2 L389.1,438.08 L389.85,438.06 L390.6,438.11 L391.35,438.18 L392.1,438.21 L392.85,438.16 L393.6,438.06 L394.35,437.98 L395.1,437.92 L395.85,437.9 L396.6,437.92 L397.35,437.97 L398.1,438.03 L398.85,438.08 L399.6,438.11 L400.35,438.16 L401.1,438.25 L401.85,438.38 L402.6,438.47 L403.35,438.47 L404.1,438.39" fill="none" stroke="#ee9c70" stroke-width="1.15" stroke-linejoin="round" stroke-linecap="round" />
<path d="M239.1,454.53 L239.85,454.6 L240.6,454.66 L241.35,454.67 L242.1,454.65 L242.85,454.61 L243.6,454.55 L244.35,454.5 L245.1,454.45 L245.85,454.42 L246.6,454.39 L247.35,454.36 L248.1,454.34 L248.85,454.33 L249.6,454.36 L250.35,454.42 L251.1,454.5 L251.85,454.57 L252.6,454.62 L253.35,454.63 L254.1,454.62 L254.85,454.58 L255.6,454.53 L256.35,454.5 L257.1,454.52 L257.85,454.56 L258.6,454.62 L259.35,454.66 L260.1,454.67 L260.85,454.67 L261.6,454.66 L262.35,454.67 L263.1,454.69 L263.85,454.71 L264.6,454.72 L265.35,454.71 L266.1,454.67 L266.85,454.59 L267.6,454.47 L268.35,454.35 L269.1,454.27 L269.85,454.24 L270.6,454.26 L271.35,454.31 L272.1,454.38 L272.85,454.45 L273.6,454.52 L274.35,454.58 L275.1,454.65 L275.85,454.7 L276.6,454.74 L277.35,454.75 L278.1,454.74 L278.85,454.7 L279.6,454.66 L280.35,454.61 L281.1,454.6 L281.85,454.62 L282.6,454.67 L283.35,454.7 L284.1,454.71 L284.85,454.7 L285.6,454.7 L286.35,454.71 L287.1,454.74 L287.85,454.76 L288.6,454.73 L289.35,454.65 L290.1,454.56 L290.85,454.5 L291.6,454.47 L292.35,454.48 L293.1,454.48 L293.85,454.49 L294.6,454.5 L295.35,454.55 L296.1,454.63 L296.85,454.71 L297.6,454.74 L298.35,454.72 L299.1,454.67 L299.85,454.64 L300.6,454.64 L301.35,454.69 L302.1,454.76 L302.85,454.83 L303.6,454.86 L304.35,454.86 L305.1,454.83 L305.85,454.79 L306.6,454.74 L307.35,454.69 L308.1,454.65 L308.85,454.65 L309.6,454.68 L310.35,454.73 L311.1,454.77 L311.85,454.78 L312.6,454.77 L313.35,454.77 L314.1,454.79 L314.85,454.82 L315.6,454.85 L316.35,454.88 L317.1,454.9 L317.85,454.91 L318.6,454.91 L319.35,454.91 L320.1,454.9 L320.85,454.89 L321.6,454.88 L322.35,454.87 L323.1,454.86 L323.85,454.86 L324.6,454.87 L325.35,454.92 L326.1,454.99 L326.85,455.06 L327.6,455.12 L328.35,455.15 L329.1,455.17 L329.85,455.21 L330.6,455.27 L331.35,455.33 L332.1,455.37 L332.85,455.38 L333.6,455.35 L334.35,455.29 L335.1,455.2 L335.85,455.1 L336.6,455.01 L337.35,454.95 L338.1,454.95 L338.85,455.01 L339.6,455.12 L340.35,455.25 L341.1,455.35 L341.85,455.4 L342.6,455.38 L343.35,455.32 L344.1,455.25 L344.85,455.19 L345.6,455.17 L346.35,455.23 L347.1,455.4 L347.85,455.7 L348.6,456.08 L349.35,456.45 L350.1,456.7 L350.85,456.81 L351.6,456.81 L352.35,456.78 L353.1,456.79 L353.85,456.88 L354.6,457.04 L355.35,457.24 L356.1,457.44 L356.85,457.61 L357.6,457.78 L358.35,457.96 L359.1,458.19 L359.85,458.43 L360.6,458.64 L361.35,458.79 L362.1,458.9 L362.85,458.97 L363.6,458.97 L364.35,458.86 L365.1,458.59 L365.85,458.2 L366.6,457.75 L367.35,457.32 L368.1,456.94 L368.85,456.62 L369.6,456.33 L370.35,456.07 L371.1,455.91 L371.85,455.91 L372.6,456.11 L373.35,456.44 L374.1,456.76 L374.85,456.94 L375.6,456.95 L376.35,456.82 L377.1,456.62 L377.85,456.4 L378.6,456.16 L379.35,455.89 L380.1,455.62 L380.85,455.36 L381.6,455.09 L382.35,454.82 L383.1,454.58 L383.85,454.43 L384.6,454.4 L385.35,454.48 L386.1,454.64 L386.85,454.85 L387.6,455.09 L388.35,455.33 L389.1,455.55 L389.85,455.75 L390.6,455.91 L391.35,456.01 L392.1,456 L392.85,455.88 L393.6,455.67 L394.35,455.46 L395.1,455.31 L395.85,455.27 L396.6,455.32 L397.35,455.39 L398.1,455.42 L398.85,455.39 L399.6,455.31 L400.35,455.18 L401.1,455.04 L401.85,454.94 L402.6,454.93 L403.35,455.04 L404.1,455.23" fill="none" stroke="#e67d78" stroke-width="1.15" stroke-linejoin="round" stroke-linecap="round" />
<path d="M239.1,467.33 L239.85,467.28 L240.6,467.24 L241.35,467.2 L242.1,467.17 L242.85,467.16 L243.6,467.18 L244.35,467.22 L245.1,467.28 L245.85,467.34 L246.6,467.39 L247.35,467.43 L248.1,467.47 L248.85,467.5 L249.6,467.53 L250.35,467.54 L251.1,467.54 L251.85,467.53 L252.6,467.5 L253.35,467.45 L254.1,467.39 L254.85,467.32 L255.6,467.28 L256.35,467.26 L257.1,467.26 L257.85,467.27 L258.6,467.28 L259.35,467.3 L260.1,467.32 L260.85,467.37 L261.6,467.44 L262.35,467.51 L263.1,467.58 L263.85,467.6 L264.6,467.58 L265.35,467.51 L266.1,467.41 L266.85,467.32 L267.6,467.26 L268.35,467.23 L269.1,467.23 L269.85,467.24 L270.6,467.27 L271.35,467.31 L272.1,467.35 L272.85,467.34 L273.6,467.3 L274.35,467.24 L275.1,467.19 L275.85,467.18 L276.6,467.21 L277.35,467.27 L278.1,467.35 L278.85,467.41 L279.6,467.45 L280.35,467.47 L281.1,467.47 L281.85,467.45 L282.6,467.42 L283.35,467.38 L284.1,467.36 L284.85,467.39 L285.6,467.45 L286.35,467.51 L287.1,467.53 L287.85,467.5 L288.6,467.43 L289.35,467.37 L290.1,467.31 L290.85,467.27 L291.6,467.23 L292.35,467.18 L293.1,467.11 L293.85,467.05 L294.6,467 L295.35,466.97 L296.1,466.96 L296.85,466.97 L297.6,466.99 L298.35,467.05 L299.1,467.14 L299.85,467.27 L300.6,467.39 L301.35,467.46 L302.1,467.47 L302.85,467.43 L303.6,467.37 L304.35,467.3 L305.1,467.23 L305.85,467.18 L306.6,467.14 L307.35,467.12 L308.1,467.12 L308.85,467.14 L309.6,467.18 L310.35,467.23 L311.1,467.3 L311.85,467.36 L312.6,467.43 L313.35,467.47 L314.1,467.48 L314.85,467.45 L315.6,467.41 L316.35,467.35 L317.1,467.32 L317.85,467.3 L318.6,467.31 L319.35,467.33 L320.1,467.35 L320.85,467.37 L321.6,467.41 L322.35,467.49 L323.1,467.59 L323.85,467.66 L324.6,467.67 L325.35,467.59 L326.1,467.47 L326.85,467.35 L327.6,467.28 L328.35,467.26 L329.1,467.26 L329.85,467.24 L330.6,467.17 L331.35,467.08 L332.1,467.03 L332.85,467.05 L333.6,467.13 L334.35,467.23 L335.1,467.28 L335.85,467.25 L336.6,467.18 L337.35,467.14 L338.1,467.19 L338.85,467.32 L339.6,467.44 L340.35,467.49 L341.1,467.46 L341.85,467.42 L342.6,467.44 L343.35,467.58 L344.1,467.78 L344.85,467.99 L345.6,468.18 L346.35,468.37 L347.1,468.57 L347.85,468.76 L348.6,468.86 L349.35,468.84 L350.1,468.74 L350.85,468.64 L351.6,468.63 L352.35,468.75 L353.1,468.99 L353.85,469.29 L354.6,469.6 L355.35,469.87 L356.1,470.12 L356.85,470.34 L357.6,470.52 L358.35,470.6 L359.1,470.54 L359.85,470.39 L360.6,470.22 L361.35,470.12 L362.1,470.12 L362.85,470.17 L363.6,470.19 L364.35,470.13 L365.1,469.99 L365.85,469.79 L366.6,469.59 L367.35,469.41 L368.1,469.2 L368.85,468.92 L369.6,468.57 L370.35,468.21 L371.1,467.92 L371.85,467.75 L372.6,467.72 L373.35,467.78 L374.1,467.87 L374.85,467.93 L375.6,467.91 L376.35,467.79 L377.1,467.62 L377.85,467.44 L378.6,467.32 L379.35,467.29 L380.1,467.36 L380.85,467.51 L381.6,467.66 L382.35,467.77 L383.1,467.82 L383.85,467.81 L384.6,467.74 L385.35,467.58 L386.1,467.38 L386.85,467.18 L387.6,467.03 L388.35,466.93 L389.1,466.86 L389.85,466.85 L390.6,466.9 L391.35,467.02 L392.1,467.17 L392.85,467.27 L393.6,467.24 L394.35,467.04 L395.1,466.72 L395.85,466.42 L396.6,466.26 L397.35,466.33 L398.1,466.57 L398.85,466.88 L399.6,467.19 L400.35,467.49 L401.1,467.74 L401.85,467.92 L402.6,467.96 L403.35,467.88 L404.1,467.75" fill="none" stroke="#e05a5c" stroke-width="1.15" stroke-linejoin="round" stroke-linecap="round" />
<path d="M239.1,482.8 L239.85,482.8 L240.6,482.8 L241.35,482.78 L242.1,482.76 L242.85,482.73 L243.6,482.72 L244.35,482.71 L245.1,482.71 L245.85,482.72 L246.6,482.74 L247.35,482.76 L248.1,482.78 L248.85,482.79 L249.6,482.81 L250.35,482.82 L251.1,482.83 L251.85,482.84 L252.6,482.85 L253.35,482.86 L254.1,482.88 L254.85,482.89 L255.6,482.88 L256.35,482.86 L257.1,482.84 L257.85,482.83 L258.6,482.83 L259.35,482.86 L260.1,482.89 L260.85,482.91 L261.6,482.9 L262.35,482.86 L263.1,482.82 L263.85,482.81 L264.6,482.83 L265.35,482.87 L266.1,482.9 L266.85,482.92 L267.6,482.92 L268.35,482.91 L269.1,482.89 L269.85,482.87 L270.6,482.86 L271.35,482.84 L272.1,482.84 L272.85,482.83 L273.6,482.82 L274.35,482.81 L275.1,482.8 L275.85,482.79 L276.6,482.78 L277.35,482.77 L278.1,482.76 L278.85,482.76 L279.6,482.77 L280.35,482.78 L281.1,482.78 L281.85,482.78 L282.6,482.77 L283.35,482.78 L284.1,482.82 L284.85,482.86 L285.6,482.9 L286.35,482.94 L287.1,482.96 L287.85,482.99 L288.6,483.02 L289.35,483.02 L290.1,483 L290.85,482.95 L291.6,482.92 L292.35,482.92 L293.1,482.94 L293.85,482.95 L294.6,482.94 L295.35,482.91 L296.1,482.87 L296.85,482.85 L297.6,482.85 L298.35,482.86 L299.1,482.87 L299.85,482.86 L300.6,482.81 L301.35,482.75 L302.1,482.71 L302.85,482.71 L303.6,482.76 L304.35,482.85 L305.1,482.94 L305.85,482.98 L306.6,482.98 L307.35,482.96 L308.1,482.95 L308.85,482.95 L309.6,482.92 L310.35,482.87 L311.1,482.8 L311.85,482.75 L312.6,482.72 L313.35,482.73 L314.1,482.75 L314.85,482.76 L315.6,482.74 L316.35,482.72 L317.1,482.7 L317.85,482.71 L318.6,482.74 L319.35,482.79 L320.1,482.85 L320.85,482.9 L321.6,482.94 L322.35,482.96 L323.1,482.97 L323.85,482.98 L324.6,482.99 L325.35,483 L326.1,483.03 L326.85,483.06 L327.6,483.08 L328.35,483.08 L329.1,483.07 L329.85,483.02 L330.6,482.96 L331.35,482.9 L332.1,482.85 L332.85,482.84 L333.6,482.84 L334.35,482.85 L335.1,482.87 L335.85,482.91 L336.6,482.96 L337.35,483.02 L338.1,483.07 L338.85,483.11 L339.6,483.11 L340.35,483.06 L341.1,482.98 L341.85,482.88 L342.6,482.8 L343.35,482.73 L344.1,482.68 L344.85,482.64 L345.6,482.64 L346.35,482.68 L347.1,482.74 L347.85,482.8 L348.6,482.83 L349.35,482.81 L350.1,482.77 L350.85,482.74 L351.6,482.73 L352.35,482.76 L353.1,482.83 L353.85,482.95 L354.6,483.09 L355.35,483.21 L356.1,483.29 L356.85,483.32 L357.6,483.3 L358.35,483.28 L359.1,483.3 L359.85,483.38 L360.6,483.52 L361.35,483.68 L362.1,483.84 L362.85,483.92 L363.6,483.89 L364.35,483.75 L365.1,483.56 L365.85,483.41 L366.6,483.34 L367.35,483.37 L368.1,483.43 L368.85,483.44 L369.6,483.35 L370.35,483.17 L371.1,482.98 L371.85,482.87 L372.6,482.88 L373.35,483 L374.1,483.15 L374.85,483.28 L375.6,483.33 L376.35,483.26 L377.1,483.07 L377.85,482.82 L378.6,482.61 L379.35,482.52 L380.1,482.56 L380.85,482.67 L381.6,482.76 L382.35,482.8 L383.1,482.81 L383.85,482.83 L384.6,482.85 L385.35,482.85 L386.1,482.81 L386.85,482.76 L387.6,482.73 L388.35,482.76 L389.1,482.83 L389.85,482.9 L390.6,482.92 L391.35,482.88 L392.1,482.79 L392.85,482.7 L393.6,482.65 L394.35,482.64 L395.1,482.64 L395.85,482.63 L396.6,482.58 L397.35,482.53 L398.1,482.49 L398.85,482.46 L399.6,482.41 L400.35,482.33 L401.1,482.24 L401.85,482.19 L402.6,482.18 L403.35,482.18 L404.1,482.15" fill="none" stroke="#6a3557" stroke-width="1.15" stroke-linejoin="round" stroke-linecap="round" />
<path d="M295.9,249.3 L284.6,442.6" fill="none" stroke="#333333" stroke-width="1.0" stroke-linejoin="round" stroke-linecap="round" stroke-dasharray="3.4,2.4" stroke-linecap="butt"/>
<path d="M352.4,261 L349.8,290 L338,425.8 L360.4,442.6 L360.4,476.8" fill="none" stroke="#333333" stroke-width="1.0" stroke-linejoin="round" stroke-linecap="round" stroke-dasharray="3.4,2.4" stroke-linecap="butt"/>
<rect x="239.1" y="188.4" width="165.4" height="314.2" fill="none" stroke="#4a4a4a" stroke-width="1.15" />
<line x1="239.1" y1="502.6" x2="239.1" y2="505.4" stroke="#4a4a4a" stroke-width="1.2" />
<line x1="321.8" y1="502.6" x2="321.8" y2="505.4" stroke="#4a4a4a" stroke-width="1.2" />
<line x1="404.5" y1="502.6" x2="404.5" y2="505.4" stroke="#4a4a4a" stroke-width="1.2" />
<line x1="280.45" y1="502.6" x2="280.45" y2="504.4" stroke="#4a4a4a" stroke-width="1.0" />
<line x1="363.15" y1="502.6" x2="363.15" y2="504.4" stroke="#4a4a4a" stroke-width="1.0" />
<line x1="399.9" y1="192.9" x2="399.9" y2="220.8" stroke="#1a1a1a" stroke-width="1.0" />
<line x1="398.5" y1="192.9" x2="401.3" y2="192.9" stroke="#1a1a1a" stroke-width="1.0" />
<line x1="398.5" y1="220.8" x2="401.3" y2="220.8" stroke="#1a1a1a" stroke-width="1.0" />
<text x="243.77" y="202.88" font-size="9.9" text-anchor="start" fill="#231f20" stroke="#231f20" stroke-width="0.15" textLength="17.87" lengthAdjust="spacingAndGlyphs" transform="rotate(0.2 243.77 202.88)" >PdC</text>
<text x="293.5" y="245.59" font-size="10.5" text-anchor="start" fill="#231f20" stroke="#231f20" stroke-width="0.15" textLength="18.11" lengthAdjust="spacingAndGlyphs" transform="rotate(0.2 293.5 245.59)" >CO<tspan font-size="72%" dy="0.4em">A</tspan><tspan dy="-0.288em"></tspan></text>
<text x="349.68" y="256.97" font-size="10.5" text-anchor="start" fill="#231f20" stroke="#231f20" stroke-width="0.15" textLength="18.03" lengthAdjust="spacingAndGlyphs" transform="rotate(0.2 349.68 256.97)" >CO<tspan font-size="72%" dy="0.4em">B</tspan><tspan dy="-0.288em"></tspan></text>
<text x="362.39" y="478.18" font-size="10.5" text-anchor="start" fill="#231f20" stroke="#231f20" stroke-width="0.15" textLength="18.66" lengthAdjust="spacingAndGlyphs" transform="rotate(0.2 362.39 478.18)" >CO<tspan font-size="72%" dy="0.4em">H</tspan><tspan dy="-0.288em"></tspan></text>
<text x="376.22" y="209.65" font-size="9.85" text-anchor="start" fill="#231f20" stroke="#231f20" stroke-width="0.15" textLength="20.06" lengthAdjust="spacingAndGlyphs" transform="rotate(0.2 376.22 209.65)" >0.01</text>
<text x="226.91" y="515.82" font-size="9.7" text-anchor="start" fill="#231f20" stroke="#231f20" stroke-width="0.15" textLength="23.48" lengthAdjust="spacingAndGlyphs" transform="rotate(0.2 226.91 515.82)" >2100</text>
<text x="309.94" y="516.07" font-size="9.7" text-anchor="start" fill="#231f20" stroke="#231f20" stroke-width="0.15" textLength="23.09" lengthAdjust="spacingAndGlyphs" transform="rotate(0.2 309.94 516.07)" >1900</text>
<text x="392.97" y="516.1" font-size="9.7" text-anchor="start" fill="#231f20" stroke="#231f20" stroke-width="0.15" textLength="23" lengthAdjust="spacingAndGlyphs" transform="rotate(0.2 392.97 516.1)" >1700</text>
<text x="274.87" y="535.27" font-size="8.7" text-anchor="start" fill="#231f20" stroke="#231f20" stroke-width="0.15" textLength="93.67" lengthAdjust="spacingAndGlyphs" transform="rotate(0.2 274.87 535.27)" >Wavenumber (cm<tspan font-size="70%" dy="-0.75em">−1</tspan><tspan dy="0.525em">)</tspan></text>
<text x="232.27" y="376.66" font-size="9.2" text-anchor="start" fill="#231f20" stroke="#231f20" stroke-width="0.15" textLength="63.73" lengthAdjust="spacingAndGlyphs" transform="rotate(-89.8 232.27 376.66)" >Transmittance</text>
<line x1="415.4" y1="261.4" x2="415.4" y2="458.8" stroke="#1a1a1a" stroke-width="1.0" />
<path d="M415.4,256.9 L413.4,262.5 L417.4,262.5 Z" fill="#1a1a1a"/>
<text x="406.59" y="252.37" font-size="10.3" text-anchor="start" fill="#231f20" stroke="#231f20" stroke-width="0.15" textLength="30.61" lengthAdjust="spacingAndGlyphs" transform="rotate(0.2 406.59 252.37)" >−1.4 V</text>
<text x="407.44" y="470.12" font-size="10.3" text-anchor="start" fill="#231f20" stroke="#231f20" stroke-width="0.15" textLength="29.41" lengthAdjust="spacingAndGlyphs" transform="rotate(0.2 407.44 470.12)" >−0.1 V</text>
<text x="407.9" y="484.88" font-size="10.3" text-anchor="start" fill="#231f20" stroke="#231f20" stroke-width="0.15" textLength="19.03" lengthAdjust="spacingAndGlyphs" transform="rotate(0.2 407.9 484.88)" >OCV</text>
<text x="426.21" y="390.23" font-size="9.4" text-anchor="start" fill="#231f20" stroke="#231f20" stroke-width="0.15" textLength="68.08" lengthAdjust="spacingAndGlyphs" transform="rotate(-89.8 426.21 390.23)" >−0.1 V interval</text>
</svg>
</body></html>
